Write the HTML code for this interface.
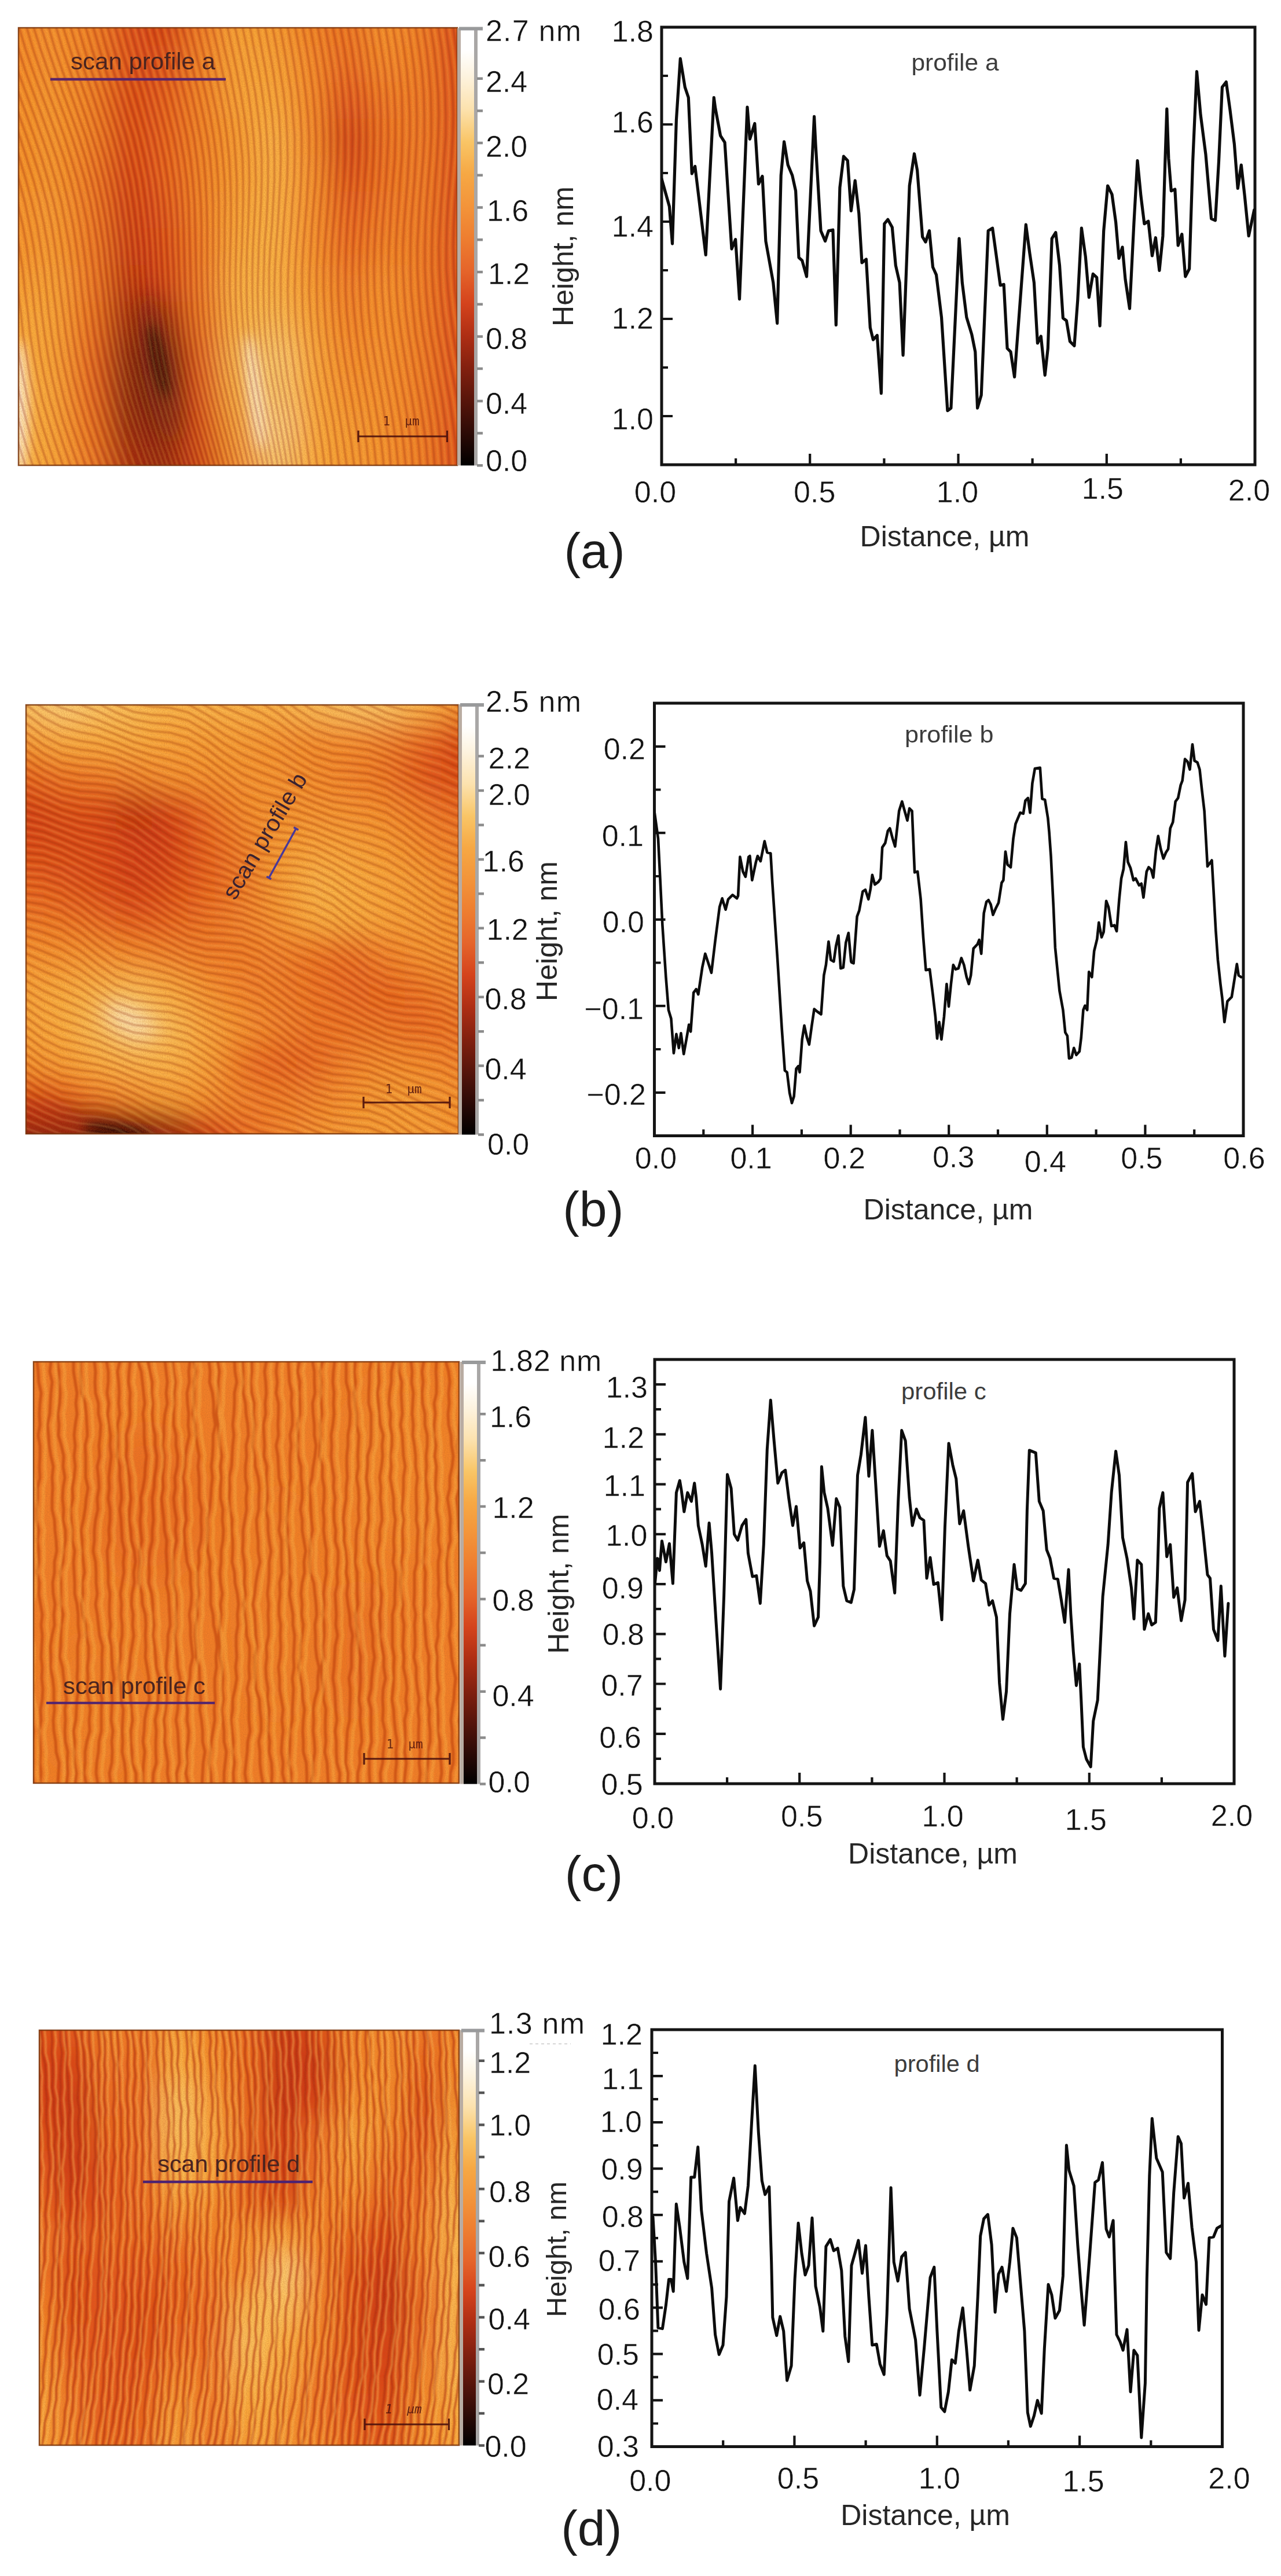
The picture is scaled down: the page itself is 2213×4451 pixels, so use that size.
<!DOCTYPE html>
<html lang="en"><head><meta charset="utf-8"><title>AFM scan profiles</title>
<style>html,body{margin:0;padding:0;background:#fff}svg{display:block}</style></head>
<body>
<svg width="2213" height="4451" viewBox="0 0 2213 4451" font-family='"Liberation Sans", sans-serif'>
<defs>
<filter id="bl30" x="-30%" y="-30%" width="160%" height="160%"><feGaussianBlur stdDeviation="30"/></filter>
<filter id="bl18" x="-30%" y="-30%" width="160%" height="160%"><feGaussianBlur stdDeviation="18"/></filter>
<filter id="bl10" x="-30%" y="-30%" width="160%" height="160%"><feGaussianBlur stdDeviation="10"/></filter>
<filter id="bl1"><feGaussianBlur stdDeviation="1.2"/></filter>
<filter id="grain" x="0" y="0" width="100%" height="100%"><feTurbulence type="fractalNoise" baseFrequency="0.55" numOctaves="2" seed="7"/><feColorMatrix type="matrix" values="0 0 0 0 0.45  0 0 0 0 0.12  0 0 0 0 0.02  0.9 0.9 0 0 -0.72"/></filter>
</defs>
<rect width="2213" height="4451" fill="#fff"/>
<clipPath id="clipa"><rect x="31" y="47" width="760" height="758"/></clipPath>
<g clip-path="url(#clipa)">
<rect x="31" y="47" width="760" height="758" fill="#f28028"/>
<filter id="tga" x="-5%" y="-5%" width="110%" height="110%"><feGaussianBlur stdDeviation="26.5"/></filter>
<g filter="url(#tga)">
<rect x="-71" y="-55" width="134" height="134" fill="#f5892b"/>
<rect x="63" y="-55" width="64" height="134" fill="#f7922d"/>
<rect x="126" y="-55" width="64" height="134" fill="#f28028"/>
<rect x="189" y="-55" width="64" height="134" fill="#e0501a"/>
<rect x="253" y="-55" width="64" height="134" fill="#d63e16"/>
<rect x="316" y="-55" width="64" height="134" fill="#f07825"/>
<rect x="379" y="-55" width="64" height="134" fill="#f9a438"/>
<rect x="443" y="-55" width="64" height="134" fill="#f89b32"/>
<rect x="506" y="-55" width="64" height="134" fill="#f28028"/>
<rect x="569" y="-55" width="64" height="134" fill="#ed6f23"/>
<rect x="633" y="-55" width="64" height="134" fill="#f7922d"/>
<rect x="696" y="-55" width="64" height="134" fill="#f17c27"/>
<rect x="759" y="-55" width="134" height="134" fill="#e0501a"/>
<rect x="-71" y="79" width="134" height="64" fill="#f5892b"/>
<rect x="63" y="79" width="64" height="64" fill="#f7922d"/>
<rect x="126" y="79" width="64" height="64" fill="#f28028"/>
<rect x="189" y="79" width="64" height="64" fill="#e0501a"/>
<rect x="253" y="79" width="64" height="64" fill="#e0501a"/>
<rect x="316" y="79" width="64" height="64" fill="#f28028"/>
<rect x="379" y="79" width="64" height="64" fill="#f9a438"/>
<rect x="443" y="79" width="64" height="64" fill="#f9a438"/>
<rect x="506" y="79" width="64" height="64" fill="#f5892b"/>
<rect x="569" y="79" width="64" height="64" fill="#ea6620"/>
<rect x="633" y="79" width="64" height="64" fill="#f5892b"/>
<rect x="696" y="79" width="64" height="64" fill="#f17c27"/>
<rect x="759" y="79" width="134" height="64" fill="#e0501a"/>
<rect x="-71" y="142" width="134" height="64" fill="#f68e2c"/>
<rect x="63" y="142" width="64" height="64" fill="#f7962f"/>
<rect x="126" y="142" width="64" height="64" fill="#f28028"/>
<rect x="189" y="142" width="64" height="64" fill="#da4417"/>
<rect x="253" y="142" width="64" height="64" fill="#e65c1d"/>
<rect x="316" y="142" width="64" height="64" fill="#f28028"/>
<rect x="379" y="142" width="64" height="64" fill="#f9a438"/>
<rect x="443" y="142" width="64" height="64" fill="#fbac3d"/>
<rect x="506" y="142" width="64" height="64" fill="#f5892b"/>
<rect x="569" y="142" width="64" height="64" fill="#e0501a"/>
<rect x="633" y="142" width="64" height="64" fill="#f07825"/>
<rect x="696" y="142" width="64" height="64" fill="#f17c27"/>
<rect x="759" y="142" width="134" height="64" fill="#e0501a"/>
<rect x="-71" y="205" width="134" height="64" fill="#f68e2c"/>
<rect x="63" y="205" width="64" height="64" fill="#f7962f"/>
<rect x="126" y="205" width="64" height="64" fill="#f28028"/>
<rect x="189" y="205" width="64" height="64" fill="#da4417"/>
<rect x="253" y="205" width="64" height="64" fill="#e65c1d"/>
<rect x="316" y="205" width="64" height="64" fill="#f28028"/>
<rect x="379" y="205" width="64" height="64" fill="#f89b32"/>
<rect x="443" y="205" width="64" height="64" fill="#fcb64a"/>
<rect x="506" y="205" width="64" height="64" fill="#f5892b"/>
<rect x="569" y="205" width="64" height="64" fill="#d03b14"/>
<rect x="633" y="205" width="64" height="64" fill="#ed6f23"/>
<rect x="696" y="205" width="64" height="64" fill="#f17c27"/>
<rect x="759" y="205" width="134" height="64" fill="#e0501a"/>
<rect x="-71" y="268" width="134" height="64" fill="#f68e2c"/>
<rect x="63" y="268" width="64" height="64" fill="#f7962f"/>
<rect x="126" y="268" width="64" height="64" fill="#f07825"/>
<rect x="189" y="268" width="64" height="64" fill="#d63e16"/>
<rect x="253" y="268" width="64" height="64" fill="#e65c1d"/>
<rect x="316" y="268" width="64" height="64" fill="#f28028"/>
<rect x="379" y="268" width="64" height="64" fill="#f89b32"/>
<rect x="443" y="268" width="64" height="64" fill="#fcb64a"/>
<rect x="506" y="268" width="64" height="64" fill="#f7922d"/>
<rect x="569" y="268" width="64" height="64" fill="#da4417"/>
<rect x="633" y="268" width="64" height="64" fill="#ed6f23"/>
<rect x="696" y="268" width="64" height="64" fill="#f17c27"/>
<rect x="759" y="268" width="134" height="64" fill="#e0501a"/>
<rect x="-71" y="331" width="134" height="64" fill="#f7922d"/>
<rect x="63" y="331" width="64" height="64" fill="#f89b32"/>
<rect x="126" y="331" width="64" height="64" fill="#f07825"/>
<rect x="189" y="331" width="64" height="64" fill="#d03b14"/>
<rect x="253" y="331" width="64" height="64" fill="#e0501a"/>
<rect x="316" y="331" width="64" height="64" fill="#f28028"/>
<rect x="379" y="331" width="64" height="64" fill="#f9a438"/>
<rect x="443" y="331" width="64" height="64" fill="#fcb64a"/>
<rect x="506" y="331" width="64" height="64" fill="#f7922d"/>
<rect x="569" y="331" width="64" height="64" fill="#e65c1d"/>
<rect x="633" y="331" width="64" height="64" fill="#f07825"/>
<rect x="696" y="331" width="64" height="64" fill="#f17c27"/>
<rect x="759" y="331" width="134" height="64" fill="#e0501a"/>
<rect x="-71" y="394" width="134" height="64" fill="#f7922d"/>
<rect x="63" y="394" width="64" height="64" fill="#f89b32"/>
<rect x="126" y="394" width="64" height="64" fill="#f07825"/>
<rect x="189" y="394" width="64" height="64" fill="#ca3713"/>
<rect x="253" y="394" width="64" height="64" fill="#da4417"/>
<rect x="316" y="394" width="64" height="64" fill="#f07825"/>
<rect x="379" y="394" width="64" height="64" fill="#fbac3d"/>
<rect x="443" y="394" width="64" height="64" fill="#fcb64a"/>
<rect x="506" y="394" width="64" height="64" fill="#f7922d"/>
<rect x="569" y="394" width="64" height="64" fill="#ea6620"/>
<rect x="633" y="394" width="64" height="64" fill="#f28028"/>
<rect x="696" y="394" width="64" height="64" fill="#f17c27"/>
<rect x="759" y="394" width="134" height="64" fill="#e0501a"/>
<rect x="-71" y="458" width="134" height="64" fill="#f89b32"/>
<rect x="63" y="458" width="64" height="64" fill="#f9a438"/>
<rect x="126" y="458" width="64" height="64" fill="#f07825"/>
<rect x="189" y="458" width="64" height="64" fill="#b82b10"/>
<rect x="253" y="458" width="64" height="64" fill="#d03b14"/>
<rect x="316" y="458" width="64" height="64" fill="#f07825"/>
<rect x="379" y="458" width="64" height="64" fill="#fcb64a"/>
<rect x="443" y="458" width="64" height="64" fill="#fcb64a"/>
<rect x="506" y="458" width="64" height="64" fill="#f89b32"/>
<rect x="569" y="458" width="64" height="64" fill="#f07825"/>
<rect x="633" y="458" width="64" height="64" fill="#f7922d"/>
<rect x="696" y="458" width="64" height="64" fill="#f17c27"/>
<rect x="759" y="458" width="134" height="64" fill="#e0501a"/>
<rect x="-71" y="521" width="134" height="64" fill="#fbac3d"/>
<rect x="63" y="521" width="64" height="64" fill="#f9a438"/>
<rect x="126" y="521" width="64" height="64" fill="#ed6f23"/>
<rect x="189" y="521" width="64" height="64" fill="#99220d"/>
<rect x="253" y="521" width="64" height="64" fill="#99220d"/>
<rect x="316" y="521" width="64" height="64" fill="#ed6f23"/>
<rect x="379" y="521" width="64" height="64" fill="#fcb64a"/>
<rect x="443" y="521" width="64" height="64" fill="#fcbf58"/>
<rect x="506" y="521" width="64" height="64" fill="#f9a438"/>
<rect x="569" y="521" width="64" height="64" fill="#f28028"/>
<rect x="633" y="521" width="64" height="64" fill="#f7922d"/>
<rect x="696" y="521" width="64" height="64" fill="#f17c27"/>
<rect x="759" y="521" width="134" height="64" fill="#e0501a"/>
<rect x="-71" y="584" width="134" height="64" fill="#fbac3d"/>
<rect x="63" y="584" width="64" height="64" fill="#f9a438"/>
<rect x="126" y="584" width="64" height="64" fill="#ea6620"/>
<rect x="189" y="584" width="64" height="64" fill="#7c1a0b"/>
<rect x="253" y="584" width="64" height="64" fill="#541108"/>
<rect x="316" y="584" width="64" height="64" fill="#e65c1d"/>
<rect x="379" y="584" width="64" height="64" fill="#fcbf58"/>
<rect x="443" y="584" width="64" height="64" fill="#fdd37e"/>
<rect x="506" y="584" width="64" height="64" fill="#fbac3d"/>
<rect x="569" y="584" width="64" height="64" fill="#f5892b"/>
<rect x="633" y="584" width="64" height="64" fill="#f7922d"/>
<rect x="696" y="584" width="64" height="64" fill="#f17c27"/>
<rect x="759" y="584" width="134" height="64" fill="#e0501a"/>
<rect x="-71" y="647" width="134" height="64" fill="#fcb64a"/>
<rect x="63" y="647" width="64" height="64" fill="#f9a438"/>
<rect x="126" y="647" width="64" height="64" fill="#ea6620"/>
<rect x="189" y="647" width="64" height="64" fill="#7c1a0b"/>
<rect x="253" y="647" width="64" height="64" fill="#611409"/>
<rect x="316" y="647" width="64" height="64" fill="#e0501a"/>
<rect x="379" y="647" width="64" height="64" fill="#fcb64a"/>
<rect x="443" y="647" width="64" height="64" fill="#fdd37e"/>
<rect x="506" y="647" width="64" height="64" fill="#fbac3d"/>
<rect x="569" y="647" width="64" height="64" fill="#f7922d"/>
<rect x="633" y="647" width="64" height="64" fill="#f7922d"/>
<rect x="696" y="647" width="64" height="64" fill="#f17c27"/>
<rect x="759" y="647" width="134" height="64" fill="#e0501a"/>
<rect x="-71" y="710" width="134" height="64" fill="#fcb64a"/>
<rect x="63" y="710" width="64" height="64" fill="#f9a438"/>
<rect x="126" y="710" width="64" height="64" fill="#ed6f23"/>
<rect x="189" y="710" width="64" height="64" fill="#8a1e0c"/>
<rect x="253" y="710" width="64" height="64" fill="#7c1a0b"/>
<rect x="316" y="710" width="64" height="64" fill="#da4417"/>
<rect x="379" y="710" width="64" height="64" fill="#f9a438"/>
<rect x="443" y="710" width="64" height="64" fill="#fedd98"/>
<rect x="506" y="710" width="64" height="64" fill="#fbac3d"/>
<rect x="569" y="710" width="64" height="64" fill="#f89b32"/>
<rect x="633" y="710" width="64" height="64" fill="#f7922d"/>
<rect x="696" y="710" width="64" height="64" fill="#f17c27"/>
<rect x="759" y="710" width="134" height="64" fill="#e0501a"/>
<rect x="-71" y="773" width="134" height="134" fill="#fcb64a"/>
<rect x="63" y="773" width="64" height="134" fill="#f9a438"/>
<rect x="126" y="773" width="64" height="134" fill="#f07825"/>
<rect x="189" y="773" width="64" height="134" fill="#a9270f"/>
<rect x="253" y="773" width="64" height="134" fill="#8a1e0c"/>
<rect x="316" y="773" width="64" height="134" fill="#d03b14"/>
<rect x="379" y="773" width="64" height="134" fill="#f7922d"/>
<rect x="443" y="773" width="64" height="134" fill="#fdd37e"/>
<rect x="506" y="773" width="64" height="134" fill="#fbac3d"/>
<rect x="569" y="773" width="64" height="134" fill="#f89b32"/>
<rect x="633" y="773" width="64" height="134" fill="#f7922d"/>
<rect x="696" y="773" width="64" height="134" fill="#f17c27"/>
<rect x="759" y="773" width="134" height="134" fill="#e0501a"/>
</g>
<g filter="url(#bl18)">
<ellipse cx="275" cy="637" rx="30" ry="130" fill="#6e170a" opacity="0.7" transform="rotate(-10 275 637)"/>
</g>
<g filter="url(#bl10)">
<ellipse cx="441" cy="679" rx="13" ry="100" fill="#fef3d9" opacity="0.9" transform="rotate(-7 441 679)"/>
<ellipse cx="33" cy="707" rx="15" ry="120" fill="#fff6e3" opacity="0.95"/>
</g>
<g filter="url(#bl10)">
<ellipse cx="274" cy="624" rx="8" ry="66" fill="#0d0201" opacity="0.95" transform="rotate(-12 274 624)"/>
</g>
<path d="M-182,47 -173,85 -162,123 -150,161 -136,199 -122,236 -109,274 -96,312 -84,350 -74,388 -66,426 -59,464 -54,502 -50,540 -46,578 -41,616 -35,653 -27,691 -18,729 -7,767 5,805M-169,47 -160,85 -149,123 -137,161 -123,199 -109,236 -96,274 -83,312 -71,350 -62,388 -54,426 -47,464 -42,502 -38,540 -33,578 -28,616 -22,653 -15,691 -5,729 6,767 18,805M-157,47 -147,85 -136,123 -124,161 -110,199 -96,236 -83,274 -70,312 -59,350 -49,388 -41,426 -35,464 -30,502 -25,540 -21,578 -16,616 -10,653 -2,691 7,729 19,767 31,805M-144,47 -135,85 -123,123 -111,161 -97,199 -83,236 -70,274 -57,312 -46,350 -36,388 -29,426 -23,464 -18,502 -13,540 -9,578 -4,616 3,653 10,691 20,729 32,767 44,805M-132,47 -122,85 -111,123 -98,161 -84,199 -70,236 -57,274 -44,312 -33,350 -24,388 -16,426 -10,464 -5,502 -1,540 3,578 9,616 15,653 23,691 33,729 44,767 57,805M-119,47 -109,85 -98,123 -85,161 -71,199 -57,236 -44,274 -31,312 -21,350 -11,388 -4,426 2,464 7,502 11,540 16,578 21,616 27,653 36,691 46,729 57,767 70,805M-106,47 -96,85 -85,123 -72,161 -58,199 -44,236 -31,274 -19,312 -8,350 1,388 9,426 14,464 19,502 23,540 28,578 33,616 40,653 48,691 58,729 70,767 83,805M-94,47 -84,85 -72,123 -59,161 -45,199 -31,236 -18,274 -6,312 5,350 14,388 21,426 27,464 31,502 36,540 40,578 46,616 52,653 61,691 71,729 83,767 96,805M-81,47 -71,85 -59,123 -46,161 -32,199 -18,236 -5,274 7,312 17,350 26,388 33,426 39,464 43,502 48,540 52,578 58,616 65,653 73,691 84,729 96,767 109,805M-69,47 -58,85 -46,123 -33,161 -19,199 -5,236 8,274 20,312 30,350 39,388 46,426 51,464 56,502 60,540 65,578 70,616 77,653 86,691 97,729 109,767 122,805M-56,47 -45,85 -33,123 -20,161 -6,199 8,236 21,274 33,312 43,350 51,388 58,426 63,464 68,502 72,540 77,578 83,616 90,653 99,691 109,729 122,767 135,805M-43,47 -33,85 -20,123 -7,161 7,199 21,236 34,274 45,312 55,350 64,388 70,426 76,464 80,502 84,540 89,578 95,616 102,653 111,691 122,729 135,767 148,805M-31,47 -20,85 -7,123 6,161 20,199 34,236 46,274 58,312 68,350 76,388 83,426 88,464 92,502 97,540 101,578 107,616 115,653 124,691 135,729 148,767 161,805M-18,47 -7,85 5,123 19,161 33,199 46,236 59,274 71,312 81,350 89,388 95,426 100,464 104,502 109,540 114,578 120,616 127,653 137,691 148,729 161,767 174,805M-5,47 6,85 18,123 32,161 46,199 59,236 72,274 83,312 93,350 101,388 107,426 112,464 117,502 121,540 126,578 132,616 140,653 150,691 161,729 173,767 187,805M7,47 19,85 31,123 45,161 59,199 72,236 85,274 96,312 106,350 113,388 120,426 125,464 129,502 133,540 138,578 145,616 153,653 162,691 174,729 186,767 200,805M20,47 32,85 44,123 58,161 72,199 85,236 98,274 109,312 118,350 126,388 132,426 137,464 141,502 146,540 151,578 157,616 165,653 175,691 186,729 199,767 213,805M33,47 44,85 57,123 71,161 85,199 98,236 111,274 122,312 131,350 138,388 144,426 149,464 153,502 158,540 163,578 170,616 178,653 188,691 199,729 212,767 226,805M46,47 57,85 70,123 84,161 98,199 111,236 123,274 134,312 143,350 151,388 156,426 161,464 165,502 170,540 175,578 182,616 190,653 200,691 212,729 225,767 239,805M58,47 70,85 83,123 97,161 111,199 124,236 136,274 147,312 156,350 163,388 169,426 173,464 178,502 182,540 188,578 194,616 203,653 213,691 225,729 238,767 252,805M71,47 83,85 96,123 109,161 123,199 136,236 148,274 158,312 167,350 173,388 179,426 183,464 187,502 192,540 197,578 204,616 212,653 222,691 234,729 247,767 261,805M84,47 95,85 108,123 122,161 135,199 148,236 159,274 169,312 177,350 184,388 189,426 193,464 197,502 201,540 206,578 213,616 221,653 231,691 243,729 256,767 269,805M97,47 108,85 121,123 134,161 147,199 159,236 171,274 180,312 188,350 194,388 199,426 203,464 206,502 210,540 215,578 222,616 230,653 240,691 252,729 264,767 278,805M109,47 121,85 133,123 146,161 159,199 171,236 182,274 191,312 199,350 204,388 209,426 212,464 216,502 220,540 225,578 231,616 239,653 249,691 261,729 273,767 286,805M122,47 133,85 146,123 159,161 171,199 183,236 193,274 202,312 209,350 215,388 219,426 222,464 225,502 229,540 234,578 240,616 248,653 258,691 269,729 282,767 295,805M135,47 146,85 158,123 171,161 183,199 195,236 205,274 213,312 220,350 225,388 229,426 232,464 235,502 238,540 243,578 249,616 257,653 267,691 278,729 290,767 303,805M148,47 159,85 171,123 183,161 195,199 206,236 216,274 224,312 230,350 235,388 239,426 241,464 244,502 248,540 252,578 258,616 266,653 276,691 287,729 299,767 312,805M161,47 172,85 183,123 195,161 207,199 218,236 227,274 235,312 241,350 245,388 249,426 251,464 254,502 257,540 262,578 268,616 275,653 285,691 296,729 308,767 320,805M174,47 184,85 196,123 208,161 219,199 230,236 239,274 246,312 252,350 256,388 259,426 261,464 263,502 266,540 271,578 277,616 285,653 294,691 305,729 317,767 328,805M186,47 197,85 208,123 220,161 231,199 241,236 250,274 257,312 262,350 266,388 269,426 271,464 273,502 276,540 280,578 286,616 294,653 303,691 314,729 325,767 337,805M199,47 210,85 221,123 232,161 243,199 253,236 261,274 268,312 273,350 276,388 278,426 280,464 282,502 285,540 289,578 295,616 303,653 312,691 323,729 334,767 345,805M212,47 222,85 234,123 245,161 255,199 265,236 273,274 279,312 283,350 286,388 288,426 290,464 292,502 295,540 299,578 304,616 312,653 321,691 332,729 343,767 354,805M225,47 235,85 246,123 257,161 267,199 276,236 284,274 290,312 294,350 297,388 298,426 300,464 301,502 304,540 308,578 314,616 321,653 330,691 340,729 351,767 362,805M238,47 248,85 259,123 269,161 279,199 288,236 295,274 301,312 305,350 307,388 308,426 309,464 311,502 313,540 317,578 323,616 330,653 339,691 349,729 360,767 371,805M251,47 261,85 271,123 282,161 291,199 300,236 307,274 312,312 315,350 317,388 318,426 319,464 320,502 323,540 327,578 332,616 339,653 348,691 358,729 369,767 379,805M264,47 273,85 284,123 294,161 303,199 311,236 318,274 323,312 326,350 327,388 328,426 329,464 330,502 332,540 336,578 341,616 349,653 357,691 367,729 377,767 387,805M277,47 286,85 296,123 306,161 315,199 323,236 329,274 333,312 336,350 337,388 338,426 339,464 340,502 342,540 345,578 351,616 358,653 366,691 376,729 386,767 396,805M290,47 299,85 309,123 318,161 327,199 335,236 340,274 344,312 347,350 348,388 348,426 348,464 349,502 351,540 355,578 360,616 367,653 375,691 385,729 395,767 404,805M303,47 312,85 321,123 331,161 339,199 346,236 352,274 355,312 357,350 358,388 358,426 358,464 359,502 361,540 364,578 369,616 376,653 385,691 394,729 403,767 413,805M315,47 325,85 334,123 343,161 351,199 358,236 363,274 366,312 368,350 368,388 368,426 368,464 368,502 370,540 373,578 379,616 385,653 394,691 403,729 412,767 421,805M328,47 337,85 346,123 355,161 363,199 369,236 374,274 377,312 378,350 378,388 378,426 377,464 378,502 380,540 383,578 388,616 395,653 403,691 412,729 421,767 430,805M341,47 350,85 359,123 367,161 375,199 381,236 385,274 388,312 389,350 388,388 388,426 387,464 387,502 389,540 392,578 397,616 404,653 412,691 421,729 429,767 438,805M354,47 363,85 372,123 380,161 387,199 392,236 396,274 398,312 399,350 399,388 398,426 397,464 397,502 399,540 402,578 407,616 413,653 421,691 430,729 438,767 446,805M367,47 376,85 384,123 392,161 399,199 404,236 407,274 409,312 409,350 409,388 408,426 407,464 407,502 408,540 411,578 416,616 422,653 430,691 438,729 447,767 455,805M380,47 388,85 397,123 404,161 411,199 415,236 419,274 420,312 420,350 419,388 418,426 416,464 416,502 418,540 421,578 425,616 432,653 439,691 447,729 456,767 463,805M393,47 401,85 409,123 416,161 422,199 427,236 430,274 431,312 430,350 429,388 427,426 426,464 426,502 427,540 430,578 435,616 441,653 448,691 456,729 464,767 471,805M406,47 414,85 422,123 429,161 434,199 438,236 441,274 442,312 441,350 439,388 437,426 436,464 436,502 437,540 440,578 444,616 450,653 457,691 465,729 473,767 480,805M419,47 427,85 434,123 441,161 446,199 450,236 452,274 452,312 451,350 449,388 447,426 446,464 445,502 446,540 449,578 453,616 459,653 467,691 474,729 481,767 488,805M432,47 439,85 447,123 453,161 458,199 461,236 463,274 463,312 462,350 460,388 457,426 456,464 455,502 456,540 458,578 463,616 469,653 476,691 483,729 490,767 496,805M445,47 452,85 459,123 465,161 470,199 473,236 474,274 474,312 472,350 470,388 467,426 465,464 465,502 465,540 468,578 472,616 478,653 485,691 492,729 499,767 505,805M458,47 465,85 472,123 477,161 482,199 484,236 485,274 484,312 482,350 480,388 477,426 475,464 474,502 475,540 478,578 482,616 487,653 494,691 501,729 507,767 513,805M471,47 478,85 484,123 490,161 494,199 496,236 497,274 496,312 493,350 490,388 488,426 485,464 485,502 485,540 488,578 492,616 497,653 504,691 511,729 517,767 522,805M484,47 491,85 497,123 503,161 506,199 509,236 509,274 508,312 505,350 503,388 500,426 498,464 497,502 498,540 500,578 505,616 510,653 517,691 524,729 530,767 535,805M497,47 504,85 510,123 515,161 519,199 521,236 521,274 520,312 518,350 515,388 512,426 510,464 509,502 510,540 513,578 518,616 523,653 530,691 537,729 543,767 548,805M510,47 517,85 523,123 528,161 532,199 534,236 534,274 532,312 530,350 527,388 524,426 522,464 522,502 523,540 526,578 531,616 536,653 543,691 550,729 556,767 561,805M523,47 530,85 536,123 541,161 544,199 546,236 546,274 545,312 542,350 539,388 537,426 535,464 534,502 536,540 539,578 543,616 549,653 556,691 563,729 569,767 573,805M536,47 543,85 549,123 554,161 557,199 559,236 559,274 557,312 554,350 551,388 549,426 547,464 547,502 548,540 551,578 556,616 562,653 569,691 576,729 581,767 586,805M549,47 556,85 562,123 567,161 570,199 571,236 571,274 569,312 567,350 564,388 561,426 559,464 559,502 561,540 564,578 569,616 575,653 582,691 588,729 594,767 599,805M562,47 569,85 575,123 579,161 582,199 584,236 583,274 581,312 579,350 576,388 573,426 572,464 572,502 574,540 577,578 582,616 588,653 595,691 601,729 607,767 612,805M575,47 582,85 588,123 592,161 595,199 596,236 596,274 594,312 591,350 588,388 586,426 584,464 584,502 586,540 590,578 595,616 601,653 608,691 614,729 620,767 624,805M588,47 595,85 600,123 605,161 608,199 609,236 608,274 606,312 603,350 600,388 598,426 597,464 597,502 599,540 603,578 608,616 614,653 621,691 627,729 633,767 637,805M601,47 608,85 613,123 618,161 620,199 621,236 620,274 618,312 615,350 612,388 610,426 609,464 609,502 612,540 616,578 621,616 627,653 634,691 640,729 646,767 650,805M614,47 621,85 626,123 630,161 633,199 633,236 633,274 630,312 628,350 625,388 622,426 621,464 622,502 624,540 628,578 634,616 640,653 647,691 653,729 659,767 663,805M627,47 634,85 639,123 643,161 645,199 646,236 645,274 643,312 640,350 637,388 635,426 634,464 635,502 637,540 641,578 647,616 653,653 660,691 666,729 672,767 675,805M640,47 646,85 652,123 656,161 658,199 658,236 657,274 655,312 652,350 649,388 647,426 646,464 647,502 650,540 654,578 660,616 666,653 673,691 679,729 684,767 688,805M653,47 659,85 665,123 668,161 670,199 671,236 669,274 667,312 664,350 661,388 659,426 659,464 660,502 663,540 667,578 673,616 679,653 686,691 692,729 697,767 701,805M666,47 672,85 677,123 681,161 683,199 683,236 682,274 679,312 676,350 674,388 672,426 671,464 672,502 675,540 680,578 686,616 692,653 699,691 705,729 710,767 713,805M679,47 685,85 690,123 694,161 695,199 695,236 694,274 691,312 689,350 686,388 684,426 684,464 685,502 688,540 693,578 699,616 705,653 712,691 718,729 723,767 726,805M692,47 698,85 703,123 706,161 708,199 708,236 706,274 704,312 701,350 698,388 696,426 696,464 698,502 701,540 706,578 712,616 718,653 725,691 731,729 736,767 739,805M705,47 711,85 716,123 719,161 720,199 720,236 718,274 716,312 713,350 710,388 709,426 709,464 710,502 714,540 718,578 725,616 731,653 738,691 744,729 748,767 751,805M718,47 724,85 729,123 732,161 733,199 733,236 731,274 728,312 725,350 723,388 721,426 721,464 723,502 726,540 731,578 738,616 744,653 751,691 757,729 761,767 764,805M731,47 737,85 741,123 744,161 745,199 745,236 743,274 740,312 737,350 735,388 734,426 734,464 736,502 739,540 744,578 751,616 757,653 764,691 769,729 774,767 776,805M744,47 750,85 754,123 757,161 758,199 757,236 755,274 752,312 750,350 747,388 746,426 746,464 748,502 752,540 757,578 764,616 770,653 777,691 782,729 787,767 789,805M757,47 763,85 767,123 769,161 770,199 770,236 767,274 765,312 762,350 760,388 758,426 759,464 761,502 765,540 770,578 776,616 783,653 790,691 795,729 799,767 802,805M770,47 775,85 780,123 782,161 783,199 782,236 780,274 777,312 774,350 772,388 771,426 771,464 774,502 778,540 783,578 789,616 796,653 803,691 808,729 812,767 814,805M783,47 788,85 792,123 795,161 795,199 794,236 792,274 789,312 786,350 784,388 783,426 784,464 786,502 791,540 796,578 802,616 809,653 815,691 821,729 825,767 827,805M796,47 801,85 805,123 807,161 808,199 806,236 804,274 801,312 798,350 796,388 796,426 796,464 799,502 803,540 809,578 815,616 822,653 828,691 834,729 837,767 839,805M809,47 814,85 818,123 820,161 820,199 819,236 816,274 813,312 811,350 809,388 808,426 809,464 812,502 816,540 822,578 828,616 835,653 841,691 846,729 850,767 852,805M822,47 827,85 830,123 832,161 832,199 831,236 829,274 826,312 823,350 821,388 821,426 822,464 825,502 829,540 835,578 841,616 848,653 854,691 859,729 863,767 864,805M835,47 840,85 843,123 845,161 845,199 843,236 841,274 838,312 835,350 833,388 833,426 834,464 837,502 842,540 848,578 854,616 861,653 867,691 872,729 875,767 877,805" fill="none" stroke="#902408" stroke-width="3.0" opacity="0.36" stroke-linejoin="round" filter="url(#bl1)"/>
<path d="M-175,47 -166,85 -155,123 -143,161 -130,199 -116,236 -102,274 -89,312 -78,350 -68,388 -60,426 -53,464 -48,502 -44,540 -39,578 -35,616 -29,653 -21,691 -12,729 -1,767 12,805M-163,47 -154,85 -143,123 -130,161 -117,199 -103,236 -89,274 -76,312 -65,350 -55,388 -47,426 -41,464 -36,502 -32,540 -27,578 -22,616 -16,653 -8,691 1,729 12,767 25,805M-150,47 -141,85 -130,123 -117,161 -104,199 -90,236 -76,274 -64,312 -52,350 -43,388 -35,426 -29,464 -24,502 -19,540 -15,578 -10,616 -4,653 4,691 14,729 25,767 38,805M-138,47 -128,85 -117,123 -104,161 -91,199 -77,236 -63,274 -51,312 -40,350 -30,388 -22,426 -16,464 -11,502 -7,540 -3,578 2,616 9,653 17,691 27,729 38,767 51,805M-125,47 -116,85 -104,123 -91,161 -78,199 -64,236 -50,274 -38,312 -27,350 -18,388 -10,426 -4,464 1,502 5,540 10,578 15,616 21,653 29,691 39,729 51,767 64,805M-113,47 -103,85 -91,123 -78,161 -65,199 -51,236 -37,274 -25,312 -14,350 -5,388 2,426 8,464 13,502 17,540 22,578 27,616 34,653 42,691 52,729 64,767 77,805M-100,47 -90,85 -78,123 -65,161 -52,199 -38,236 -24,274 -12,312 -1,350 7,388 15,426 20,464 25,502 29,540 34,578 39,616 46,653 55,691 65,729 77,767 90,805M-87,47 -77,85 -66,123 -53,161 -39,199 -25,236 -12,274 1,312 11,350 20,388 27,426 33,464 37,502 42,540 46,578 52,616 59,653 67,691 78,729 89,767 103,805M-75,47 -65,85 -53,123 -40,161 -26,199 -12,236 1,274 13,312 24,350 32,388 39,426 45,464 50,502 54,540 59,578 64,616 71,653 80,691 90,729 102,767 116,805M-62,47 -52,85 -40,123 -27,161 -13,199 1,236 14,274 26,312 36,350 45,388 52,426 57,464 62,502 66,540 71,578 76,616 84,653 92,691 103,729 115,767 129,805M-50,47 -39,85 -27,123 -14,161 0,199 14,236 27,274 39,312 49,350 57,388 64,426 69,464 74,502 78,540 83,578 89,616 96,653 105,691 116,729 128,767 142,805M-37,47 -26,85 -14,123 -1,161 13,199 27,236 40,274 52,312 62,350 70,388 76,426 82,464 86,502 91,540 95,578 101,616 109,653 118,691 129,729 141,767 155,805M-24,47 -13,85 -1,123 12,161 26,199 40,236 53,274 64,312 74,350 82,388 89,426 94,464 98,502 103,540 108,578 114,616 121,653 130,691 142,729 154,767 168,805M-12,47 -1,85 12,123 25,161 39,199 53,236 66,274 77,312 87,350 95,388 101,426 106,464 111,502 115,540 120,578 126,616 134,653 143,691 154,729 167,767 181,805M1,47 12,85 25,123 38,161 52,199 66,236 79,274 90,312 99,350 107,388 113,426 118,464 123,502 127,540 132,578 138,616 146,653 156,691 167,729 180,767 194,805M14,47 25,85 38,123 51,161 65,199 79,236 91,274 103,312 112,350 120,388 126,426 131,464 135,502 139,540 145,578 151,616 159,653 169,691 180,729 193,767 207,805M27,47 38,85 51,123 64,161 78,199 92,236 104,274 115,312 125,350 132,388 138,426 143,464 147,502 152,540 157,578 163,616 171,653 181,691 193,729 206,767 220,805M39,47 51,85 64,123 77,161 91,199 105,236 117,274 128,312 137,350 144,388 150,426 155,464 159,502 164,540 169,578 176,616 184,653 194,691 206,729 219,767 233,805M52,47 64,85 77,123 90,161 104,199 118,236 130,274 141,312 150,350 157,388 163,426 167,464 172,502 176,540 181,578 188,616 197,653 207,691 219,729 232,767 246,805M65,47 76,85 89,123 103,161 117,199 130,236 142,274 153,312 161,350 168,388 174,426 178,464 183,502 187,540 192,578 199,616 208,653 218,691 230,729 243,767 256,805M78,47 89,85 102,123 115,161 129,199 142,236 153,274 164,312 172,350 179,388 184,426 188,464 192,502 196,540 202,578 208,616 217,653 227,691 239,729 251,767 265,805M90,47 102,85 114,123 128,161 141,199 154,236 165,274 175,312 183,350 189,388 194,426 198,464 202,502 206,540 211,578 217,616 226,653 236,691 247,729 260,767 273,805M103,47 114,85 127,123 140,161 153,199 165,236 176,274 186,312 193,350 199,388 204,426 207,464 211,502 215,540 220,578 226,616 235,653 245,691 256,729 269,767 282,805M116,47 127,85 139,123 152,161 165,199 177,236 188,274 197,312 204,350 209,388 214,426 217,464 221,502 224,540 229,578 236,616 244,653 254,691 265,729 277,767 290,805M129,47 140,85 152,123 165,161 177,199 189,236 199,274 208,312 215,350 220,388 224,426 227,464 230,502 234,540 238,578 245,616 253,653 263,691 274,729 286,767 299,805M142,47 153,85 165,123 177,161 189,199 200,236 210,274 219,312 225,350 230,388 234,426 237,464 239,502 243,540 248,578 254,616 262,653 272,691 283,729 295,767 307,805M154,47 165,85 177,123 189,161 201,199 212,236 222,274 230,312 236,350 240,388 244,426 246,464 249,502 252,540 257,578 263,616 271,653 281,691 292,729 304,767 316,805M167,47 178,85 190,123 202,161 213,199 224,236 233,274 241,312 246,350 251,388 254,426 256,464 259,502 262,540 266,578 272,616 280,653 290,691 300,729 312,767 324,805M180,47 191,85 202,123 214,161 225,199 236,236 244,274 252,312 257,350 261,388 264,426 266,464 268,502 271,540 275,578 281,616 289,653 299,691 309,729 321,767 333,805M193,47 203,85 215,123 226,161 237,199 247,236 256,274 263,312 268,350 271,388 273,426 275,464 278,502 280,540 285,578 291,616 298,653 308,691 318,729 330,767 341,805M206,47 216,85 227,123 239,161 249,199 259,236 267,274 274,312 278,350 281,388 283,426 285,464 287,502 290,540 294,578 300,616 307,653 317,691 327,729 338,767 350,805M219,47 229,85 240,123 251,161 261,199 271,236 278,274 284,312 289,350 292,388 293,426 295,464 297,502 299,540 303,578 309,616 317,653 326,691 336,729 347,767 358,805M232,47 242,85 252,123 263,161 273,199 282,236 290,274 295,312 299,350 302,388 303,426 305,464 306,502 309,540 313,578 318,616 326,653 335,691 345,729 356,767 366,805M244,47 254,85 265,123 275,161 285,199 294,236 301,274 306,312 310,350 312,388 313,426 314,464 316,502 318,540 322,578 327,616 335,653 344,691 354,729 364,767 375,805M257,47 267,85 277,123 288,161 297,199 306,236 312,274 317,312 320,350 322,388 323,426 324,464 325,502 327,540 331,578 337,616 344,653 353,691 363,729 373,767 383,805M270,47 280,85 290,123 300,161 309,199 317,236 323,274 328,312 331,350 332,388 333,426 334,464 335,502 337,540 341,578 346,616 353,653 362,691 372,729 382,767 392,805M283,47 293,85 303,123 312,161 321,199 329,236 335,274 339,312 341,350 343,388 343,426 343,464 344,502 346,540 350,578 355,616 362,653 371,691 380,729 390,767 400,805M296,47 305,85 315,123 325,161 333,199 340,236 346,274 350,312 352,350 353,388 353,426 353,464 354,502 356,540 359,578 365,616 372,653 380,691 389,729 399,767 409,805M309,47 318,85 328,123 337,161 345,199 352,236 357,274 361,312 362,350 363,388 363,426 363,464 363,502 365,540 369,578 374,616 381,653 389,691 398,729 408,767 417,805M322,47 331,85 340,123 349,161 357,199 364,236 368,274 371,312 373,350 373,388 373,426 373,464 373,502 375,540 378,578 383,616 390,653 398,691 407,729 416,767 425,805M335,47 344,85 353,123 361,161 369,199 375,236 380,274 382,312 383,350 383,388 383,426 382,464 383,502 384,540 388,578 393,616 399,653 407,691 416,729 425,767 434,805M348,47 356,85 365,123 374,161 381,199 387,236 391,274 393,312 394,350 393,388 393,426 392,464 392,502 394,540 397,578 402,616 409,653 416,691 425,729 434,767 442,805M361,47 369,85 378,123 386,161 393,199 398,236 402,274 404,312 404,350 404,388 403,426 402,464 402,502 403,540 406,578 411,616 418,653 426,691 434,729 443,767 450,805M374,47 382,85 390,123 398,161 405,199 410,236 413,274 415,312 415,350 414,388 413,426 412,464 411,502 413,540 416,578 421,616 427,653 435,691 443,729 451,767 459,805M387,47 395,85 403,123 410,161 417,199 421,236 424,274 425,312 425,350 424,388 422,426 421,464 421,502 422,540 425,578 430,616 436,653 444,691 452,729 460,767 467,805M400,47 408,85 415,123 423,161 428,199 433,236 435,274 436,312 436,350 434,388 432,426 431,464 431,502 432,540 435,578 439,616 446,653 453,691 461,729 468,767 476,805M413,47 420,85 428,123 435,161 440,199 444,236 446,274 447,312 446,350 444,388 442,426 441,464 440,502 441,540 444,578 449,616 455,653 462,691 470,729 477,767 484,805M426,47 433,85 440,123 447,161 452,199 456,236 458,274 458,312 456,350 454,388 452,426 451,464 450,502 451,540 454,578 458,616 464,653 471,691 479,729 486,767 492,805M439,47 446,85 453,123 459,161 464,199 467,236 469,274 468,312 467,350 465,388 462,426 460,464 460,502 461,540 463,578 468,616 473,653 480,691 487,729 494,767 501,805M452,47 459,85 465,123 471,161 476,199 479,236 480,274 479,312 477,350 475,388 472,426 470,464 469,502 470,540 473,578 477,616 483,653 489,691 496,729 503,767 509,805M465,47 471,85 478,123 483,161 488,199 490,236 491,274 490,312 488,350 485,388 482,426 480,464 479,502 480,540 482,578 486,616 492,653 499,691 505,729 512,767 517,805M478,47 484,85 491,123 496,161 500,199 502,236 503,274 502,312 499,350 497,388 494,426 492,464 491,502 492,540 494,578 498,616 504,653 510,691 517,729 523,767 529,805M491,47 497,85 504,123 509,161 513,199 515,236 515,274 514,312 512,350 509,388 506,426 504,464 503,502 504,540 507,578 511,616 517,653 523,691 530,729 536,767 541,805M504,47 510,85 517,123 522,161 525,199 527,236 528,274 526,312 524,350 521,388 518,426 516,464 516,502 517,540 520,578 524,616 530,653 536,691 543,729 549,767 554,805M517,47 523,85 529,123 535,161 538,199 540,236 540,274 539,312 536,350 533,388 530,426 529,464 528,502 529,540 532,578 537,616 543,653 549,691 556,729 562,767 567,805M530,47 536,85 542,123 547,161 551,199 552,236 552,274 551,312 548,350 545,388 543,426 541,464 541,502 542,540 545,578 550,616 556,653 562,691 569,729 575,767 580,805M543,47 549,85 555,123 560,161 563,199 565,236 565,274 563,312 560,350 558,388 555,426 553,464 553,502 555,540 558,578 563,616 569,653 575,691 582,729 588,767 593,805M556,47 562,85 568,123 573,161 576,199 577,236 577,274 575,312 573,350 570,388 567,426 566,464 566,502 567,540 571,578 576,616 582,653 588,691 595,729 601,767 605,805M569,47 575,85 581,123 586,161 589,199 590,236 589,274 588,312 585,350 582,388 579,426 578,464 578,502 580,540 583,578 589,616 595,653 601,691 608,729 614,767 618,805M582,47 588,85 594,123 598,161 601,199 602,236 602,274 600,312 597,350 594,388 592,426 590,464 591,502 593,540 596,578 601,616 608,653 614,691 621,729 627,767 631,805M595,47 601,85 607,123 611,161 614,199 615,236 614,274 612,312 609,350 606,388 604,426 603,464 603,502 605,540 609,578 614,616 621,653 627,691 634,729 639,767 644,805M608,47 614,85 620,123 624,161 626,199 627,236 626,274 624,312 621,350 619,388 616,426 615,464 616,502 618,540 622,578 627,616 634,653 640,691 647,729 652,767 656,805M621,47 627,85 633,123 637,161 639,199 640,236 639,274 636,312 634,350 631,388 629,426 628,464 628,502 631,540 635,578 640,616 647,653 653,691 660,729 665,767 669,805M634,47 640,85 645,123 649,161 652,199 652,236 651,274 649,312 646,350 643,388 641,426 640,464 641,502 643,540 648,578 653,616 660,653 666,691 673,729 678,767 682,805M647,47 653,85 658,123 662,161 664,199 664,236 663,274 661,312 658,350 655,388 653,426 653,464 653,502 656,540 660,578 666,616 673,653 679,691 686,729 691,767 694,805M660,47 666,85 671,123 675,161 677,199 677,236 676,274 673,312 670,350 668,388 666,426 665,464 666,502 669,540 673,578 679,616 686,653 692,691 699,729 704,767 707,805M673,47 679,85 684,123 687,161 689,199 689,236 688,274 685,312 682,350 680,388 678,426 677,464 679,502 682,540 686,578 692,616 699,653 705,691 711,729 716,767 720,805M686,47 692,85 697,123 700,161 702,199 702,236 700,274 698,312 695,350 692,388 690,426 690,464 691,502 694,540 699,578 705,616 712,653 718,691 724,729 729,767 732,805M699,47 705,85 709,123 713,161 714,199 714,236 712,274 710,312 707,350 704,388 703,426 702,464 704,502 707,540 712,578 718,616 725,653 731,691 737,729 742,767 745,805M712,47 717,85 722,123 725,161 727,199 726,236 725,274 722,312 719,350 717,388 715,426 715,464 717,502 720,540 725,578 731,616 738,653 744,691 750,729 755,767 758,805M725,47 730,85 735,123 738,161 739,199 739,236 737,274 734,312 731,350 729,388 727,426 727,464 729,502 733,540 738,578 744,616 751,653 757,691 763,729 767,767 770,805M737,47 743,85 748,123 751,161 752,199 751,236 749,274 746,312 743,350 741,388 740,426 740,464 742,502 746,540 751,578 757,616 764,653 770,691 776,729 780,767 783,805M750,47 756,85 760,123 763,161 764,199 763,236 761,274 759,312 756,350 753,388 752,426 752,464 755,502 758,540 764,578 770,616 777,653 783,691 789,729 793,767 795,805M763,47 769,85 773,123 776,161 777,199 776,236 774,274 771,312 768,350 766,388 765,426 765,464 767,502 771,540 777,578 783,616 790,653 796,691 802,729 806,767 808,805M776,47 782,85 786,123 788,161 789,199 788,236 786,274 783,312 780,350 778,388 777,426 778,464 780,502 784,540 790,578 796,616 803,653 809,691 814,729 818,767 820,805M789,47 795,85 799,123 801,161 801,199 800,236 798,274 795,312 792,350 790,388 789,426 790,464 793,502 797,540 803,578 809,616 816,653 822,691 827,729 831,767 833,805M802,47 808,85 811,123 813,161 814,199 813,236 810,274 807,312 805,350 803,388 802,426 803,464 805,502 810,540 815,578 822,616 829,653 835,691 840,729 844,767 846,805M815,47 820,85 824,123 826,161 826,199 825,236 822,274 820,312 817,350 815,388 814,426 815,464 818,502 823,540 828,578 835,616 842,653 848,691 853,729 856,767 858,805M828,47 833,85 837,123 839,161 839,199 837,236 835,274 832,312 829,350 827,388 827,426 828,464 831,502 836,540 841,578 848,616 855,653 861,691 866,729 869,767 871,805M841,47 846,85 849,123 851,161 851,199 849,236 847,274 844,312 841,350 840,388 839,426 841,464 844,502 848,540 854,578 861,616 868,653 874,691 878,729 882,767 883,805" fill="none" stroke="#ffc848" stroke-width="3.4" opacity="0.22" stroke-linejoin="round" filter="url(#bl1)"/>
<rect x="31" y="47" width="760" height="758" filter="url(#grain)" opacity="0.5"/>
</g>
<rect x="32" y="48" width="758" height="756" fill="none" stroke="#7a3a14" stroke-width="2.5" opacity="0.85"/>
<text x="122" y="120" font-size="40" fill="#4a2420" textLength="250" lengthAdjust="spacingAndGlyphs">scan profile a</text>
<path d="M87,137H390" stroke="#5a2468" stroke-width="4.5"/>
<path d="M619,754H772.5M619,744v20M772.5,744v20" stroke="#4a0f0c" stroke-width="3.2" fill="none" opacity="0.9"/>
<text x="693" y="735" font-size="21" text-anchor="middle" fill="#4a0f0c" font-family='"DejaVu Sans Mono","Liberation Mono",monospace' opacity="0.85" xml:space="preserve">1  µm</text>
<linearGradient id="cb48" x1="0" y1="0" x2="0" y2="1"><stop offset="0.000" stop-color="#ffffff"/><stop offset="0.050" stop-color="#ffffff"/><stop offset="0.110" stop-color="#fdf3df"/><stop offset="0.185" stop-color="#fce2ae"/><stop offset="0.260" stop-color="#f9c566"/><stop offset="0.333" stop-color="#f6a844"/><stop offset="0.407" stop-color="#f3943a"/><stop offset="0.480" stop-color="#ee7e30"/><stop offset="0.556" stop-color="#e5642a"/><stop offset="0.630" stop-color="#d4431c"/><stop offset="0.704" stop-color="#ae2e14"/><stop offset="0.778" stop-color="#82200f"/><stop offset="0.852" stop-color="#57150b"/><stop offset="0.926" stop-color="#2c0a06"/><stop offset="1.000" stop-color="#000000"/></linearGradient>
<rect x="796" y="48.5" width="23" height="755.8" fill="url(#cb48)"/>
<rect x="790" y="48.5" width="6" height="755.8" fill="#b9aca2"/>
<rect x="819" y="48.5" width="6" height="755.8" fill="#a9a7a6"/>
<rect x="793" y="46.5" width="41" height="6" fill="#999a9b"/>
<path d="M824,804.3h10M824,748.6h10M824,692.9h10M824,637.1h10M824,581.4h10M824,525.7h10M824,470.0h10M824,414.3h10M824,358.5h10M824,302.8h10M824,247.1h10M824,191.4h10M824,135.7h10" stroke="#8c8c8c" stroke-width="4.5" fill="none"/>
<text x="839.0" y="813.9" font-size="52" text-anchor="start" fill="#141414"  stroke="#fff" stroke-width="0.45">0.0</text>
<text x="839.0" y="714.5" font-size="52" text-anchor="start" fill="#141414"  stroke="#fff" stroke-width="0.45">0.4</text>
<text x="839.0" y="603.0" font-size="52" text-anchor="start" fill="#141414"  stroke="#fff" stroke-width="0.45">0.8</text>
<text x="843.0" y="490.9" font-size="52" text-anchor="start" fill="#141414"  stroke="#fff" stroke-width="0.45">1.2</text>
<text x="841.0" y="382.1" font-size="52" text-anchor="start" fill="#141414"  stroke="#fff" stroke-width="0.45">1.6</text>
<text x="839.0" y="270.6" font-size="52" text-anchor="start" fill="#141414"  stroke="#fff" stroke-width="0.45">2.0</text>
<text x="839.0" y="159.1" font-size="52" text-anchor="start" fill="#141414"  stroke="#fff" stroke-width="0.45">2.4</text>
<text x="839.0" y="71.0" font-size="52" text-anchor="start" fill="#141414" textLength="165" lengthAdjust="spacing" stroke="#fff" stroke-width="0.45">2.7 nm</text>
<text transform="translate(971.6,443) rotate(-90)" font-size="50" text-anchor="middle" fill="#262626" y="18">Height, nm</text>
<rect x="1143" y="47" width="1025" height="756" fill="#fff" stroke="#141414" stroke-width="5"/>
<path d="M1399.2,803v-19M1655.5,803v-19M1911.8,803v-19M1271.1,803v-11M1527.4,803v-11M1783.6,803v-11M2039.9,803v-11M1143,719.0h19M1143,551.0h19M1143,383.0h19M1143,215.0h19M1143,635.0h11M1143,467.0h11M1143,299.0h11M1143,131.0h11" stroke="#141414" stroke-width="4.2" fill="none"/>
<text x="1132.0" y="868.0" font-size="52" text-anchor="middle" fill="#141414"  stroke="#fff" stroke-width="0.45">0.0</text>
<text x="1407.2" y="868.0" font-size="52" text-anchor="middle" fill="#141414"  stroke="#fff" stroke-width="0.45">0.5</text>
<text x="1654.0" y="868.0" font-size="52" text-anchor="middle" fill="#141414"  stroke="#fff" stroke-width="0.45">1.0</text>
<text x="1904.8" y="862.0" font-size="52" text-anchor="middle" fill="#141414"  stroke="#fff" stroke-width="0.45">1.5</text>
<text x="2158.0" y="865.0" font-size="52" text-anchor="middle" fill="#141414"  stroke="#fff" stroke-width="0.45">2.0</text>
<text x="1129.0" y="741.6" font-size="52" text-anchor="end" fill="#141414"  stroke="#fff" stroke-width="0.45">1.0</text>
<text x="1129.0" y="567.6" font-size="52" text-anchor="end" fill="#141414"  stroke="#fff" stroke-width="0.45">1.2</text>
<text x="1129.0" y="409.1" font-size="52" text-anchor="end" fill="#141414"  stroke="#fff" stroke-width="0.45">1.4</text>
<text x="1129.0" y="228.6" font-size="52" text-anchor="end" fill="#141414"  stroke="#fff" stroke-width="0.45">1.6</text>
<text x="1129.0" y="71.6" font-size="52" text-anchor="end" fill="#141414"  stroke="#fff" stroke-width="0.45">1.8</text>
<clipPath id="cp47"><rect x="1143" y="47" width="1025" height="756"/></clipPath>
<polyline clip-path="url(#cp47)" points="1143.0,309.0 1156.4,356.8 1161.5,421.1 1168.4,207.4 1175.3,101.3 1183.3,150.6 1189.3,168.5 1195.3,300.1 1200.7,287.5 1219.2,440.5 1233.3,168.5 1235.7,186.5 1244.6,234.3 1252.1,246.2 1264.0,430.1 1270.6,413.6 1277.5,516.8 1291.0,185.0 1295.4,240.3 1303.8,213.4 1310.4,318.0 1317.0,304.5 1322.9,416.6 1335.8,488.4 1342.7,558.6 1349.2,303.0 1354.6,244.8 1361.2,285.1 1368.7,303.0 1374.6,329.9 1380.0,445.0 1385.7,450.1 1393.5,477.9 1400.1,338.9 1406.6,201.4 1409.0,249.2 1418.0,398.7 1425.5,416.6 1431.4,398.7 1438.9,397.2 1444.3,561.6 1450.9,324.0 1457.4,270.2 1464.3,277.6 1470.3,364.3 1477.2,312.0 1483.8,368.8 1489.0,454.0 1496.4,448.0 1503.3,566.1 1508.4,587.0 1515.3,579.5 1522.4,679.7 1527.8,386.7 1533.8,379.3 1541.3,392.7 1547.3,458.5 1554.1,488.4 1560.1,613.9 1571.2,321.0 1579.5,265.7 1584.6,294.1 1593.6,409.2 1599.0,418.1 1605.5,398.7 1611.5,461.5 1617.5,474.9 1626.5,548.2 1636.9,709.6 1642.9,705.1 1657.0,412.1 1662.3,488.4 1669.8,548.2 1678.8,578.0 1684.8,607.9 1688.6,705.1 1695.2,682.7 1707.2,398.7 1714.6,394.2 1720.6,437.6 1728.1,492.9 1734.1,491.4 1740.1,602.0 1746.0,607.9 1752.6,651.3 1772.3,388.2 1778.9,437.6 1786.4,488.4 1792.4,593.0 1798.3,581.0 1805.2,648.3 1810.3,602.0 1817.2,412.1 1823.8,401.7 1830.5,458.5 1836.4,549.6 1842.4,554.1 1848.4,590.0 1855.9,597.5 1861.8,518.3 1868.4,394.2 1875.3,443.5 1881.3,513.8 1888.2,473.4 1894.7,479.4 1900.1,563.1 1906.7,398.7 1913.6,321.0 1921.0,335.9 1927.6,383.8 1933.0,446.5 1939.0,427.1 1944.0,482.4 1951.5,533.2 1959.0,383.8 1965.0,277.6 1971.0,338.9 1976.9,386.7 1983.8,382.3 1990.4,442.0 1996.4,410.7 2002.9,467.4 2008.9,407.7 2012.8,279.1 2015.8,188.0 2018.8,273.2 2023.3,329.9 2029.8,327.0 2035.2,424.1 2041.8,404.7 2047.8,477.9 2054.6,464.5 2060.6,279.1 2067.5,123.7 2074.1,198.4 2083.0,267.2 2092.6,377.8 2099.5,380.8 2105.5,279.1 2111.4,150.6 2118.3,141.6 2124.9,189.5 2132.4,249.2 2138.3,325.5 2144.3,285.1 2150.3,338.9 2157.2,407.7 2166.7,362.8" fill="none" stroke="#0c0c0c" stroke-width="5.2" stroke-linejoin="round" stroke-linecap="round"/>
<text x="1574.5" y="121.5" font-size="40" text-anchor="start" fill="#3c3c3c" textLength="151" lengthAdjust="spacingAndGlyphs">profile a</text>
<text x="1632.0" y="944.0" font-size="50" text-anchor="middle" fill="#262626" >Distance, µm</text>
<text x="1027.0" y="981.0" font-size="86" text-anchor="middle" fill="#1c1c1c" >(a)</text>
<clipPath id="clipb"><rect x="44" y="1217" width="749" height="743"/></clipPath>
<g clip-path="url(#clipb)">
<rect x="44" y="1217" width="749" height="743" fill="#f4872a"/>
<filter id="tgb" x="-5%" y="-5%" width="110%" height="110%"><feGaussianBlur stdDeviation="26.0"/></filter>
<g filter="url(#tgb)">
<rect x="-57" y="1116" width="133" height="133" fill="#fdc865"/>
<rect x="75" y="1116" width="63" height="133" fill="#fdd27b"/>
<rect x="138" y="1116" width="63" height="133" fill="#fdc865"/>
<rect x="200" y="1116" width="63" height="133" fill="#fcbf57"/>
<rect x="262" y="1116" width="63" height="133" fill="#fcb64a"/>
<rect x="325" y="1116" width="63" height="133" fill="#fcb64a"/>
<rect x="387" y="1116" width="63" height="133" fill="#fcb64a"/>
<rect x="450" y="1116" width="63" height="133" fill="#fcb64a"/>
<rect x="512" y="1116" width="63" height="133" fill="#fcbf57"/>
<rect x="575" y="1116" width="63" height="133" fill="#fdc865"/>
<rect x="637" y="1116" width="63" height="133" fill="#fdc865"/>
<rect x="699" y="1116" width="63" height="133" fill="#fcb64a"/>
<rect x="762" y="1116" width="133" height="133" fill="#f7932e"/>
<rect x="-57" y="1248" width="133" height="63" fill="#f89c33"/>
<rect x="75" y="1248" width="63" height="63" fill="#fbad3d"/>
<rect x="138" y="1248" width="63" height="63" fill="#fbad3d"/>
<rect x="200" y="1248" width="63" height="63" fill="#fbad3d"/>
<rect x="262" y="1248" width="63" height="63" fill="#faa438"/>
<rect x="325" y="1248" width="63" height="63" fill="#f89c33"/>
<rect x="387" y="1248" width="63" height="63" fill="#f89c33"/>
<rect x="450" y="1248" width="63" height="63" fill="#f7932e"/>
<rect x="512" y="1248" width="63" height="63" fill="#f58b2b"/>
<rect x="575" y="1248" width="63" height="63" fill="#f58b2b"/>
<rect x="637" y="1248" width="63" height="63" fill="#f38229"/>
<rect x="699" y="1248" width="63" height="63" fill="#eb6921"/>
<rect x="762" y="1248" width="133" height="63" fill="#dd4918"/>
<rect x="-57" y="1310" width="133" height="63" fill="#e8611e"/>
<rect x="75" y="1310" width="63" height="63" fill="#ee7223"/>
<rect x="138" y="1310" width="63" height="63" fill="#f17a26"/>
<rect x="200" y="1310" width="63" height="63" fill="#f38229"/>
<rect x="262" y="1310" width="63" height="63" fill="#f7932e"/>
<rect x="325" y="1310" width="63" height="63" fill="#f7932e"/>
<rect x="387" y="1310" width="63" height="63" fill="#f7932e"/>
<rect x="450" y="1310" width="63" height="63" fill="#f7932e"/>
<rect x="512" y="1310" width="63" height="63" fill="#f58b2b"/>
<rect x="575" y="1310" width="63" height="63" fill="#f38229"/>
<rect x="637" y="1310" width="63" height="63" fill="#ee7223"/>
<rect x="699" y="1310" width="63" height="63" fill="#e3551b"/>
<rect x="762" y="1310" width="133" height="63" fill="#dd4918"/>
<rect x="-57" y="1372" width="133" height="63" fill="#d53e15"/>
<rect x="75" y="1372" width="63" height="63" fill="#dd4918"/>
<rect x="138" y="1372" width="63" height="63" fill="#dd4918"/>
<rect x="200" y="1372" width="63" height="63" fill="#bf2f11"/>
<rect x="262" y="1372" width="63" height="63" fill="#d53e15"/>
<rect x="325" y="1372" width="63" height="63" fill="#eb6921"/>
<rect x="387" y="1372" width="63" height="63" fill="#f58b2b"/>
<rect x="450" y="1372" width="63" height="63" fill="#f7932e"/>
<rect x="512" y="1372" width="63" height="63" fill="#f7932e"/>
<rect x="575" y="1372" width="63" height="63" fill="#f7932e"/>
<rect x="637" y="1372" width="63" height="63" fill="#f58b2b"/>
<rect x="699" y="1372" width="63" height="63" fill="#f17a26"/>
<rect x="762" y="1372" width="133" height="63" fill="#eb6921"/>
<rect x="-57" y="1434" width="133" height="63" fill="#dd4918"/>
<rect x="75" y="1434" width="63" height="63" fill="#dd4918"/>
<rect x="138" y="1434" width="63" height="63" fill="#dd4918"/>
<rect x="200" y="1434" width="63" height="63" fill="#d53e15"/>
<rect x="262" y="1434" width="63" height="63" fill="#d53e15"/>
<rect x="325" y="1434" width="63" height="63" fill="#e8611e"/>
<rect x="387" y="1434" width="63" height="63" fill="#f17a26"/>
<rect x="450" y="1434" width="63" height="63" fill="#f89c33"/>
<rect x="512" y="1434" width="63" height="63" fill="#faa438"/>
<rect x="575" y="1434" width="63" height="63" fill="#faa438"/>
<rect x="637" y="1434" width="63" height="63" fill="#f89c33"/>
<rect x="699" y="1434" width="63" height="63" fill="#f58b2b"/>
<rect x="762" y="1434" width="133" height="63" fill="#f38229"/>
<rect x="-57" y="1496" width="133" height="63" fill="#e8611e"/>
<rect x="75" y="1496" width="63" height="63" fill="#e3551b"/>
<rect x="138" y="1496" width="63" height="63" fill="#dd4918"/>
<rect x="200" y="1496" width="63" height="63" fill="#d53e15"/>
<rect x="262" y="1496" width="63" height="63" fill="#dd4918"/>
<rect x="325" y="1496" width="63" height="63" fill="#e8611e"/>
<rect x="387" y="1496" width="63" height="63" fill="#f17a26"/>
<rect x="450" y="1496" width="63" height="63" fill="#f89c33"/>
<rect x="512" y="1496" width="63" height="63" fill="#fcb64a"/>
<rect x="575" y="1496" width="63" height="63" fill="#fbad3d"/>
<rect x="637" y="1496" width="63" height="63" fill="#faa438"/>
<rect x="699" y="1496" width="63" height="63" fill="#f89c33"/>
<rect x="762" y="1496" width="133" height="63" fill="#f58b2b"/>
<rect x="-57" y="1558" width="133" height="63" fill="#f17a26"/>
<rect x="75" y="1558" width="63" height="63" fill="#ee7223"/>
<rect x="138" y="1558" width="63" height="63" fill="#eb6921"/>
<rect x="200" y="1558" width="63" height="63" fill="#e3551b"/>
<rect x="262" y="1558" width="63" height="63" fill="#e8611e"/>
<rect x="325" y="1558" width="63" height="63" fill="#ee7223"/>
<rect x="387" y="1558" width="63" height="63" fill="#f38229"/>
<rect x="450" y="1558" width="63" height="63" fill="#f7932e"/>
<rect x="512" y="1558" width="63" height="63" fill="#fbad3d"/>
<rect x="575" y="1558" width="63" height="63" fill="#fbad3d"/>
<rect x="637" y="1558" width="63" height="63" fill="#faa438"/>
<rect x="699" y="1558" width="63" height="63" fill="#f89c33"/>
<rect x="762" y="1558" width="133" height="63" fill="#f7932e"/>
<rect x="-57" y="1619" width="133" height="63" fill="#f7932e"/>
<rect x="75" y="1619" width="63" height="63" fill="#f7932e"/>
<rect x="138" y="1619" width="63" height="63" fill="#f7932e"/>
<rect x="200" y="1619" width="63" height="63" fill="#f58b2b"/>
<rect x="262" y="1619" width="63" height="63" fill="#f38229"/>
<rect x="325" y="1619" width="63" height="63" fill="#f17a26"/>
<rect x="387" y="1619" width="63" height="63" fill="#f17a26"/>
<rect x="450" y="1619" width="63" height="63" fill="#f38229"/>
<rect x="512" y="1619" width="63" height="63" fill="#ee7223"/>
<rect x="575" y="1619" width="63" height="63" fill="#eb6921"/>
<rect x="637" y="1619" width="63" height="63" fill="#f38229"/>
<rect x="699" y="1619" width="63" height="63" fill="#f7932e"/>
<rect x="762" y="1619" width="133" height="63" fill="#f7932e"/>
<rect x="-57" y="1681" width="133" height="63" fill="#faa438"/>
<rect x="75" y="1681" width="63" height="63" fill="#fbad3d"/>
<rect x="138" y="1681" width="63" height="63" fill="#fcb64a"/>
<rect x="200" y="1681" width="63" height="63" fill="#fcbf57"/>
<rect x="262" y="1681" width="63" height="63" fill="#fbad3d"/>
<rect x="325" y="1681" width="63" height="63" fill="#f7932e"/>
<rect x="387" y="1681" width="63" height="63" fill="#f38229"/>
<rect x="450" y="1681" width="63" height="63" fill="#f17a26"/>
<rect x="512" y="1681" width="63" height="63" fill="#ee7223"/>
<rect x="575" y="1681" width="63" height="63" fill="#eb6921"/>
<rect x="637" y="1681" width="63" height="63" fill="#e8611e"/>
<rect x="699" y="1681" width="63" height="63" fill="#ee7223"/>
<rect x="762" y="1681" width="133" height="63" fill="#f38229"/>
<rect x="-57" y="1743" width="133" height="63" fill="#faa438"/>
<rect x="75" y="1743" width="63" height="63" fill="#fbad3d"/>
<rect x="138" y="1743" width="63" height="63" fill="#fcbf57"/>
<rect x="200" y="1743" width="63" height="63" fill="#fdd27b"/>
<rect x="262" y="1743" width="63" height="63" fill="#fcbf57"/>
<rect x="325" y="1743" width="63" height="63" fill="#faa438"/>
<rect x="387" y="1743" width="63" height="63" fill="#f7932e"/>
<rect x="450" y="1743" width="63" height="63" fill="#f38229"/>
<rect x="512" y="1743" width="63" height="63" fill="#ee7223"/>
<rect x="575" y="1743" width="63" height="63" fill="#ee7223"/>
<rect x="637" y="1743" width="63" height="63" fill="#ee7223"/>
<rect x="699" y="1743" width="63" height="63" fill="#eb6921"/>
<rect x="762" y="1743" width="133" height="63" fill="#ee7223"/>
<rect x="-57" y="1805" width="133" height="63" fill="#f7932e"/>
<rect x="75" y="1805" width="63" height="63" fill="#f89c33"/>
<rect x="138" y="1805" width="63" height="63" fill="#fbad3d"/>
<rect x="200" y="1805" width="63" height="63" fill="#fcb64a"/>
<rect x="262" y="1805" width="63" height="63" fill="#fcb64a"/>
<rect x="325" y="1805" width="63" height="63" fill="#faa438"/>
<rect x="387" y="1805" width="63" height="63" fill="#ee7223"/>
<rect x="450" y="1805" width="63" height="63" fill="#e8611e"/>
<rect x="512" y="1805" width="63" height="63" fill="#eb6921"/>
<rect x="575" y="1805" width="63" height="63" fill="#f38229"/>
<rect x="637" y="1805" width="63" height="63" fill="#f58b2b"/>
<rect x="699" y="1805" width="63" height="63" fill="#f58b2b"/>
<rect x="762" y="1805" width="133" height="63" fill="#f38229"/>
<rect x="-57" y="1867" width="133" height="63" fill="#dd4918"/>
<rect x="75" y="1867" width="63" height="63" fill="#e8611e"/>
<rect x="138" y="1867" width="63" height="63" fill="#f17a26"/>
<rect x="200" y="1867" width="63" height="63" fill="#f58b2b"/>
<rect x="262" y="1867" width="63" height="63" fill="#f89c33"/>
<rect x="325" y="1867" width="63" height="63" fill="#f7932e"/>
<rect x="387" y="1867" width="63" height="63" fill="#f38229"/>
<rect x="450" y="1867" width="63" height="63" fill="#f17a26"/>
<rect x="512" y="1867" width="63" height="63" fill="#f38229"/>
<rect x="575" y="1867" width="63" height="63" fill="#f7932e"/>
<rect x="637" y="1867" width="63" height="63" fill="#f89c33"/>
<rect x="699" y="1867" width="63" height="63" fill="#f89c33"/>
<rect x="762" y="1867" width="133" height="63" fill="#f7932e"/>
<rect x="-57" y="1929" width="133" height="133" fill="#79190a"/>
<rect x="75" y="1929" width="63" height="133" fill="#5f1308"/>
<rect x="138" y="1929" width="63" height="133" fill="#230603"/>
<rect x="200" y="1929" width="63" height="133" fill="#470e06"/>
<rect x="262" y="1929" width="63" height="133" fill="#861d0c"/>
<rect x="325" y="1929" width="63" height="133" fill="#d53e15"/>
<rect x="387" y="1929" width="63" height="133" fill="#eb6921"/>
<rect x="450" y="1929" width="63" height="133" fill="#f38229"/>
<rect x="512" y="1929" width="63" height="133" fill="#f7932e"/>
<rect x="575" y="1929" width="63" height="133" fill="#f89c33"/>
<rect x="637" y="1929" width="63" height="133" fill="#f89c33"/>
<rect x="699" y="1929" width="63" height="133" fill="#f89c33"/>
<rect x="762" y="1929" width="133" height="133" fill="#f7932e"/>
</g>
<g filter="url(#bl18)">
<ellipse cx="222" cy="1762" rx="48" ry="18" fill="#fef3d9" opacity="0.85" transform="rotate(30 222 1762)"/>
<ellipse cx="174" cy="1955" rx="210" ry="26" fill="#a3250e" opacity="0.9" transform="rotate(9 174 1955)"/>
<ellipse cx="64" cy="1917" rx="60" ry="20" fill="#cb3713" opacity="0.6"/>
</g>
<g filter="url(#bl10)">
<ellipse cx="204" cy="1958" rx="60" ry="12" fill="#0d0201" opacity="0.95" transform="rotate(8 204 1958)"/>
</g>
<path d="M44,802 75,817 106,831 138,840 169,844 200,849 231,862 262,884 294,906 325,923 356,935 387,946 418,960 450,973 481,981 512,986 543,992 575,1008 606,1031 637,1053 668,1069 699,1079 731,1090 762,1103 793,1115M44,817 75,830 106,844 138,853 169,858 200,864 231,877 262,899 294,923 325,940 356,951 387,961 418,973 450,986 481,995 512,1000 543,1008 575,1023 606,1046 637,1070 668,1086 699,1095 731,1104 762,1115 793,1128M44,832 75,843 106,856 138,867 169,873 200,879 231,893 262,915 294,939 325,957 356,967 387,975 418,986 450,998 481,1009 512,1016 543,1024 575,1039 606,1062 637,1086 668,1102 699,1111 731,1118 762,1128 793,1141M44,847 75,856 106,869 138,880 169,888 200,895 231,909 262,931 294,955 325,973 356,983 387,989 418,998 450,1011 481,1023 512,1031 543,1040 575,1055 606,1078 637,1102 668,1118 699,1126 731,1132 762,1141 793,1153M44,861 75,869 106,881 138,894 169,903 200,912 231,925 262,947 294,971 325,989 356,999 387,1004 418,1011 450,1024 481,1037 512,1047 543,1057 575,1072 606,1094 637,1117 668,1134 699,1141 731,1145 762,1153 793,1166M44,876 75,882 106,894 138,907 169,919 200,928 231,942 262,963 294,986 325,1005 356,1014 387,1018 418,1024 450,1036 481,1051 512,1063 543,1074 575,1089 606,1110 637,1133 668,1149 699,1156 731,1159 762,1166 793,1179M44,890 75,895 106,906 138,921 169,934 200,945 231,959 262,979 294,1002 325,1020 356,1029 387,1032 418,1037 450,1049 481,1065 512,1079 543,1091 575,1106 606,1126 637,1148 668,1164 699,1171 731,1173 762,1179 793,1192M44,905 75,909 106,919 138,935 169,950 200,962 231,976 262,995 294,1017 325,1035 356,1043 387,1046 418,1050 450,1062 481,1079 512,1095 543,1108 575,1123 606,1141 637,1162 668,1178 699,1185 731,1187 762,1193 793,1206M44,919 75,922 106,932 138,949 169,966 200,980 231,993 262,1011 294,1032 325,1049 356,1058 387,1060 418,1064 450,1076 481,1094 512,1111 543,1126 575,1140 606,1157 637,1177 668,1192 699,1199 731,1201 762,1206 793,1220M44,933 75,936 106,946 138,963 169,982 200,997 231,1011 262,1027 294,1046 325,1063 356,1072 387,1074 418,1078 450,1089 481,1108 512,1128 543,1143 575,1157 606,1172 637,1191 668,1206 699,1213 731,1215 762,1220 793,1234M44,947 75,950 106,960 138,978 169,998 200,1014 231,1028 262,1043 294,1060 325,1076 356,1085 387,1088 418,1092 450,1104 481,1123 512,1144 543,1161 575,1174 606,1188 637,1204 668,1219 699,1227 731,1230 762,1235 793,1248M44,961 75,964 106,974 138,992 169,1014 200,1032 231,1045 262,1058 294,1074 325,1089 356,1099 387,1103 418,1106 450,1118 481,1138 512,1161 543,1178 575,1191 606,1203 637,1218 668,1232 699,1241 731,1244 762,1249 793,1263M44,975 75,979 106,988 138,1007 169,1030 200,1049 231,1062 262,1074 294,1088 325,1102 356,1112 387,1117 418,1121 450,1133 481,1154 512,1177 543,1195 575,1207 606,1218 637,1231 668,1245 699,1254 731,1259 762,1265 793,1279M44,990 75,993 106,1003 138,1023 169,1046 200,1066 231,1079 262,1089 294,1101 325,1115 356,1126 387,1131 418,1136 450,1148 481,1169 512,1193 543,1212 575,1224 606,1233 637,1244 668,1257 699,1268 731,1274 762,1280 793,1294M44,1004 75,1009 106,1019 138,1038 169,1062 200,1083 231,1096 262,1104 294,1115 325,1128 356,1139 387,1146 418,1152 450,1164 481,1185 512,1209 543,1229 575,1240 606,1248 637,1257 668,1270 699,1281 731,1289 762,1296 793,1310M44,1018 75,1024 106,1035 138,1054 169,1078 200,1099 231,1112 262,1119 294,1128 325,1140 356,1152 387,1161 418,1168 450,1180 481,1201 512,1225 543,1245 575,1256 606,1262 637,1270 668,1282 699,1295 731,1304 762,1312 793,1326M44,1033 75,1040 106,1051 138,1070 169,1094 200,1115 231,1128 262,1134 294,1141 325,1153 356,1165 387,1176 418,1184 450,1197 481,1217 512,1241 543,1261 575,1272 606,1277 637,1283 668,1295 699,1308 731,1319 762,1329 793,1343M44,1047 75,1056 106,1068 138,1086 169,1110 200,1131 231,1144 262,1149 294,1155 325,1165 356,1179 387,1191 418,1201 450,1214 481,1233 512,1257 543,1276 575,1287 606,1291 637,1296 668,1308 699,1322 731,1335 762,1346 793,1360M44,1062 75,1073 106,1085 138,1102 169,1126 200,1147 231,1159 262,1164 294,1168 325,1178 356,1192 387,1206 418,1218 450,1231 481,1249 512,1272 543,1291 575,1302 606,1305 637,1310 668,1320 699,1336 731,1351 762,1363 793,1377M44,1077 75,1089 106,1102 138,1119 169,1141 200,1162 231,1174 262,1178 294,1181 325,1191 356,1206 387,1222 418,1235 450,1248 481,1266 512,1287 543,1306 575,1316 606,1319 637,1323 668,1334 699,1350 731,1367 762,1380 793,1394M44,1092 75,1106 106,1119 138,1135 169,1156 200,1176 231,1188 262,1192 294,1195 325,1204 356,1220 387,1237 418,1252 450,1265 481,1282 512,1302 543,1320 575,1331 606,1333 637,1337 668,1347 699,1364 731,1383 762,1398 793,1411M44,1107 75,1123 106,1136 138,1152 169,1171 200,1190 231,1203 262,1206 294,1209 325,1217 356,1234 387,1253 418,1269 450,1283 481,1298 512,1317 543,1334 575,1345 606,1348 637,1350 668,1361 699,1379 731,1399 762,1415 793,1429M44,1123 75,1140 106,1154 138,1168 169,1186 200,1204 231,1216 262,1221 294,1223 325,1231 356,1248 387,1269 418,1286 450,1300 481,1314 512,1331 543,1348 575,1358 606,1362 637,1365 668,1375 699,1394 731,1415 762,1433 793,1446M44,1138 75,1157 106,1171 138,1185 169,1201 200,1218 231,1230 262,1235 294,1237 325,1245 356,1263 387,1285 418,1303 450,1317 481,1330 512,1345 543,1361 575,1372 606,1376 637,1379 668,1389 699,1409 731,1431 762,1450 793,1463M44,1154 75,1174 106,1189 138,1201 169,1215 200,1231 231,1243 262,1249 294,1252 325,1260 356,1278 387,1301 418,1321 450,1334 481,1346 512,1359 543,1374 575,1385 606,1390 637,1394 668,1404 699,1424 731,1448 762,1467 793,1480M44,1169 75,1191 106,1206 138,1217 169,1229 200,1244 231,1256 262,1263 294,1266 325,1275 356,1293 387,1317 418,1337 450,1351 481,1361 512,1373 543,1386 575,1398 606,1404 637,1409 668,1420 699,1440 731,1464 762,1484 793,1496M44,1185 75,1208 106,1223 138,1233 169,1244 200,1257 231,1269 262,1277 294,1282 325,1291 356,1309 387,1332 418,1354 450,1368 481,1377 512,1386 543,1399 575,1411 606,1419 637,1425 668,1436 699,1455 731,1480 762,1500 793,1513M44,1201 75,1224 106,1240 138,1249 169,1257 200,1269 231,1282 262,1291 294,1297 325,1307 356,1324 387,1348 418,1371 450,1385 481,1392 512,1400 543,1411 575,1424 606,1433 637,1441 668,1452 699,1471 731,1496 762,1516 793,1529M44,1217 75,1240 106,1256 138,1265 169,1271 200,1282 231,1295 262,1305 294,1313 325,1323 356,1340 387,1364 418,1387 450,1401 481,1407 512,1414 543,1424 575,1437 606,1448 637,1457 668,1468 699,1487 731,1511 762,1532 793,1544M44,1233 75,1256 106,1272 138,1280 169,1285 200,1294 231,1307 262,1319 294,1329 325,1339 356,1357 387,1380 418,1402 450,1416 481,1422 512,1427 543,1437 575,1450 606,1463 637,1473 668,1485 699,1504 731,1527 762,1548 793,1560M44,1249 75,1272 106,1288 138,1295 169,1299 200,1307 231,1320 262,1334 294,1345 325,1356 356,1373 387,1396 418,1418 450,1431 481,1437 512,1441 543,1449 575,1463 606,1478 637,1490 668,1502 699,1520 731,1542 762,1563 793,1575M44,1265 75,1287 106,1303 138,1310 169,1313 200,1320 231,1333 262,1349 294,1362 325,1374 356,1390 387,1411 418,1433 450,1446 481,1451 512,1454 543,1462 575,1477 606,1493 637,1507 668,1520 699,1536 731,1558 762,1577 793,1589M44,1280 75,1302 106,1318 138,1324 169,1327 200,1333 231,1347 262,1363 294,1378 325,1391 356,1406 387,1427 418,1447 450,1461 481,1466 512,1468 543,1475 575,1491 606,1508 637,1524 668,1537 699,1553 731,1573 762,1592 793,1603M44,1296 75,1317 106,1332 138,1339 169,1341 200,1346 231,1360 262,1378 294,1395 325,1409 356,1423 387,1442 418,1461 450,1475 481,1480 512,1482 543,1489 575,1504 606,1524 637,1541 668,1555 699,1569 731,1587 762,1605 793,1617M44,1311 75,1331 106,1346 138,1353 169,1355 200,1360 231,1374 262,1393 294,1412 325,1426 356,1440 387,1457 418,1475 450,1489 481,1494 512,1496 543,1503 575,1519 606,1539 637,1558 668,1572 699,1586 731,1602 762,1619 793,1631M44,1327 75,1345 106,1360 138,1367 169,1369 200,1374 231,1388 262,1409 294,1429 325,1444 356,1457 387,1472 418,1489 450,1502 481,1508 512,1510 543,1517 575,1533 606,1555 637,1575 668,1590 699,1602 731,1616 762,1632 793,1644M44,1342 75,1358 106,1373 138,1380 169,1383 200,1388 231,1403 262,1424 294,1445 325,1461 356,1473 387,1486 418,1502 450,1515 481,1522 512,1525 543,1532 575,1548 606,1571 637,1592 668,1607 699,1618 731,1630 762,1645 793,1657M44,1357 75,1372 106,1386 138,1394 169,1398 200,1403 231,1418 262,1440 294,1462 325,1478 356,1490 387,1501 418,1515 450,1528 481,1536 512,1540 543,1547 575,1563 606,1587 637,1609 668,1624 699,1634 731,1644 762,1658 793,1670M44,1372 75,1385 106,1399 138,1408 169,1412 200,1418 231,1433 262,1455 294,1478 325,1495 356,1506 387,1515 418,1528 450,1541 481,1549 512,1555 543,1563 575,1579 606,1603 637,1625 668,1640 699,1650 731,1658 762,1670 793,1683M44,1387 75,1398 106,1411 138,1421 169,1427 200,1434 231,1449 262,1471 294,1495 325,1512 356,1522 387,1530 418,1541 450,1553 481,1563 512,1570 543,1579 575,1595 606,1618 637,1641 668,1657 699,1665 731,1672 762,1683 793,1696M44,1401 75,1411 106,1424 138,1435 169,1442 200,1450 231,1465 262,1487 294,1511 325,1528 356,1537 387,1544 418,1553 450,1566 481,1577 512,1586 543,1595 575,1611 606,1634 637,1657 668,1673 699,1680 731,1686 762,1696 793,1708M44,1416 75,1424 106,1436 138,1449 169,1458 200,1466 231,1481 262,1503 294,1527 325,1544 356,1553 387,1558 418,1566 450,1579 481,1591 512,1601 543,1612 575,1628 606,1650 637,1673 668,1689 699,1695 731,1700 762,1708 793,1721M44,1430 75,1437 106,1449 138,1462 169,1473 200,1483 231,1498 262,1519 294,1542 325,1560 356,1568 387,1572 418,1579 450,1591 481,1606 512,1617 543,1629 575,1644 606,1666 637,1688 668,1704 699,1710 731,1713 762,1721 793,1735M44,1444 75,1450 106,1461 138,1476 169,1489 200,1500 231,1514 262,1535 294,1558 325,1575 356,1583 387,1586 418,1592 450,1604 481,1620 512,1634 543,1646 575,1661 606,1682 637,1703 668,1719 699,1725 731,1727 762,1734 793,1748M44,1459 75,1463 106,1474 138,1490 169,1505 200,1517 231,1531 262,1551 294,1573 325,1590 356,1597 387,1600 418,1605 450,1618 481,1635 512,1650 543,1663 575,1678 606,1697 637,1718 668,1733 699,1739 731,1741 762,1747 793,1761M44,1473 75,1477 106,1488 138,1504 169,1521 200,1535 231,1549 262,1567 294,1587 325,1604 356,1612 387,1614 418,1618 450,1631 481,1649 512,1667 543,1681 575,1695 606,1713 637,1732 668,1747 699,1753 731,1755 762,1761 793,1775M44,1487 75,1490 106,1501 138,1519 169,1537 200,1552 231,1566 262,1582 294,1602 325,1618 356,1626 387,1628 418,1632 450,1645 481,1664 512,1683 543,1698 575,1712 606,1728 637,1746 668,1761 699,1767 731,1769 762,1775 793,1789M44,1501 75,1504 106,1515 138,1533 169,1553 200,1570 231,1583 262,1598 294,1616 325,1631 356,1640 387,1642 418,1646 450,1659 481,1679 512,1700 543,1716 575,1729 606,1743 637,1760 668,1774 699,1781 731,1783 762,1789 793,1804M44,1515 75,1518 106,1529 138,1548 169,1570 200,1587 231,1600 262,1613 294,1629 325,1645 356,1653 387,1656 418,1661 450,1674 481,1694 512,1716 543,1733 575,1745 606,1758 637,1773 668,1787 699,1795 731,1798 762,1804 793,1819M44,1529 75,1533 106,1544 138,1563 169,1586 200,1604 231,1617 262,1629 294,1643 325,1657 356,1667 387,1671 418,1676 450,1689 481,1710 512,1733 543,1750 575,1762 606,1773 637,1786 668,1800 699,1808 731,1813 762,1819 793,1834M44,1544 75,1548 106,1559 138,1579 169,1602 200,1621 231,1634 262,1644 294,1656 325,1670 356,1680 387,1685 418,1691 450,1704 481,1726 512,1749 543,1767 575,1778 606,1787 637,1799 668,1812 699,1822 731,1828 762,1835 793,1850M44,1558 75,1563 106,1574 138,1594 169,1618 200,1638 231,1650 262,1659 294,1670 325,1683 356,1694 387,1700 418,1707 450,1720 481,1741 512,1765 543,1784 575,1794 606,1802 637,1812 668,1825 699,1836 731,1843 762,1851 793,1866M44,1573 75,1579 106,1590 138,1610 169,1634 200,1655 231,1667 262,1674 294,1683 325,1695 356,1707 387,1715 418,1723 450,1736 481,1757 512,1781 543,1800 575,1810 606,1816 637,1825 668,1837 699,1849 731,1858 762,1867 793,1882M44,1587 75,1595 106,1606 138,1626 169,1650 200,1671 231,1682 262,1689 294,1696 325,1708 356,1720 387,1730 418,1739 450,1752 481,1773 512,1797 543,1816 575,1826 606,1831 637,1838 668,1850 699,1863 731,1874 762,1884 793,1899M44,1602 75,1611 106,1623 138,1642 169,1666 200,1687 231,1698 262,1703 294,1709 325,1720 356,1734 387,1746 418,1756 450,1769 481,1789 512,1813 543,1832 575,1841 606,1845 637,1851 668,1863 699,1877 731,1890 762,1901 793,1915M44,1617 75,1627 106,1640 138,1658 169,1682 200,1702 231,1713 262,1718 294,1722 325,1733 356,1747 387,1761 418,1772 450,1786 481,1805 512,1828 543,1847 575,1856 606,1859 637,1864 668,1876 699,1891 731,1906 762,1918 793,1932M44,1632 75,1644 106,1657 138,1675 169,1697 200,1717 231,1728 262,1732 294,1736 325,1746 356,1761 387,1777 418,1790 450,1803 481,1821 512,1843 543,1861 575,1870 606,1873 637,1877 668,1889 699,1906 731,1922 762,1935 793,1949M44,1647 75,1661 106,1674 138,1691 169,1712 200,1732 231,1743 262,1746 294,1749 325,1759 356,1775 387,1792 418,1807 450,1820 481,1837 512,1858 543,1876 575,1885 606,1887 637,1891 668,1902 699,1920 731,1938 762,1953 793,1966M44,1663 75,1678 106,1691 138,1707 169,1727 200,1746 231,1757 262,1760 294,1763 325,1772 356,1789 387,1808 418,1824 450,1838 481,1853 512,1872 543,1889 575,1899 606,1901 637,1905 668,1916 699,1935 731,1954 762,1970 793,1984M44,1678 75,1695 106,1709 138,1724 169,1742 200,1760 231,1771 262,1774 294,1777 325,1786 356,1804 387,1824 418,1841 450,1855 481,1869 512,1887 543,1903 575,1912 606,1915 637,1919 668,1930 699,1950 731,1971 762,1988 793,2001M44,1694 75,1712 106,1726 138,1740 169,1756 200,1773 231,1784 262,1788 294,1791 325,1800 356,1819 387,1840 418,1859 450,1872 481,1885 512,1901 543,1916 575,1926 606,1930 637,1933 668,1945 699,1965 731,1987 762,2005 793,2018M44,1710 75,1729 106,1744 138,1756 169,1770 200,1786 231,1798 262,1803 294,1806 325,1815 356,1834 387,1856 418,1876 450,1889 481,1901 512,1914 543,1929 575,1939 606,1944 637,1948 668,1960 699,1980 731,2003 762,2022 793,2034M44,1726 75,1746 106,1761 138,1772 169,1785 200,1799 231,1811 262,1817 294,1821 325,1830 356,1849 387,1873 418,1893 450,1906 481,1916 512,1928 543,1942 575,1953 606,1958 637,1964 668,1975 699,1996 731,2020 762,2039 793,2051M44,1741 75,1763 106,1778 138,1788 169,1798 200,1812 231,1824 262,1831 294,1836 325,1846 356,1865 387,1889 418,1910 450,1923 481,1931 512,1941 543,1954 575,1966 606,1973 637,1979 668,1991 699,2011 731,2036 762,2056 793,2067M44,1757 75,1780 106,1795 138,1803 169,1812 200,1824 231,1837 262,1845 294,1851 325,1862 356,1880 387,1905 418,1926 450,1939 481,1947 512,1955 543,1967 575,1979 606,1988 637,1995 668,2007 699,2027 731,2052 762,2072 793,2083M44,1773 75,1796 106,1811 138,1819 169,1826 200,1837 231,1849 262,1860 294,1867 325,1878 356,1896 387,1920 418,1942 450,1955 481,1961 512,1968 543,1979 575,1992 606,2003 637,2011 668,2024 699,2043 731,2068 762,2088 793,2099M44,1789 75,1812 106,1827 138,1834 169,1840 200,1849 231,1862 262,1874 294,1883 325,1894 356,1913 387,1936 418,1958 450,1971 481,1976 512,1981 543,1992 575,2005 606,2018 637,2028 668,2040 699,2060 731,2083 762,2103 793,2114M44,1805 75,1828 106,1843 138,1849 169,1853 200,1862 231,1875 262,1889 294,1900 325,1911 356,1929 387,1952 418,1973 450,1986 481,1991 512,1995 543,2004 575,2019 606,2033 637,2045 668,2058 699,2076 731,2098 762,2118 793,2129M44,1821 75,1843 106,1858 138,1864 169,1867 200,1875 231,1889 262,1904 294,1916 325,1929 356,1945 387,1967 418,1988 450,2001 481,2005 512,2008 543,2017 575,2032 606,2048 637,2062 668,2075 699,2092 731,2114 762,2133 793,2143M44,1836 75,1858 106,1872 138,1878 169,1881 200,1888 231,1902 262,1919 294,1933 325,1946 356,1962 387,1983 418,2003 450,2015 481,2020 512,2022 543,2030 575,2046 606,2064 637,2079 668,2092 699,2108 731,2128 762,2147 793,2158M44,1852 75,1872 106,1887 138,1892 169,1894 200,1901 231,1916 262,1934 294,1950 325,1963 356,1979 387,1998 418,2017 450,2029 481,2034 512,2036 543,2044 575,2060 606,2079 637,2096 668,2110 699,2125 731,2143 762,2161 793,2171M44,1867 75,1886 106,1901 138,1907 169,1908 200,1915 231,1930 262,1949 294,1967 325,1981 356,1995 387,2013 418,2031 450,2043 481,2048 512,2050 543,2058 575,2074 606,2095 637,2113 668,2127 699,2141 731,2157 762,2174 793,2185M44,1882 75,1900 106,1914 138,1921 169,1923 200,1929 231,1944 262,1965 294,1984 325,1999 356,2012 387,2027 418,2044 450,2057 481,2062 512,2064 543,2072 575,2089 606,2111 637,2130 668,2144 699,2157 731,2172 762,2187 793,2198M44,1897 75,1914 106,1928 138,1934 169,1937 200,1943 231,1958 262,1980 294,2001 325,2016 356,2028 387,2042 418,2057 450,2070 481,2076 512,2079 543,2087 575,2104 606,2127 637,2147 668,2162 699,2173 731,2186 762,2200 793,2212M44,1912 75,1927 106,1941 138,1948 169,1951 200,1958 231,1973 262,1996 294,2018 325,2033 356,2044 387,2056 418,2070 450,2083 481,2090 512,2094 543,2102 575,2119 606,2143 637,2164 668,2179 699,2188 731,2199 762,2213 793,2225M44,1927 75,1940 106,1954 138,1962 169,1966 200,1973 231,1989 262,2012 294,2034 325,2050 356,2060 387,2070 418,2083 450,2096 481,2104 512,2109 543,2117 575,2135 606,2159 637,2181 668,2195 699,2204 731,2213 762,2225 793,2238M44,1941 75,1953 106,1966 138,1976 169,1981 200,1989 231,2004 262,2027 294,2051 325,2067 356,2076 387,2084 418,2096 450,2108 481,2118 512,2124 543,2133 575,2151 606,2175 637,2197 668,2212 699,2219 731,2227 762,2238 793,2251M44,1956 75,1966 106,1979 138,1989 169,1997 200,2005 231,2020 262,2043 294,2067 325,2083 356,2092 387,2098 418,2108 450,2121 481,2132 512,2140 543,2150 575,2167 606,2191 637,2213 668,2228 699,2234 731,2240 762,2250 793,2264M44,1970 75,1979 106,1991 138,2003 169,2012 200,2021 231,2037 262,2059 294,2083 325,2099 356,2107 387,2112 418,2121 450,2134 481,2146 512,2156 543,2166 575,2183 606,2206 637,2229 668,2243 699,2249 731,2254 762,2263 793,2277M44,1984 75,1992 106,2004 138,2017 169,2028 200,2038 231,2053 262,2075 294,2098 325,2115 356,2122 387,2126 418,2134 450,2147 481,2161 512,2172 543,2183 575,2200 606,2222 637,2244 668,2258 699,2264 731,2268 762,2276 793,2290M44,1998 75,2005 106,2017 138,2031 169,2044 200,2055 231,2070 262,2091 294,2113 325,2130 356,2137 387,2140 418,2147 450,2160 481,2175 512,2189 543,2201 575,2216 606,2238 637,2259 668,2273 699,2279 731,2281 762,2289 793,2303M44,2012 75,2018 106,2030 138,2045 169,2060 200,2072 231,2087 262,2107 294,2128 325,2145 356,2151 387,2154 418,2160 450,2173 481,2190 512,2205 543,2218 575,2233 606,2253 637,2274 668,2288 699,2293 731,2295 762,2302 793,2317M44,2027 75,2031 106,2043 138,2060 169,2076 200,2090 231,2104 262,2122 294,2143 325,2159 356,2166 387,2168 418,2173 450,2187 481,2205 512,2222 543,2236 575,2250 606,2268 637,2288 668,2302 699,2307 731,2309 762,2316 793,2331M44,2041 75,2045 106,2056 138,2074 169,2092 200,2107 231,2121 262,2138 294,2157 325,2173 356,2180 387,2182 418,2187 450,2200 481,2220 512,2238 543,2253 575,2267 606,2283 637,2302 668,2315 699,2321 731,2323 762,2330 793,2345M44,2055 75,2058 106,2070 138,2089 169,2109 200,2125 231,2138 262,2153 294,2171 325,2186 356,2194 387,2196 418,2201 450,2215 481,2235 512,2255 543,2271 575,2284 606,2298 637,2315 668,2329 699,2335 731,2337 762,2344 793,2360M44,2069 75,2073 106,2084 138,2104 169,2125 200,2142 231,2155 262,2169 294,2185 325,2199 356,2207 387,2210 418,2215 450,2229 481,2250 512,2272 543,2288 575,2300 606,2313 637,2328 668,2342 699,2349 731,2352 762,2359 793,2375M44,2083 75,2087 106,2099 138,2119 169,2142 200,2159 231,2172 262,2184 294,2198 325,2212 356,2221 387,2225 418,2230 450,2244 481,2266 512,2289 543,2305 575,2317 606,2328 637,2341 668,2355 699,2363 731,2367 762,2374 793,2390M44,2098 75,2102 106,2114 138,2135 169,2158 200,2176 231,2188 262,2199 294,2212 325,2225 356,2235 387,2239 418,2245 450,2259 481,2282 512,2305 543,2322 575,2333 606,2342 637,2354 668,2367 699,2376 731,2382 762,2389 793,2406M44,2112 75,2117 106,2129 138,2150 169,2174 200,2193 231,2205 262,2214 294,2225 325,2238 356,2248 387,2254 418,2261 450,2275 481,2297 512,2321 543,2339 575,2349 606,2357 637,2367 668,2380 699,2390 731,2397 762,2405 793,2421M44,2127 75,2133 106,2145 138,2166 169,2190 200,2210 231,2221 262,2228 294,2238 325,2250 356,2262 387,2269 418,2277 450,2291 481,2313 512,2337 543,2355 575,2365 606,2371 637,2380 668,2393 699,2404 731,2413 762,2422 793,2438M44,2142 75,2149 106,2161 138,2182 169,2206 200,2226 231,2237 262,2243 294,2251 325,2263 356,2275 387,2285 418,2294 450,2308 481,2329 512,2353 543,2371 575,2380 606,2385 637,2393 668,2405 699,2418 731,2428 762,2439 793,2454M44,2157 75,2165 106,2178 138,2198 169,2222 200,2242 231,2252 262,2257 294,2264 325,2275 356,2289 387,2300 418,2310 450,2324 481,2345 512,2369 543,2387 575,2395 606,2399 637,2406 668,2418 699,2432 731,2444 762,2456 793,2471M44,2172 75,2182 106,2195 138,2214 169,2238 200,2257 231,2268 262,2272 294,2277 325,2288 356,2303 387,2316 418,2327 450,2341 481,2361 512,2384 543,2402 575,2410 606,2413 637,2419 668,2431 699,2447 731,2461 762,2473 793,2488M44,2187 75,2199 106,2212 138,2230 169,2253 200,2272 231,2282 262,2286 294,2290 325,2301 356,2317 387,2332 418,2344 450,2358 481,2377 512,2399 543,2416 575,2425 606,2427 637,2432 668,2444 699,2461 731,2477 762,2490 793,2505M44,2202 75,2216 106,2229 138,2247 169,2268 200,2287 231,2297 262,2300 294,2303 325,2314 356,2331 387,2348 418,2362 450,2375 481,2393 512,2414 543,2431 575,2439 606,2441 637,2445 668,2458 699,2476 731,2493 762,2508 793,2522M44,2218 75,2233 106,2246 138,2263 169,2283 200,2301 231,2311 262,2314 294,2317 325,2328 356,2345 387,2364 418,2379 450,2393 481,2409 512,2428 543,2444 575,2453 606,2455 637,2459 668,2471 699,2490 731,2510 762,2525 793,2539" fill="none" stroke="#8a2006" stroke-width="3.6" opacity="0.3" stroke-linejoin="round" filter="url(#bl1)"/>
<path d="M44,810 75,823 106,837 138,847 169,851 200,856 231,870 262,891 294,914 325,932 356,943 387,953 418,966 450,979 481,988 512,993 543,1000 575,1015 606,1038 637,1061 668,1077 699,1087 731,1097 762,1109 793,1122M44,825 75,837 106,850 138,860 169,866 200,872 231,885 262,907 294,931 325,949 356,959 387,968 418,979 450,992 481,1002 512,1008 543,1016 575,1031 606,1054 637,1078 668,1094 699,1103 731,1111 762,1122 793,1134M44,839 75,850 106,862 138,873 169,881 200,887 231,901 262,923 294,947 325,965 356,975 387,982 418,992 450,1005 481,1016 512,1023 543,1032 575,1047 606,1070 637,1094 668,1110 699,1118 731,1125 762,1134 793,1147M44,854 75,863 106,875 138,887 169,896 200,904 231,917 262,939 294,963 325,981 356,991 387,997 418,1005 450,1017 481,1030 512,1039 543,1048 575,1064 606,1086 637,1110 668,1126 699,1134 731,1138 762,1147 793,1160M44,869 75,876 106,887 138,900 169,911 200,920 231,934 262,955 294,979 325,997 356,1006 387,1011 418,1018 450,1030 481,1044 512,1055 543,1065 575,1080 606,1102 637,1125 668,1141 699,1149 731,1152 762,1160 793,1173M44,883 75,889 106,900 138,914 169,926 200,937 231,951 262,971 294,994 325,1012 356,1021 387,1025 418,1031 450,1043 481,1058 512,1071 543,1082 575,1097 606,1118 637,1140 668,1156 699,1163 731,1166 762,1173 793,1186M44,898 75,902 106,913 138,928 169,942 200,954 231,968 262,987 294,1009 325,1027 356,1036 387,1039 418,1044 450,1056 481,1072 512,1087 543,1100 575,1114 606,1134 637,1155 668,1171 699,1178 731,1180 762,1186 793,1199M44,912 75,915 106,926 138,942 169,958 200,971 231,985 262,1003 294,1024 325,1042 356,1051 387,1053 418,1057 450,1069 481,1086 512,1103 543,1117 575,1131 606,1149 637,1169 668,1185 699,1192 731,1194 762,1199 793,1213M44,926 75,929 106,939 138,956 169,974 200,988 231,1002 262,1019 294,1039 325,1056 356,1065 387,1067 418,1071 450,1083 481,1101 512,1120 543,1134 575,1148 606,1165 637,1184 668,1199 699,1206 731,1208 762,1213 793,1227M44,940 75,943 106,953 138,970 169,990 200,1006 231,1019 262,1035 294,1053 325,1070 356,1079 387,1081 418,1085 450,1097 481,1116 512,1136 543,1152 575,1165 606,1180 637,1197 668,1212 699,1220 731,1222 762,1227 793,1241M44,954 75,957 106,967 138,985 169,1006 200,1023 231,1037 262,1050 294,1067 325,1083 356,1092 387,1095 418,1099 450,1111 481,1131 512,1152 543,1169 575,1182 606,1195 637,1211 668,1226 699,1234 731,1237 762,1242 793,1256M44,968 75,971 106,981 138,1000 169,1022 200,1040 231,1054 262,1066 294,1081 325,1096 356,1106 387,1110 418,1114 450,1126 481,1146 512,1169 543,1187 575,1199 606,1210 637,1224 668,1238 699,1247 731,1251 762,1257 793,1271M44,983 75,986 106,996 138,1015 169,1038 200,1058 231,1071 262,1082 294,1095 325,1109 356,1119 387,1124 418,1129 450,1141 481,1162 512,1185 543,1204 575,1216 606,1225 637,1238 668,1251 699,1261 731,1266 762,1272 793,1286M44,997 75,1001 106,1011 138,1030 169,1054 200,1074 231,1087 262,1097 294,1108 325,1121 356,1132 387,1139 418,1144 450,1156 481,1177 512,1201 543,1220 575,1232 606,1240 637,1251 668,1264 699,1274 731,1281 762,1288 793,1302M44,1011 75,1016 106,1027 138,1046 169,1070 200,1091 231,1104 262,1112 294,1121 325,1134 356,1146 387,1153 418,1160 450,1172 481,1193 512,1217 543,1237 575,1248 606,1255 637,1264 668,1276 699,1288 731,1296 762,1304 793,1318M44,1025 75,1032 106,1043 138,1062 169,1086 200,1107 231,1120 262,1127 294,1135 325,1146 356,1159 387,1168 418,1176 450,1189 481,1209 512,1233 543,1253 575,1264 606,1269 637,1277 668,1289 699,1301 731,1312 762,1321 793,1335M44,1040 75,1048 106,1059 138,1078 169,1102 200,1123 231,1136 262,1142 294,1148 325,1159 356,1172 387,1183 418,1193 450,1205 481,1225 512,1249 543,1269 575,1279 606,1284 637,1290 668,1301 699,1315 731,1327 762,1337 793,1352M44,1055 75,1064 106,1076 138,1094 169,1118 200,1139 231,1151 262,1156 294,1161 325,1171 356,1185 387,1198 418,1209 450,1222 481,1241 512,1264 543,1284 575,1294 606,1298 637,1303 668,1314 699,1329 731,1343 762,1355 793,1368M44,1070 75,1081 106,1093 138,1111 169,1133 200,1154 231,1166 262,1171 294,1175 325,1184 356,1199 387,1214 418,1226 450,1239 481,1257 512,1280 543,1299 575,1309 606,1312 637,1316 668,1327 699,1343 731,1359 762,1372 793,1386M44,1085 75,1098 106,1110 138,1127 169,1149 200,1169 231,1181 262,1185 294,1188 325,1197 356,1213 387,1229 418,1243 450,1257 481,1274 512,1295 543,1313 575,1323 606,1326 637,1330 668,1340 699,1357 731,1375 762,1389 793,1403M44,1100 75,1115 106,1128 138,1144 169,1164 200,1183 231,1195 262,1199 294,1202 325,1210 356,1227 387,1245 418,1260 450,1274 481,1290 512,1309 543,1327 575,1338 606,1340 637,1343 668,1354 699,1372 731,1391 762,1407 793,1420M44,1115 75,1132 106,1145 138,1160 169,1179 200,1197 231,1209 262,1214 294,1216 325,1224 356,1241 387,1261 418,1278 450,1291 481,1306 512,1324 543,1341 575,1351 606,1355 637,1357 668,1368 699,1386 731,1407 762,1424 793,1437M44,1130 75,1149 106,1163 138,1177 169,1193 200,1211 231,1223 262,1228 294,1230 325,1238 356,1255 387,1277 418,1295 450,1309 481,1322 512,1338 543,1354 575,1365 606,1369 637,1372 668,1382 699,1401 731,1423 762,1441 793,1454M44,1146 75,1166 106,1180 138,1193 169,1208 200,1224 231,1236 262,1242 294,1244 325,1253 356,1270 387,1293 418,1312 450,1326 481,1338 512,1352 543,1367 575,1378 606,1383 637,1387 668,1397 699,1416 731,1439 762,1458 793,1471M44,1162 75,1182 106,1198 138,1209 169,1222 200,1237 231,1250 262,1256 294,1259 325,1267 356,1285 387,1309 418,1329 450,1343 481,1354 512,1366 543,1380 575,1391 606,1397 637,1402 668,1412 699,1432 731,1456 762,1475 793,1488M44,1177 75,1199 106,1215 138,1225 169,1236 200,1250 231,1263 262,1270 294,1274 325,1283 356,1301 387,1324 418,1346 450,1360 481,1369 512,1380 543,1393 575,1404 606,1412 637,1417 668,1428 699,1447 731,1472 762,1492 793,1504M44,1193 75,1216 106,1232 138,1241 169,1251 200,1263 231,1275 262,1284 294,1289 325,1299 356,1316 387,1340 418,1362 450,1376 481,1385 512,1393 543,1405 575,1417 606,1426 637,1433 668,1444 699,1463 731,1488 762,1508 793,1521M44,1209 75,1232 106,1248 138,1257 169,1264 200,1275 231,1288 262,1298 294,1305 325,1315 356,1332 387,1356 418,1379 450,1393 481,1400 512,1407 543,1418 575,1430 606,1441 637,1449 668,1460 699,1479 731,1504 762,1524 793,1537M44,1225 75,1248 106,1264 138,1272 169,1278 200,1288 231,1301 262,1312 294,1321 325,1331 356,1349 387,1372 418,1394 450,1408 481,1415 512,1420 543,1430 575,1444 606,1455 637,1465 668,1477 699,1496 731,1519 762,1540 793,1552M44,1241 75,1264 106,1280 138,1287 169,1292 200,1301 231,1314 262,1327 294,1337 325,1348 356,1365 387,1388 418,1410 450,1424 481,1430 512,1434 543,1443 575,1457 606,1470 637,1482 668,1494 699,1512 731,1535 762,1555 793,1567M44,1257 75,1280 106,1295 138,1302 169,1306 200,1313 231,1327 262,1341 294,1353 325,1365 356,1381 387,1404 418,1425 450,1439 481,1444 512,1447 543,1456 575,1470 606,1486 637,1498 668,1511 699,1528 731,1550 762,1570 793,1582M44,1272 75,1295 106,1310 138,1317 169,1320 200,1326 231,1340 262,1356 294,1370 325,1382 356,1398 387,1419 418,1440 450,1454 481,1459 512,1461 543,1469 575,1484 606,1501 637,1515 668,1528 699,1545 731,1565 762,1585 793,1596M44,1288 75,1309 106,1325 138,1331 169,1334 200,1340 231,1353 262,1371 294,1387 325,1400 356,1415 387,1434 418,1454 450,1468 481,1473 512,1475 543,1482 575,1497 606,1516 637,1532 668,1546 699,1561 731,1580 762,1599 793,1610M44,1304 75,1324 106,1339 138,1346 169,1348 200,1353 231,1367 262,1386 294,1403 325,1417 356,1432 387,1449 418,1468 450,1482 481,1487 512,1489 543,1496 575,1512 606,1532 637,1549 668,1563 699,1577 731,1595 762,1612 793,1624M44,1319 75,1338 106,1353 138,1360 169,1362 200,1367 231,1381 262,1401 294,1420 325,1435 356,1448 387,1464 418,1482 450,1495 481,1501 512,1503 543,1510 575,1526 606,1547 637,1567 668,1581 699,1594 731,1609 762,1626 793,1637M44,1334 75,1352 106,1366 138,1374 169,1376 200,1381 231,1395 262,1416 294,1437 325,1452 356,1465 387,1479 418,1495 450,1509 481,1515 512,1517 543,1524 575,1541 606,1563 637,1583 668,1598 699,1610 731,1623 762,1639 793,1651M44,1349 75,1365 106,1379 138,1387 169,1390 200,1396 231,1410 262,1432 294,1454 325,1470 356,1481 387,1494 418,1509 450,1522 481,1529 512,1532 543,1539 575,1556 606,1579 637,1600 668,1615 699,1626 731,1638 762,1651 793,1664M44,1364 75,1378 106,1392 138,1401 169,1405 200,1411 231,1425 262,1448 294,1470 325,1487 356,1498 387,1508 418,1521 450,1534 481,1543 512,1547 543,1555 575,1571 606,1595 637,1617 668,1632 699,1642 731,1651 762,1664 793,1676M44,1379 75,1392 106,1405 138,1415 169,1420 200,1426 231,1441 262,1463 294,1487 325,1504 356,1514 387,1523 418,1534 450,1547 481,1556 512,1562 543,1570 575,1587 606,1611 637,1633 668,1649 699,1657 731,1665 762,1677 793,1689M44,1394 75,1405 106,1417 138,1428 169,1435 200,1442 231,1457 262,1479 294,1503 325,1520 356,1530 387,1537 418,1547 450,1560 481,1570 512,1578 543,1587 575,1603 606,1626 637,1650 668,1665 699,1673 731,1679 762,1689 793,1702M44,1409 75,1418 106,1430 138,1442 169,1450 200,1458 231,1473 262,1495 294,1519 325,1536 356,1545 387,1551 418,1560 450,1572 481,1584 512,1593 543,1603 575,1619 606,1642 637,1665 668,1681 699,1688 731,1693 762,1702 793,1715M44,1423 75,1430 106,1442 138,1455 169,1465 200,1475 231,1489 262,1511 294,1535 325,1552 356,1560 387,1565 418,1572 450,1585 481,1599 512,1609 543,1620 575,1636 606,1658 637,1681 668,1696 699,1703 731,1706 762,1715 793,1728M44,1437 75,1443 106,1455 138,1469 169,1481 200,1492 231,1506 262,1527 294,1550 325,1567 356,1575 387,1579 418,1585 450,1598 481,1613 512,1626 543,1637 575,1653 606,1674 637,1696 668,1711 699,1717 731,1720 762,1727 793,1741M44,1451 75,1457 106,1468 138,1483 169,1497 200,1509 231,1523 262,1543 294,1565 325,1582 356,1590 387,1593 418,1598 450,1611 481,1627 512,1642 543,1654 575,1669 606,1689 637,1711 668,1726 699,1732 731,1734 762,1741 793,1755M44,1466 75,1470 106,1481 138,1497 169,1513 200,1526 231,1540 262,1559 294,1580 325,1597 356,1605 387,1607 418,1612 450,1624 481,1642 512,1658 543,1672 575,1686 606,1705 637,1725 668,1740 699,1746 731,1748 762,1754 793,1768M44,1480 75,1483 106,1494 138,1511 169,1529 200,1543 231,1557 262,1574 294,1594 325,1611 356,1619 387,1621 418,1625 450,1638 481,1657 512,1675 543,1689 575,1703 606,1720 637,1739 668,1754 699,1760 731,1762 762,1768 793,1782M44,1494 75,1497 106,1508 138,1526 169,1545 200,1561 231,1574 262,1590 294,1609 325,1625 356,1633 387,1635 418,1639 450,1652 481,1672 512,1691 543,1707 575,1720 606,1735 637,1753 668,1767 699,1774 731,1776 762,1782 793,1797M44,1508 75,1511 106,1522 138,1541 169,1561 200,1578 231,1591 262,1606 294,1623 325,1638 356,1647 387,1649 418,1654 450,1666 481,1687 512,1708 543,1724 575,1737 606,1751 637,1766 668,1780 699,1788 731,1791 762,1797 793,1811M44,1522 75,1526 106,1536 138,1556 169,1578 200,1596 231,1608 262,1621 294,1636 325,1651 356,1660 387,1664 418,1668 450,1681 481,1702 512,1725 543,1742 575,1754 606,1765 637,1780 668,1793 699,1802 731,1805 762,1812 793,1826M44,1536 75,1540 106,1551 138,1571 169,1594 200,1613 231,1625 262,1636 294,1650 325,1664 356,1674 387,1678 418,1683 450,1696 481,1718 512,1741 543,1759 575,1770 606,1780 637,1793 668,1806 699,1815 731,1820 762,1827 793,1842M44,1551 75,1555 106,1566 138,1586 169,1610 200,1630 231,1642 262,1651 294,1663 325,1676 356,1687 387,1693 418,1699 450,1712 481,1733 512,1757 543,1776 575,1786 606,1795 637,1806 668,1819 699,1829 731,1835 762,1843 793,1858M44,1565 75,1571 106,1582 138,1602 169,1626 200,1646 231,1658 262,1666 294,1676 325,1689 356,1700 387,1708 418,1714 450,1728 481,1749 512,1773 543,1792 575,1802 606,1809 637,1819 668,1831 699,1843 731,1851 762,1859 793,1874M44,1580 75,1587 106,1598 138,1618 169,1642 200,1663 231,1675 262,1681 294,1689 325,1701 356,1714 387,1723 418,1731 450,1744 481,1765 512,1789 543,1808 575,1818 606,1824 637,1831 668,1844 699,1856 731,1866 762,1875 793,1890M44,1595 75,1603 106,1614 138,1634 169,1658 200,1679 231,1690 262,1696 294,1703 325,1714 356,1727 387,1738 418,1747 450,1760 481,1781 512,1805 543,1824 575,1833 606,1838 637,1844 668,1856 699,1870 731,1882 762,1892 793,1907M44,1609 75,1619 106,1631 138,1650 169,1674 200,1694 231,1706 262,1710 294,1716 325,1726 356,1741 387,1753 418,1764 450,1777 481,1797 512,1820 543,1839 575,1849 606,1852 637,1857 668,1869 699,1884 731,1898 762,1909 793,1924M44,1624 75,1636 106,1648 138,1666 169,1689 200,1710 231,1721 262,1725 294,1729 325,1739 356,1754 387,1769 418,1781 450,1794 481,1813 512,1836 543,1854 575,1863 606,1866 637,1871 668,1882 699,1898 731,1914 762,1927 793,1941M44,1640 75,1653 106,1665 138,1683 169,1705 200,1724 231,1736 262,1739 294,1742 325,1752 356,1768 387,1785 418,1798 450,1812 481,1829 512,1851 543,1868 575,1878 606,1880 637,1884 668,1895 699,1913 731,1930 762,1944 793,1958M44,1655 75,1670 106,1683 138,1699 169,1720 200,1739 231,1750 262,1753 294,1756 325,1766 356,1782 387,1800 418,1815 450,1829 481,1845 512,1865 543,1882 575,1892 606,1894 637,1898 668,1909 699,1927 731,1946 762,1961 793,1975M44,1670 75,1687 106,1700 138,1715 169,1734 200,1753 231,1764 262,1767 294,1770 325,1779 356,1797 387,1816 418,1833 450,1846 481,1861 512,1879 543,1896 575,1906 606,1908 637,1912 668,1923 699,1942 731,1963 762,1979 793,1992M44,1686 75,1704 106,1718 138,1732 169,1749 200,1766 231,1778 262,1781 294,1784 325,1793 356,1811 387,1832 418,1850 450,1864 481,1877 512,1894 543,1909 575,1919 606,1923 637,1926 668,1937 699,1957 731,1979 762,1996 793,2009M44,1702 75,1721 106,1735 138,1748 169,1763 200,1780 231,1791 262,1796 294,1798 325,1808 356,1826 387,1848 418,1867 450,1881 481,1893 512,1907 543,1922 575,1933 606,1937 637,1941 668,1952 699,1972 731,1995 762,2014 793,2026M44,1718 75,1738 106,1752 138,1764 169,1777 200,1793 231,1804 262,1810 294,1813 325,1823 356,1841 387,1865 418,1884 450,1898 481,1908 512,1921 543,1935 575,1946 606,1951 637,1956 668,1967 699,1988 731,2012 762,2031 793,2043M44,1733 75,1755 106,1769 138,1780 169,1791 200,1805 231,1817 262,1824 294,1828 325,1838 356,1857 387,1881 418,1901 450,1915 481,1924 512,1935 543,1948 575,1959 606,1966 637,1971 668,1983 699,2004 731,2028 762,2047 793,2059M44,1749 75,1771 106,1786 138,1796 169,1805 200,1818 231,1830 262,1838 294,1844 325,1854 356,1872 387,1897 418,1918 450,1931 481,1939 512,1948 543,1960 575,1972 606,1980 637,1987 668,1999 699,2019 731,2044 762,2064 793,2075M44,1765 75,1788 106,1803 138,1811 169,1819 200,1831 231,1843 262,1852 294,1859 325,1870 356,1888 387,1913 418,1934 450,1947 481,1954 512,1961 543,1973 575,1985 606,1995 637,2003 668,2015 699,2035 731,2060 762,2080 793,2091M44,1781 75,1804 106,1819 138,1826 169,1833 200,1843 231,1856 262,1867 294,1875 325,1886 356,1904 387,1928 418,1950 450,1963 481,1969 512,1975 543,1985 575,1999 606,2010 637,2020 668,2032 699,2052 731,2075 762,2095 793,2106M44,1797 75,1820 106,1835 138,1841 169,1846 200,1856 231,1869 262,1882 294,1892 325,1903 356,1921 387,1944 418,1966 450,1978 481,1984 512,1988 543,1998 575,2012 606,2025 637,2036 668,2049 699,2068 731,2091 762,2111 793,2121M44,1813 75,1835 106,1850 138,1856 169,1860 200,1868 231,1882 262,1896 294,1908 325,1920 356,1937 387,1960 418,1981 450,1993 481,1998 512,2002 543,2011 575,2025 606,2041 637,2053 668,2066 699,2084 731,2106 762,2125 793,2136M44,1828 75,1850 106,1865 138,1871 169,1874 200,1881 231,1895 262,1911 294,1925 325,1937 356,1954 387,1975 418,1995 450,2008 481,2012 512,2015 543,2024 575,2039 606,2056 637,2070 668,2083 699,2100 731,2121 762,2140 793,2151M44,1844 75,1865 106,1880 138,1885 169,1888 200,1894 231,1909 262,1926 294,1942 325,1955 356,1970 387,1990 418,2010 450,2022 481,2027 512,2029 543,2037 575,2053 606,2072 637,2087 668,2101 699,2117 731,2136 762,2154 793,2165M44,1859 75,1879 106,1894 138,1900 169,1901 200,1908 231,1923 262,1941 294,1958 325,1972 356,1987 387,2005 418,2024 450,2036 481,2041 512,2043 543,2051 575,2067 606,2087 637,2105 668,2118 699,2133 731,2150 762,2167 793,2178M44,1875 75,1893 106,1908 138,1914 169,1915 200,1922 231,1937 262,1957 294,1975 325,1990 356,2003 387,2020 418,2037 450,2050 481,2055 512,2057 543,2065 575,2082 606,2103 637,2122 668,2136 699,2149 731,2165 762,2181 793,2192M44,1890 75,1907 106,1921 138,1928 169,1930 200,1936 231,1951 262,1972 294,1992 325,2007 356,2020 387,2034 418,2051 450,2063 481,2069 512,2071 543,2079 575,2097 606,2119 637,2139 668,2153 699,2165 731,2179 762,2194 793,2205M44,1905 75,1921 106,1934 138,1941 169,1944 200,1950 231,1966 262,1988 294,2009 325,2025 356,2036 387,2049 418,2064 450,2076 481,2083 512,2086 543,2094 575,2112 606,2135 637,2156 668,2170 699,2181 731,2193 762,2207 793,2218M44,1919 75,1934 106,1947 138,1955 169,1959 200,1965 231,1981 262,2004 294,2026 325,2042 356,2052 387,2063 418,2077 450,2089 481,2097 512,2101 543,2110 575,2127 606,2151 637,2173 668,2187 699,2196 731,2206 762,2219 793,2231M44,1934 75,1947 106,1960 138,1969 169,1974 200,1981 231,1996 262,2019 294,2042 325,2058 356,2068 387,2077 418,2089 450,2102 481,2111 512,2116 543,2125 575,2143 606,2167 637,2189 668,2203 699,2212 731,2220 762,2232 793,2244M44,1949 75,1960 106,1972 138,1983 169,1989 200,1997 231,2012 262,2035 294,2059 325,2075 356,2084 387,2091 418,2102 450,2115 481,2125 512,2132 543,2142 575,2159 606,2183 637,2205 668,2220 699,2227 731,2234 762,2244 793,2257M44,1963 75,1972 106,1985 138,1996 169,2004 200,2013 231,2028 262,2051 294,2075 325,2091 356,2099 387,2105 418,2115 450,2127 481,2139 512,2148 543,2158 575,2175 606,2198 637,2221 668,2235 699,2242 731,2247 762,2257 793,2270M44,1977 75,1985 106,1998 138,2010 169,2020 200,2030 231,2045 262,2067 294,2090 325,2107 356,2115 387,2119 418,2127 450,2140 481,2153 512,2164 543,2175 575,2191 606,2214 637,2236 668,2251 699,2257 731,2261 762,2269 793,2283M44,1991 75,1998 106,2010 138,2024 169,2036 200,2046 231,2061 262,2083 294,2106 325,2122 356,2130 387,2133 418,2140 450,2153 481,2168 512,2180 543,2192 575,2208 606,2230 637,2252 668,2266 699,2271 731,2274 762,2282 793,2297M44,2005 75,2011 106,2023 138,2038 169,2052 200,2064 231,2078 262,2099 294,2121 325,2137 356,2144 387,2147 418,2153 450,2166 481,2183 512,2197 543,2209 575,2225 606,2245 637,2266 668,2281 699,2286 731,2288 762,2295 793,2310M44,2020 75,2024 106,2036 138,2053 169,2068 200,2081 231,2095 262,2114 294,2136 325,2152 356,2159 387,2161 418,2166 450,2180 481,2197 512,2213 543,2227 575,2242 606,2261 637,2281 668,2295 699,2300 731,2302 762,2309 793,2324M44,2034 75,2038 106,2050 138,2067 169,2084 200,2098 231,2112 262,2130 294,2150 325,2166 356,2173 387,2175 418,2180 450,2193 481,2212 512,2230 543,2244 575,2258 606,2276 637,2295 668,2309 699,2314 731,2316 762,2323 793,2338M44,2048 75,2051 106,2063 138,2082 169,2101 200,2116 231,2129 262,2146 294,2164 325,2180 356,2187 387,2189 418,2194 450,2207 481,2227 512,2247 543,2262 575,2275 606,2291 637,2308 668,2322 699,2328 731,2330 762,2337 793,2352M44,2062 75,2065 106,2077 138,2097 169,2117 200,2133 231,2146 262,2161 294,2178 325,2193 356,2201 387,2203 418,2208 450,2222 481,2243 512,2264 543,2279 575,2292 606,2306 637,2322 668,2335 699,2342 731,2345 762,2351 793,2367M44,2076 75,2080 106,2092 138,2112 169,2133 200,2151 231,2163 262,2176 294,2192 325,2206 356,2214 387,2217 418,2223 450,2237 481,2258 512,2280 543,2297 575,2308 606,2320 637,2335 668,2348 699,2356 731,2359 762,2366 793,2382M44,2090 75,2095 106,2106 138,2127 169,2150 200,2168 231,2180 262,2191 294,2205 325,2219 356,2228 387,2232 418,2238 450,2252 481,2274 512,2297 543,2314 575,2325 606,2335 637,2348 668,2361 699,2370 731,2374 762,2382 793,2398M44,2105 75,2110 106,2122 138,2143 169,2166 200,2185 231,2197 262,2206 294,2218 325,2231 356,2241 387,2247 418,2253 450,2267 481,2290 512,2313 543,2331 575,2341 606,2349 637,2361 668,2374 699,2383 731,2389 762,2397 793,2413M44,2119 75,2125 106,2137 138,2158 169,2182 200,2202 231,2213 262,2221 294,2231 325,2244 356,2255 387,2262 418,2269 450,2283 481,2305 512,2329 543,2347 575,2357 606,2364 637,2374 668,2386 699,2397 731,2405 762,2414 793,2430M44,2134 75,2141 106,2153 138,2174 169,2198 200,2218 231,2229 262,2236 294,2244 325,2256 356,2268 387,2277 418,2285 450,2299 481,2321 512,2345 543,2363 575,2372 606,2378 637,2386 668,2399 699,2411 731,2421 762,2430 793,2446M44,2149 75,2157 106,2170 138,2190 169,2214 200,2234 231,2245 262,2250 294,2257 325,2269 356,2282 387,2292 418,2302 450,2316 481,2337 512,2361 543,2379 575,2388 606,2392 637,2399 668,2412 699,2425 731,2436 762,2447 793,2462M44,2164 75,2174 106,2186 138,2206 169,2230 200,2250 231,2260 262,2264 294,2270 325,2282 356,2296 387,2308 418,2319 450,2333 481,2353 512,2376 543,2394 575,2403 606,2406 637,2412 668,2424 699,2439 731,2453 762,2464 793,2479M44,2179 75,2190 106,2203 138,2222 169,2245 200,2265 231,2275 262,2279 294,2283 325,2294 356,2310 387,2324 418,2336 450,2350 481,2369 512,2392 543,2409 575,2417 606,2420 637,2425 668,2437 699,2454 731,2469 762,2481 793,2496M44,2195 75,2207 106,2220 138,2239 169,2261 200,2280 231,2290 262,2293 294,2297 325,2307 356,2324 387,2340 418,2353 450,2367 481,2385 512,2406 543,2424 575,2432 606,2434 637,2439 668,2451 699,2468 731,2485 762,2499 793,2513M44,2210 75,2224 106,2238 138,2255 169,2275 200,2294 231,2304 262,2307 294,2310 325,2321 356,2338 387,2356 418,2370 450,2384 481,2401 512,2421 543,2438 575,2446 606,2448 637,2452 668,2464 699,2483 731,2502 762,2516 793,2530M44,2226 75,2242 106,2255 138,2271 169,2290 200,2308 231,2318 262,2321 294,2324 325,2334 356,2352 387,2372 418,2388 450,2401 481,2417 512,2435 543,2451 575,2460 606,2462 637,2466 668,2478 699,2498 731,2518 762,2534 793,2547" fill="none" stroke="#ffd878" stroke-width="3.2" opacity="0.2" stroke-linejoin="round" filter="url(#bl1)"/>
<rect x="44" y="1217" width="749" height="743" filter="url(#grain)" opacity="0.5"/>
</g>
<rect x="45" y="1218" width="747" height="741" fill="none" stroke="#7a3a14" stroke-width="2.5" opacity="0.85"/>
<text transform="translate(406,1557) rotate(-59.2)" font-size="40" fill="#3a2230" textLength="246" lengthAdjust="spacingAndGlyphs">scan profile b</text>
<path d="M464.5,1517L511.5,1431.5M460.5,1514.5l8,4.5M507.5,1429.5l8,4.5" stroke="#48389a" stroke-width="3.4" fill="none"/>
<path d="M628,1905H777M628,1895v20M777,1895v20" stroke="#4a0f0c" stroke-width="3.2" fill="none" opacity="0.9"/>
<text x="697" y="1889" font-size="21" text-anchor="middle" fill="#4a0f0c" font-family='"DejaVu Sans Mono","Liberation Mono",monospace' opacity="0.85" xml:space="preserve">1  µm</text>
<linearGradient id="cb1217" x1="0" y1="0" x2="0" y2="1"><stop offset="0.000" stop-color="#ffffff"/><stop offset="0.050" stop-color="#ffffff"/><stop offset="0.110" stop-color="#fdf3df"/><stop offset="0.185" stop-color="#fce2ae"/><stop offset="0.260" stop-color="#f9c566"/><stop offset="0.333" stop-color="#f6a844"/><stop offset="0.407" stop-color="#f3943a"/><stop offset="0.480" stop-color="#ee7e30"/><stop offset="0.556" stop-color="#e5642a"/><stop offset="0.630" stop-color="#d4431c"/><stop offset="0.704" stop-color="#ae2e14"/><stop offset="0.778" stop-color="#82200f"/><stop offset="0.852" stop-color="#57150b"/><stop offset="0.926" stop-color="#2c0a06"/><stop offset="1.000" stop-color="#000000"/></linearGradient>
<rect x="798" y="1217" width="23" height="743.5" fill="url(#cb1217)"/>
<rect x="792" y="1217" width="6" height="743.5" fill="#b9aca2"/>
<rect x="821" y="1217" width="6" height="743.5" fill="#a9a7a6"/>
<rect x="795" y="1215" width="41" height="6" fill="#999a9b"/>
<path d="M826,1960.5h10M826,1901.0h10M826,1841.6h10M826,1782.2h10M826,1722.7h10M826,1663.2h10M826,1603.8h10M826,1544.3h10M826,1484.9h10M826,1425.5h10M826,1366.0h10M826,1306.6h10" stroke="#8c8c8c" stroke-width="4.5" fill="none"/>
<text x="842.0" y="1994.8" font-size="52" text-anchor="start" fill="#141414"  stroke="#fff" stroke-width="0.45">0.0</text>
<text x="837.4" y="1865.0" font-size="52" text-anchor="start" fill="#141414"  stroke="#fff" stroke-width="0.45">0.4</text>
<text x="837.4" y="1743.5" font-size="52" text-anchor="start" fill="#141414"  stroke="#fff" stroke-width="0.45">0.8</text>
<text x="840.5" y="1624.4" font-size="52" text-anchor="start" fill="#141414"  stroke="#fff" stroke-width="0.45">1.2</text>
<text x="833.6" y="1506.3" font-size="52" text-anchor="start" fill="#141414"  stroke="#fff" stroke-width="0.45">1.6</text>
<text x="843.6" y="1390.6" font-size="52" text-anchor="start" fill="#141414"  stroke="#fff" stroke-width="0.45">2.0</text>
<text x="843.6" y="1327.6" font-size="52" text-anchor="start" fill="#141414"  stroke="#fff" stroke-width="0.45">2.2</text>
<text x="839.0" y="1230.4" font-size="52" text-anchor="start" fill="#141414" textLength="165" lengthAdjust="spacing" stroke="#fff" stroke-width="0.45">2.5 nm</text>
<text transform="translate(943.6,1609) rotate(-90)" font-size="50" text-anchor="middle" fill="#262626" y="18">Height, nm</text>
<rect x="1130.5" y="1215" width="1017.5" height="747.5" fill="#fff" stroke="#141414" stroke-width="5"/>
<path d="M1300.1,1962.5v-19M1469.7,1962.5v-19M1639.2,1962.5v-19M1808.8,1962.5v-19M1978.4,1962.5v-19M1215.3,1962.5v-11M1384.9,1962.5v-11M1554.5,1962.5v-11M1724.0,1962.5v-11M1893.6,1962.5v-11M2063.2,1962.5v-11M1130.5,1887.8h19M1130.5,1738.2h19M1130.5,1588.8h19M1130.5,1439.2h19M1130.5,1289.8h19M1130.5,1813.0h11M1130.5,1663.5h11M1130.5,1514.0h11M1130.5,1364.5h11" stroke="#141414" stroke-width="4.2" fill="none"/>
<text x="1133.0" y="2019.0" font-size="52" text-anchor="middle" fill="#141414"  stroke="#fff" stroke-width="0.45">0.0</text>
<text x="1297.6" y="2019.0" font-size="52" text-anchor="middle" fill="#141414"  stroke="#fff" stroke-width="0.45">0.1</text>
<text x="1458.7" y="2019.0" font-size="52" text-anchor="middle" fill="#141414"  stroke="#fff" stroke-width="0.45">0.2</text>
<text x="1647.2" y="2017.0" font-size="52" text-anchor="middle" fill="#141414"  stroke="#fff" stroke-width="0.45">0.3</text>
<text x="1805.8" y="2025.0" font-size="52" text-anchor="middle" fill="#141414"  stroke="#fff" stroke-width="0.45">0.4</text>
<text x="1972.4" y="2019.0" font-size="52" text-anchor="middle" fill="#141414"  stroke="#fff" stroke-width="0.45">0.5</text>
<text x="2149.5" y="2019.0" font-size="52" text-anchor="middle" fill="#141414"  stroke="#fff" stroke-width="0.45">0.6</text>
<text x="1116.0" y="1909.3" font-size="52" text-anchor="end" fill="#141414"  stroke="#fff" stroke-width="0.45">−0.2</text>
<text x="1112.0" y="1760.8" font-size="52" text-anchor="end" fill="#141414"  stroke="#fff" stroke-width="0.45">−0.1</text>
<text x="1113.0" y="1610.8" font-size="52" text-anchor="end" fill="#141414"  stroke="#fff" stroke-width="0.45">0.0</text>
<text x="1112.0" y="1461.5" font-size="52" text-anchor="end" fill="#141414"  stroke="#fff" stroke-width="0.45">0.1</text>
<text x="1115.0" y="1312.3" font-size="52" text-anchor="end" fill="#141414"  stroke="#fff" stroke-width="0.45">0.2</text>
<clipPath id="cp1215"><rect x="1130.5" y="1215" width="1017.5" height="747.5"/></clipPath>
<polyline clip-path="url(#cp1215)" points="1130.4,1401.3 1137.0,1449.1 1140.0,1508.9 1144.4,1598.6 1150.4,1688.3 1154.9,1745.1 1159.4,1760.0 1163.9,1819.8 1168.4,1786.9 1172.8,1810.8 1176.4,1785.4 1181.2,1821.3 1186.3,1792.9 1190.2,1770.5 1193.2,1782.4 1198.2,1715.2 1202.7,1709.2 1206.3,1718.2 1213.2,1671.8 1218.3,1647.9 1223.7,1664.3 1229.0,1680.8 1235.6,1625.5 1243.1,1567.2 1247.6,1552.3 1253.5,1571.7 1258.0,1553.8 1265.5,1546.3 1273.0,1552.3 1275.1,1547.8 1278.4,1480.5 1283.4,1505.9 1287.9,1514.9 1293.3,1480.5 1295.4,1479.0 1299.3,1520.9 1305.9,1489.5 1308.8,1479.0 1313.9,1488.0 1320.8,1453.6 1325.3,1473.0 1331.3,1474.5 1334.2,1523.9 1343.2,1658.4 1350.7,1777.9 1355.8,1849.7 1359.7,1852.7 1364.1,1888.5 1368.0,1905.9 1371.6,1894.5 1375.5,1846.7 1379.1,1842.2 1381.5,1852.7 1385.7,1795.9 1389.5,1772.0 1394.0,1792.9 1397.9,1804.8 1402.4,1772.0 1406.6,1743.6 1412.0,1748.0 1418.5,1752.5 1423.3,1685.3 1426.9,1667.3 1431.4,1627.0 1435.3,1658.4 1440.4,1661.4 1444.2,1634.5 1448.4,1616.5 1452.3,1673.3 1456.8,1671.8 1461.3,1628.5 1465.8,1612.0 1470.3,1661.4 1471.0,1662.9 1474.6,1664.3 1480.6,1583.6 1484.4,1573.2 1490.4,1540.3 1494.9,1537.3 1500.3,1553.8 1503.9,1535.8 1506.9,1511.9 1511.3,1528.3 1517.3,1523.9 1521.2,1517.9 1524.2,1464.1 1529.3,1456.6 1533.8,1435.7 1537.3,1431.2 1542.1,1449.1 1546.3,1462.6 1553.2,1401.3 1558.3,1384.9 1563.7,1404.3 1567.5,1417.7 1571.1,1396.8 1575.6,1401.3 1580.1,1507.4 1585.2,1505.9 1590.6,1553.8 1595.0,1619.5 1599.5,1676.3 1606.1,1674.8 1611.5,1718.2 1616.0,1757.0 1619.0,1794.4 1622.5,1766.0 1626.4,1795.9 1630.9,1757.0 1635.4,1700.2 1639.0,1739.1 1642.9,1700.2 1646.8,1667.3 1650.9,1674.8 1655.7,1673.3 1660.8,1655.4 1665.3,1667.3 1669.8,1688.3 1673.7,1700.2 1677.2,1685.3 1681.7,1638.9 1688.6,1631.5 1691.6,1624.0 1695.2,1647.9 1699.7,1577.7 1704.1,1558.2 1707.7,1555.2 1711.6,1562.7 1715.5,1580.7 1720.6,1568.7 1725.1,1559.7 1730.4,1525.4 1733.4,1520.9 1737.0,1471.5 1740.6,1494.0 1746.0,1498.5 1750.5,1449.1 1754.4,1423.7 1762.4,1404.3 1767.8,1405.8 1771.4,1383.4 1775.9,1378.9 1779.5,1404.3 1783.4,1353.5 1787.8,1328.1 1796.8,1326.6 1800.4,1380.4 1805.2,1381.9 1810.3,1413.3 1812.5,1437.2 1815.5,1479.0 1820.0,1568.7 1822.9,1637.4 1830.4,1712.2 1836.4,1745.1 1840.3,1783.9 1843.9,1789.9 1846.9,1828.8 1851.3,1827.3 1855.2,1810.8 1859.4,1822.8 1864.8,1816.8 1867.8,1792.9 1871.4,1745.1 1874.4,1737.6 1878.2,1745.1 1881.2,1679.3 1886.3,1688.3 1890.2,1643.4 1895.3,1622.5 1898.3,1594.1 1903.1,1619.5 1906.6,1610.5 1911.1,1556.7 1915.0,1567.2 1920.1,1600.1 1925.2,1598.6 1929.1,1609.0 1933.5,1553.8 1937.1,1517.9 1941.0,1501.4 1944.9,1455.1 1948.5,1489.5 1953.0,1499.9 1958.1,1520.9 1961.9,1517.9 1967.9,1529.8 1971.8,1526.8 1975.4,1550.8 1980.8,1505.9 1984.4,1498.5 1988.8,1502.9 1992.4,1516.4 1996.9,1470.1 2000.8,1444.6 2005.3,1467.1 2009.8,1483.5 2014.2,1473.0 2018.1,1467.1 2021.7,1431.2 2026.2,1420.7 2030.7,1384.9 2035.2,1378.9 2039.7,1356.5 2042.6,1349.0 2047.1,1311.6 2051.6,1316.1 2055.5,1329.6 2060.0,1286.2 2063.6,1314.6 2068.7,1317.6 2072.5,1329.6 2076.4,1365.4 2080.6,1401.3 2083.0,1443.2 2086.0,1497.0 2093.5,1486.5 2096.5,1538.8 2100.3,1607.6 2103.9,1658.4 2108.4,1700.2 2111.4,1724.1 2115.3,1766.0 2120.4,1730.1 2127.8,1722.6 2132.3,1694.2 2136.8,1665.8 2139.8,1685.3 2144.3,1688.3" fill="none" stroke="#0c0c0c" stroke-width="4.6" stroke-linejoin="round" stroke-linecap="round"/>
<text x="1563.0" y="1282.6" font-size="40" text-anchor="start" fill="#3c3c3c" textLength="153.5" lengthAdjust="spacingAndGlyphs">profile b</text>
<text x="1638.0" y="2107.0" font-size="50" text-anchor="middle" fill="#262626" >Distance, µm</text>
<text x="1024.8" y="2118.7" font-size="86" text-anchor="middle" fill="#1c1c1c" >(b)</text>
<clipPath id="clipc"><rect x="57" y="2352" width="737" height="730"/></clipPath>
<g clip-path="url(#clipc)">
<rect x="57" y="2352" width="737" height="730" fill="#f27f28"/>
<g filter="url(#bl30)">
<ellipse cx="257" cy="2602" rx="90" ry="130" fill="#ea6720" opacity="0.6"/>
<ellipse cx="697" cy="2532" rx="100" ry="160" fill="#f68e2c" opacity="0.5"/>
<ellipse cx="477" cy="2772" rx="60" ry="200" fill="#f38429" opacity="0.4"/>
<ellipse cx="617" cy="2852" rx="40" ry="120" fill="#ea6720" opacity="0.5"/>
<ellipse cx="157" cy="2952" rx="80" ry="120" fill="#f38429" opacity="0.4"/>
</g>
<path d="M45,2352 44,2370 42,2388 39,2407 43,2425 43,2443 45,2462 47,2480 44,2498 45,2516 45,2534 47,2553 52,2571 52,2589 55,2608 54,2626 51,2644 52,2662 51,2680 53,2699 54,2717 51,2735 51,2754 47,2772 45,2790 46,2808 45,2826 49,2845 49,2863 47,2881 49,2900 46,2918 50,2936 53,2954 54,2972 58,2991 56,3009 56,3027 56,3046 54,3064 58,3082M64,2352 66,2370 67,2388 71,2407 69,2425 68,2443 69,2462 66,2480 69,2498 69,2516 68,2534 69,2553 65,2571 65,2589 64,2608 63,2626 67,2644 65,2662 67,2680 67,2699 64,2717 68,2735 67,2754 70,2772 73,2790 71,2808 73,2826 72,2845 71,2863 73,2881 72,2900 74,2918 73,2936 70,2954 71,2972 68,2991 69,3009 70,3027 69,3046 71,3064 69,3082M88,2352 86,2370 90,2388 88,2407 87,2425 86,2443 82,2462 84,2480 85,2498 88,2516 92,2534 90,2553 91,2571 90,2589 90,2608 94,2626 95,2644 97,2662 98,2680 94,2699 94,2717 91,2735 92,2754 95,2772 93,2790 94,2808 90,2826 87,2845 88,2863 87,2881 91,2900 93,2918 93,2936 94,2954 92,2972 93,2991 96,3009 97,3027 102,3046 101,3064 100,3082M99,2352 102,2370 102,2388 104,2407 103,2425 100,2443 102,2462 101,2480 106,2498 110,2516 109,2534 112,2553 109,2571 108,2589 110,2608 109,2626 113,2644 113,2662 110,2680 109,2699 104,2717 105,2735 105,2754 105,2772 109,2790 106,2808 105,2826 105,2845 103,2863 108,2881 110,2900 112,2918 115,2936 112,2954 113,2972 112,2991 113,3009 117,3027 116,3046 117,3064 115,3082M127,2352 127,2370 130,2388 133,2407 131,2425 133,2443 130,2462 128,2480 130,2498 128,2516 130,2534 128,2553 125,2571 126,2589 122,2608 123,2626 125,2644 125,2662 129,2680 127,2699 128,2717 129,2735 129,2754 133,2772 135,2790 135,2808 137,2826 134,2845 134,2863 134,2881 133,2900 136,2918 133,2936 132,2954 131,2972 127,2991 129,3009 128,3027 129,3046 132,3064 130,3082M139,2352 139,2370 140,2388 141,2407 147,2425 149,2443 150,2462 151,2480 147,2498 148,2516 148,2534 148,2553 152,2571 149,2589 147,2608 144,2626 140,2644 142,2662 142,2680 144,2699 146,2717 142,2735 143,2754 141,2772 143,2790 148,2808 149,2826 153,2845 153,2863 151,2881 152,2900 150,2918 153,2936 156,2954 154,2972 155,2991 150,3009 147,3027 147,3046 145,3064 149,3082M163,2352 165,2370 164,2388 165,2407 170,2425 170,2443 174,2462 173,2480 171,2498 172,2516 168,2534 170,2553 171,2571 168,2589 169,2608 165,2626 163,2644 163,2662 161,2680 165,2699 166,2717 166,2735 168,2754 165,2772 168,2790 170,2808 172,2826 177,2845 176,2863 176,2881 176,2900 173,2918 176,2936 175,2954 175,2972 175,2991 171,3009 170,3027 167,3046 166,3064 169,3082M184,2352 187,2370 187,2388 185,2407 188,2425 186,2443 188,2462 191,2480 190,2498 192,2516 190,2534 188,2553 189,2571 187,2589 190,2608 190,2626 188,2644 189,2662 185,2680 186,2699 187,2717 187,2735 190,2754 189,2772 189,2790 191,2808 189,2826 192,2845 193,2863 194,2881 197,2900 193,2918 194,2936 193,2954 192,2972 195,2991 193,3009 194,3027 193,3046 189,3064 191,3082M207,2352 203,2370 205,2388 206,2407 205,2425 207,2443 203,2462 203,2480 203,2498 202,2516 207,2534 207,2553 209,2571 210,2589 207,2608 209,2626 210,2644 211,2662 215,2680 213,2699 214,2717 211,2735 208,2754 210,2772 209,2790 211,2808 211,2826 208,2845 208,2863 205,2881 206,2900 209,2918 209,2936 213,2954 212,2972 211,2991 212,3009 211,3027 215,3046 217,3064 217,3082M225,2352 223,2370 222,2388 225,2407 224,2425 225,2443 223,2462 218,2480 219,2498 218,2516 220,2534 224,2553 224,2571 226,2589 224,2608 223,2626 226,2644 227,2662 232,2680 234,2699 231,2717 232,2735 228,2754 227,2772 230,2790 229,2808 231,2826 228,2845 225,2863 224,2881 220,2900 224,2918 226,2936 227,2954 229,2972 226,2991 226,3009 228,3027 228,3046 235,3064 235,3082M238,2352 244,2370 246,2388 248,2407 250,2425 247,2443 249,2462 249,2480 250,2498 253,2516 251,2534 250,2553 247,2571 243,2589 244,2608 242,2626 243,2644 245,2662 241,2680 242,2699 240,2717 240,2735 245,2754 246,2772 251,2790 252,2808 251,2826 252,2845 251,2863 254,2881 257,2900 256,2918 258,2936 253,2954 250,2972 249,2991 247,3009 250,3027 248,3046 247,3064 247,3082M256,2352 259,2370 263,2388 262,2407 264,2425 263,2443 264,2462 268,2480 268,2498 271,2516 270,2534 267,2553 266,2571 263,2589 264,2608 265,2626 263,2644 263,2662 259,2680 257,2699 258,2717 257,2735 262,2754 264,2772 264,2790 266,2808 264,2826 267,2845 269,2863 270,2881 275,2900 274,2918 273,2936 272,2954 268,2972 270,2991 269,3009 269,3027 270,3046 265,3064 264,3082M285,2352 287,2370 289,2388 287,2407 289,2425 285,2443 283,2462 283,2480 281,2498 284,2516 283,2534 281,2553 282,2571 279,2589 281,2608 283,2626 284,2644 288,2662 287,2680 288,2699 289,2717 287,2735 291,2754 292,2772 293,2790 294,2808 290,2826 290,2845 288,2863 287,2881 289,2900 287,2918 288,2936 286,2954 283,2972 285,2991 284,3009 287,3027 290,3046 289,3064 292,3082M298,2352 300,2370 303,2388 301,2407 301,2425 300,2443 300,2462 304,2480 304,2498 307,2516 306,2534 302,2553 303,2571 300,2589 302,2608 305,2626 303,2644 305,2662 301,2680 299,2699 300,2717 299,2735 304,2754 305,2772 304,2790 305,2808 302,2826 304,2845 306,2863 307,2881 311,2900 309,2918 308,2936 307,2954 304,2972 307,2991 308,3009 309,3027 310,3046 305,3064 305,3082M328,2352 326,2370 327,2388 323,2407 324,2425 326,2443 325,2462 327,2480 323,2498 320,2516 319,2534 316,2553 319,2571 320,2589 320,2608 322,2626 318,2644 319,2662 321,2680 323,2699 329,2717 329,2735 331,2754 330,2772 327,2790 329,2808 329,2826 331,2845 333,2863 329,2881 328,2900 324,2918 321,2936 324,2954 323,2972 326,2991 325,3009 322,3027 323,3046 321,3064 325,3082M335,2352 338,2370 335,2388 335,2407 335,2425 333,2443 337,2462 338,2480 341,2498 344,2516 342,2534 344,2553 344,2571 344,2589 348,2608 347,2626 348,2644 347,2662 343,2680 344,2699 341,2717 341,2735 343,2754 340,2772 341,2790 338,2808 337,2826 339,2845 339,2863 344,2881 345,2900 345,2918 347,2936 345,2954 348,2972 350,2991 350,3009 354,3027 351,3046 350,3064 349,3082M361,2352 363,2370 362,2388 367,2407 369,2425 369,2443 372,2462 368,2480 368,2498 367,2516 365,2534 367,2553 365,2571 364,2589 362,2608 358,2626 359,2644 358,2662 359,2680 363,2699 362,2717 364,2735 364,2754 364,2772 368,2790 369,2808 373,2826 375,2845 373,2863 374,2881 371,2900 371,2918 372,2936 370,2954 371,2972 368,2991 365,3009 364,3027 361,3046 364,3064 365,3082M376,2352 379,2370 377,2388 377,2407 377,2425 374,2443 377,2462 378,2480 380,2498 383,2516 381,2534 382,2553 381,2571 381,2589 385,2608 384,2626 386,2644 385,2662 382,2680 382,2699 380,2717 381,2735 384,2754 381,2772 382,2790 380,2808 378,2826 380,2845 380,2863 384,2881 385,2900 384,2918 386,2936 383,2954 385,2972 387,2991 387,3009 391,3027 389,3046 387,3064 387,3082M405,2352 406,2370 409,2388 405,2407 405,2425 404,2443 402,2462 404,2480 402,2498 401,2516 400,2534 396,2553 397,2571 396,2589 397,2608 401,2626 400,2644 402,2662 402,2680 401,2699 405,2717 406,2735 410,2754 412,2772 410,2790 411,2808 408,2826 408,2845 409,2863 407,2881 409,2900 406,2918 402,2936 402,2954 399,2972 401,2991 403,3009 402,3027 405,3046 403,3064 404,3082M419,2352 420,2370 420,2388 420,2407 424,2425 425,2443 428,2462 429,2480 425,2498 426,2516 424,2534 424,2553 427,2571 425,2589 426,2608 423,2626 420,2644 420,2662 419,2680 422,2699 423,2717 422,2735 424,2754 421,2772 423,2790 425,2808 426,2826 431,2845 431,2863 430,2881 431,2900 427,2918 430,2936 430,2954 430,2972 432,2991 428,3009 427,3027 425,3046 423,3064 426,3082M435,2352 435,2370 433,2388 435,2407 439,2425 438,2443 440,2462 438,2480 436,2498 440,2516 441,2534 446,2553 448,2571 447,2589 447,2608 443,2626 444,2644 446,2662 446,2680 449,2699 445,2717 442,2735 440,2754 437,2772 440,2790 441,2808 442,2826 444,2845 440,2863 440,2881 441,2900 442,2918 448,2936 449,2954 451,2972 451,2991 447,3009 449,3027 449,3046 451,3064 454,3082M460,2352 457,2370 459,2388 460,2407 458,2425 459,2443 455,2462 456,2480 457,2498 456,2516 461,2534 460,2553 461,2571 462,2589 459,2608 463,2626 463,2644 465,2662 468,2680 465,2699 465,2717 464,2735 462,2754 464,2772 463,2790 464,2808 464,2826 460,2845 461,2863 459,2881 460,2900 463,2918 462,2936 465,2954 464,2972 463,2991 466,3009 465,3027 469,3046 470,3064 469,3082M479,2352 477,2370 479,2388 477,2407 481,2425 481,2443 480,2462 481,2480 477,2498 480,2516 481,2534 482,2553 486,2571 484,2589 484,2608 484,2626 482,2644 486,2662 486,2680 486,2699 487,2717 483,2735 484,2754 482,2772 482,2790 485,2808 484,2826 485,2845 484,2863 481,2881 483,2900 483,2918 486,2936 489,2954 487,2972 489,2991 487,3009 486,3027 489,3046 488,3064 492,3082M498,2352 499,2370 500,2388 504,2407 503,2425 505,2443 505,2462 501,2480 503,2498 501,2516 501,2534 502,2553 499,2571 499,2589 497,2608 495,2626 497,2644 496,2662 499,2680 500,2699 499,2717 502,2735 500,2754 503,2772 506,2790 506,2808 509,2826 508,2845 507,2863 508,2881 505,2900 507,2918 506,2936 505,2954 505,2972 501,2991 501,3009 500,3027 499,3046 503,3064 502,3082M517,2352 514,2370 518,2388 517,2407 518,2425 518,2443 514,2462 515,2480 514,2498 515,2516 520,2534 520,2553 522,2571 522,2589 519,2608 522,2626 522,2644 525,2662 528,2680 525,2699 526,2717 522,2735 520,2754 522,2772 521,2790 524,2808 522,2826 519,2845 519,2863 516,2881 519,2900 522,2918 523,2936 526,2954 524,2972 523,2991 524,3009 524,3027 529,3046 530,3064 530,3082M540,2352 543,2370 543,2388 544,2407 540,2425 541,2443 543,2462 543,2480 546,2498 544,2516 541,2534 539,2553 534,2571 536,2589 537,2608 538,2626 540,2644 536,2662 536,2680 535,2699 536,2717 542,2735 544,2754 546,2772 547,2790 544,2808 545,2826 545,2845 547,2863 551,2881 549,2900 549,2918 544,2936 541,2954 542,2972 541,2991 543,3009 544,3027 541,3046 541,3064 537,3082M557,2352 553,2370 555,2388 554,2407 555,2425 556,2443 553,2462 554,2480 553,2498 552,2516 557,2534 557,2553 560,2571 560,2589 558,2608 560,2626 559,2644 561,2662 564,2680 563,2699 564,2717 561,2735 559,2754 560,2772 558,2790 560,2808 560,2826 558,2845 559,2863 555,2881 556,2900 559,2918 559,2936 563,2954 562,2972 562,2991 563,3009 561,3027 565,3046 566,3064 567,3082M578,2352 576,2370 575,2388 577,2407 576,2425 577,2443 575,2462 572,2480 573,2498 572,2516 574,2534 577,2553 576,2571 579,2589 577,2608 577,2626 580,2644 579,2662 584,2680 584,2699 582,2717 583,2735 579,2754 580,2772 581,2790 580,2808 583,2826 579,2845 578,2863 577,2881 575,2900 578,2918 579,2936 580,2954 582,2972 579,2991 581,3009 581,3027 582,3046 587,3064 586,3082M598,2352 598,2370 598,2388 603,2407 603,2425 605,2443 604,2462 601,2480 601,2498 599,2516 599,2534 600,2553 598,2571 598,2589 595,2608 593,2626 595,2644 594,2662 597,2680 599,2699 598,2717 601,2735 599,2754 601,2772 604,2790 605,2808 609,2826 607,2845 607,2863 607,2881 603,2900 605,2918 605,2936 604,2954 604,2972 600,2991 599,3009 598,3027 597,3046 601,3064 600,3082M614,2352 612,2370 614,2388 612,2407 613,2425 616,2443 616,2462 620,2480 619,2498 618,2516 619,2534 616,2553 619,2571 620,2589 619,2608 620,2626 616,2644 615,2662 615,2680 613,2699 617,2717 617,2735 617,2754 618,2772 614,2790 616,2808 617,2826 619,2845 623,2863 622,2881 623,2900 622,2918 620,2936 623,2954 622,2972 624,2991 625,3009 621,3027 622,3046 618,3064 618,3082M641,2352 638,2370 638,2388 637,2407 637,2425 641,2443 641,2462 641,2480 640,2498 635,2516 635,2534 633,2553 635,2571 638,2589 636,2608 637,2626 634,2644 633,2662 636,2680 637,2699 642,2717 643,2735 642,2754 643,2772 640,2790 641,2808 644,2826 644,2845 647,2863 644,2881 642,2900 641,2918 637,2936 641,2954 641,2972 641,2991 642,3009 638,3027 638,3046 638,3064 639,3082M653,2352 654,2370 655,2388 652,2407 654,2425 655,2443 657,2462 662,2480 660,2498 661,2516 659,2534 656,2553 658,2571 657,2589 659,2608 660,2626 656,2644 656,2662 652,2680 652,2699 655,2717 655,2735 659,2754 658,2772 656,2790 657,2808 656,2826 660,2845 663,2863 663,2881 666,2900 662,2918 661,2936 662,2954 661,2972 665,2991 664,3009 662,3027 661,3046 657,3064 658,3082M680,2352 676,2370 676,2388 673,2407 672,2425 675,2443 674,2462 677,2480 677,2498 674,2516 676,2534 674,2553 677,2571 680,2589 680,2608 683,2626 681,2644 680,2662 681,2680 679,2699 683,2717 683,2735 682,2754 682,2772 678,2790 678,2808 678,2826 678,2845 681,2863 680,2881 680,2900 679,2918 677,2936 680,2954 681,2972 683,2991 686,3009 684,3027 685,3046 683,3064 683,3082M689,2352 689,2370 694,2388 693,2407 694,2425 695,2443 692,2462 695,2480 696,2498 697,2516 700,2534 697,2553 697,2571 696,2589 694,2608 697,2626 695,2644 696,2662 696,2680 693,2699 694,2717 692,2735 693,2754 696,2772 695,2790 698,2808 697,2826 696,2845 698,2863 697,2881 701,2900 703,2918 701,2936 703,2954 699,2972 700,2991 700,3009 699,3027 702,3046 700,3064 698,3082M710,2352 712,2370 711,2388 714,2407 713,2425 712,2443 714,2462 713,2480 716,2498 718,2516 718,2534 721,2553 719,2571 719,2589 720,2608 719,2626 722,2644 721,2662 720,2680 720,2699 716,2717 716,2735 716,2754 715,2772 718,2790 716,2808 717,2826 717,2845 715,2863 719,2881 719,2900 721,2918 724,2936 722,2954 724,2972 723,2991 723,3009 726,3027 724,3046 726,3064 724,3082M732,2352 729,2370 731,2388 729,2407 730,2425 734,2443 734,2462 738,2480 738,2498 736,2516 737,2534 735,2553 737,2571 739,2589 737,2608 738,2626 734,2644 733,2662 733,2680 731,2699 735,2717 734,2735 734,2754 734,2772 731,2790 734,2808 735,2826 737,2845 741,2863 740,2881 741,2900 740,2918 738,2936 742,2954 741,2972 743,2991 743,3009 739,3027 739,3046 737,3064 736,3082M754,2352 753,2370 754,2388 754,2407 750,2425 752,2443 750,2462 750,2480 753,2498 751,2516 754,2534 753,2553 752,2571 755,2589 754,2608 757,2626 758,2644 757,2662 760,2680 757,2699 757,2717 758,2735 757,2754 759,2772 758,2790 756,2808 757,2826 753,2845 755,2863 755,2881 755,2900 758,2918 755,2936 756,2954 757,2972 756,2991 760,3009 760,3027 762,3046 763,3064 760,3082M770,2352 775,2370 777,2388 775,2407 776,2425 774,2443 775,2462 779,2480 780,2498 783,2516 781,2534 777,2553 777,2571 773,2589 776,2608 778,2626 777,2644 778,2662 773,2680 771,2699 772,2717 772,2735 778,2754 778,2772 779,2790 779,2808 776,2826 779,2845 780,2863 783,2881 787,2900 785,2918 784,2936 781,2954 779,2972 781,2991 781,3009 783,3027 783,3046 778,3064 778,3082M795,2352 798,2370 800,2388 799,2407 801,2425 796,2443 794,2462 792,2480 789,2498 793,2516 792,2534 792,2553 793,2571 789,2589 790,2608 791,2626 793,2644 799,2662 799,2680 801,2699 800,2717 798,2735 802,2754 802,2772 804,2790 806,2808 802,2826 801,2845 797,2863 796,2881 798,2900 796,2918 798,2936 796,2954 793,2972 794,2991 792,3009 796,3027 799,3046 800,3064 804,3082M814,2352 816,2370 812,2388 813,2407 813,2425 811,2443 814,2462 811,2480 811,2498 811,2516 808,2534 811,2553 811,2571 812,2589 815,2608 813,2626 814,2644 815,2662 814,2680 818,2699 818,2717 819,2735 820,2754 817,2772 818,2790 816,2808 817,2826 818,2845 816,2863 817,2881 814,2900 813,2918 815,2936 813,2954 816,2972 817,2991 816,3009 818,3027 816,3046 818,3064 820,3082" fill="none" stroke="#b02a06" stroke-width="5.0" opacity="0.48" stroke-linejoin="round" filter="url(#bl1)"/>
<path d="M55,2352 54,2370 52,2388 49,2407 52,2425 53,2443 55,2462 56,2480 53,2498 55,2516 55,2534 57,2553 62,2571 62,2589 65,2608 63,2626 61,2644 62,2662 60,2680 63,2699 64,2717 61,2735 61,2754 56,2772 55,2790 56,2808 55,2826 59,2845 59,2863 57,2881 58,2900 56,2918 59,2936 63,2954 64,2972 68,2991 66,3009 66,3027 66,3046 64,3064 68,3082M74,2352 76,2370 77,2388 80,2407 78,2425 78,2443 78,2462 76,2480 79,2498 78,2516 78,2534 79,2553 75,2571 75,2589 74,2608 73,2626 77,2644 75,2662 76,2680 76,2699 74,2717 77,2735 77,2754 80,2772 83,2790 81,2808 83,2826 81,2845 81,2863 83,2881 82,2900 84,2918 83,2936 80,2954 81,2972 77,2991 78,3009 80,3027 79,3046 81,3064 79,3082M97,2352 96,2370 100,2388 98,2407 97,2425 96,2443 92,2462 94,2480 95,2498 97,2516 101,2534 99,2553 101,2571 100,2589 99,2608 104,2626 105,2644 107,2662 108,2680 104,2699 104,2717 101,2735 102,2754 104,2772 102,2790 103,2808 100,2826 97,2845 98,2863 97,2881 101,2900 103,2918 102,2936 104,2954 101,2972 103,2991 106,3009 107,3027 111,3046 111,3064 109,3082M109,2352 112,2370 111,2388 114,2407 113,2425 110,2443 112,2462 111,2480 115,2498 119,2516 119,2534 122,2553 119,2571 118,2589 120,2608 119,2626 123,2644 122,2662 120,2680 119,2699 114,2717 114,2735 115,2754 115,2772 118,2790 116,2808 115,2826 114,2845 113,2863 118,2881 120,2900 122,2918 125,2936 121,2954 123,2972 122,2991 123,3009 127,3027 126,3046 127,3064 124,3082M137,2352 137,2370 140,2388 143,2407 141,2425 142,2443 140,2462 138,2480 140,2498 138,2516 139,2534 138,2553 135,2571 135,2589 132,2608 133,2626 135,2644 135,2662 139,2680 137,2699 137,2717 139,2735 138,2754 143,2772 145,2790 145,2808 147,2826 144,2845 144,2863 144,2881 143,2900 145,2918 143,2936 142,2954 141,2972 137,2991 138,3009 137,3027 139,3046 142,3064 139,3082M149,2352 149,2370 150,2388 150,2407 157,2425 159,2443 160,2462 161,2480 156,2498 157,2516 158,2534 158,2553 162,2571 159,2589 157,2608 154,2626 150,2644 152,2662 151,2680 154,2699 155,2717 152,2735 153,2754 151,2772 152,2790 158,2808 159,2826 163,2845 163,2863 160,2881 162,2900 160,2918 163,2936 166,2954 164,2972 165,2991 159,3009 157,3027 157,3046 155,3064 159,3082M173,2352 175,2370 174,2388 175,2407 180,2425 180,2443 184,2462 183,2480 181,2498 181,2516 178,2534 180,2553 180,2571 178,2589 179,2608 175,2626 173,2644 173,2662 171,2680 175,2699 176,2717 176,2735 178,2754 175,2772 178,2790 180,2808 182,2826 187,2845 186,2863 186,2881 185,2900 183,2918 185,2936 184,2954 185,2972 185,2991 180,3009 180,3027 177,3046 176,3064 179,3082M194,2352 196,2370 197,2388 195,2407 197,2425 196,2443 198,2462 201,2480 200,2498 202,2516 200,2534 198,2553 199,2571 197,2589 199,2608 199,2626 197,2644 198,2662 195,2680 195,2699 197,2717 196,2735 200,2754 199,2772 199,2790 200,2808 198,2826 202,2845 203,2863 204,2881 206,2900 203,2918 204,2936 203,2954 201,2972 205,2991 203,3009 203,3027 203,3046 199,3064 201,3082M216,2352 213,2370 215,2388 215,2407 215,2425 217,2443 213,2462 212,2480 212,2498 212,2516 217,2534 217,2553 219,2571 220,2589 217,2608 219,2626 219,2644 221,2662 225,2680 223,2699 223,2717 221,2735 218,2754 220,2772 219,2790 221,2808 221,2826 218,2845 218,2863 215,2881 216,2900 219,2918 219,2936 223,2954 222,2972 220,2991 222,3009 221,3027 225,3046 227,3064 227,3082M235,2352 233,2370 231,2388 235,2407 234,2425 234,2443 233,2462 228,2480 228,2498 227,2516 230,2534 234,2553 234,2571 236,2589 234,2608 232,2626 236,2644 237,2662 242,2680 244,2699 241,2717 241,2735 237,2754 237,2772 239,2790 239,2808 241,2826 238,2845 235,2863 234,2881 230,2900 234,2918 236,2936 237,2954 239,2972 236,2991 236,3009 237,3027 238,3046 244,3064 245,3082M248,2352 254,2370 256,2388 258,2407 260,2425 257,2443 259,2462 259,2480 260,2498 263,2516 261,2534 260,2553 257,2571 252,2589 253,2608 251,2626 253,2644 254,2662 251,2680 252,2699 249,2717 250,2735 255,2754 256,2772 261,2790 261,2808 260,2826 262,2845 261,2863 264,2881 266,2900 266,2918 267,2936 263,2954 260,2972 259,2991 256,3009 259,3027 258,3046 257,3064 257,3082M266,2352 269,2370 273,2388 271,2407 274,2425 273,2443 273,2462 278,2480 278,2498 281,2516 280,2534 276,2553 276,2571 273,2589 273,2608 274,2626 272,2644 273,2662 269,2680 267,2699 268,2717 267,2735 272,2754 273,2772 274,2790 276,2808 274,2826 276,2845 279,2863 280,2881 285,2900 283,2918 283,2936 282,2954 278,2972 280,2991 279,3009 279,3027 279,3046 274,3064 274,3082M295,2352 297,2370 299,2388 297,2407 299,2425 295,2443 293,2462 293,2480 291,2498 294,2516 293,2534 291,2553 292,2571 289,2589 291,2608 292,2626 293,2644 298,2662 297,2680 298,2699 299,2717 297,2735 301,2754 301,2772 303,2790 304,2808 300,2826 300,2845 297,2863 296,2881 299,2900 296,2918 297,2936 296,2954 293,2972 295,2991 294,3009 297,3027 300,3046 299,3064 302,3082M307,2352 310,2370 313,2388 310,2407 311,2425 309,2443 309,2462 314,2480 314,2498 317,2516 316,2534 312,2553 313,2571 310,2589 312,2608 315,2626 313,2644 314,2662 311,2680 308,2699 310,2717 309,2735 314,2754 315,2772 314,2790 315,2808 312,2826 313,2845 316,2863 317,2881 321,2900 319,2918 318,2936 317,2954 314,2972 317,2991 317,3009 318,3027 320,3046 315,3064 315,3082M338,2352 336,2370 336,2388 333,2407 334,2425 336,2443 335,2462 337,2480 333,2498 329,2516 328,2534 325,2553 329,2571 330,2589 330,2608 332,2626 328,2644 329,2662 331,2680 332,2699 339,2717 339,2735 340,2754 340,2772 337,2790 339,2808 339,2826 341,2845 343,2863 339,2881 337,2900 333,2918 331,2936 333,2954 333,2972 335,2991 335,3009 332,3027 333,3046 331,3064 334,3082M345,2352 348,2370 345,2388 345,2407 345,2425 343,2443 347,2462 348,2480 351,2498 354,2516 352,2534 354,2553 353,2571 354,2589 358,2608 357,2626 358,2644 357,2662 353,2680 353,2699 350,2717 351,2735 352,2754 350,2772 351,2790 348,2808 347,2826 349,2845 349,2863 353,2881 355,2900 355,2918 357,2936 355,2954 358,2972 360,2991 360,3009 364,3027 361,3046 360,3064 359,3082M371,2352 373,2370 372,2388 376,2407 378,2425 379,2443 382,2462 378,2480 378,2498 377,2516 374,2534 377,2553 374,2571 373,2589 372,2608 368,2626 369,2644 368,2662 369,2680 373,2699 371,2717 374,2735 374,2754 374,2772 378,2790 379,2808 383,2826 384,2845 382,2863 384,2881 381,2900 381,2918 382,2936 380,2954 381,2972 377,2991 374,3009 374,3027 371,3046 374,3064 375,3082M386,2352 389,2370 387,2388 386,2407 386,2425 384,2443 387,2462 388,2480 390,2498 393,2516 390,2534 392,2553 391,2571 391,2589 395,2608 394,2626 396,2644 395,2662 391,2680 392,2699 390,2717 391,2735 393,2754 391,2772 392,2790 390,2808 388,2826 390,2845 390,2863 393,2881 395,2900 394,2918 396,2936 393,2954 395,2972 397,2991 397,3009 401,3027 399,3046 397,3064 397,3082M415,2352 416,2370 419,2388 415,2407 415,2425 414,2443 411,2462 414,2480 412,2498 411,2516 410,2534 406,2553 406,2571 406,2589 407,2608 410,2626 409,2644 412,2662 412,2680 411,2699 415,2717 416,2735 419,2754 422,2772 419,2790 421,2808 418,2826 417,2845 419,2863 417,2881 418,2900 415,2918 412,2936 412,2954 409,2972 411,2991 412,3009 412,3027 415,3046 413,3064 414,3082M429,2352 430,2370 430,2388 429,2407 434,2425 435,2443 438,2462 438,2480 435,2498 436,2516 434,2534 434,2553 437,2571 435,2589 436,2608 432,2626 429,2644 430,2662 428,2680 432,2699 433,2717 432,2735 434,2754 431,2772 433,2790 435,2808 436,2826 441,2845 441,2863 440,2881 440,2900 437,2918 440,2936 440,2954 440,2972 442,2991 437,3009 436,3027 434,3046 433,3064 436,3082M445,2352 445,2370 443,2388 445,2407 449,2425 448,2443 450,2462 447,2480 446,2498 450,2516 451,2534 456,2553 458,2571 457,2589 457,2608 453,2626 454,2644 456,2662 456,2680 458,2699 455,2717 452,2735 450,2754 446,2772 449,2790 451,2808 452,2826 454,2845 450,2863 450,2881 451,2900 452,2918 458,2936 459,2954 461,2972 461,2991 457,3009 459,3027 459,3046 460,3064 464,3082M469,2352 467,2370 469,2388 469,2407 468,2425 469,2443 465,2462 465,2480 466,2498 466,2516 470,2534 470,2553 470,2571 472,2589 469,2608 472,2626 473,2644 474,2662 478,2680 475,2699 475,2717 473,2735 471,2754 474,2772 473,2790 474,2808 474,2826 470,2845 471,2863 469,2881 470,2900 473,2918 472,2936 475,2954 474,2972 473,2991 475,3009 475,3027 478,3046 480,3064 479,3082M489,2352 487,2370 488,2388 487,2407 491,2425 491,2443 489,2462 490,2480 487,2498 489,2516 491,2534 492,2553 496,2571 494,2589 494,2608 494,2626 492,2644 495,2662 495,2680 496,2699 497,2717 493,2735 493,2754 492,2772 491,2790 495,2808 493,2826 495,2845 494,2863 491,2881 493,2900 493,2918 495,2936 498,2954 497,2972 499,2991 496,3009 496,3027 499,3046 498,3064 501,3082M508,2352 509,2370 509,2388 514,2407 513,2425 514,2443 515,2462 511,2480 513,2498 511,2516 510,2534 512,2553 508,2571 509,2589 506,2608 505,2626 507,2644 505,2662 508,2680 510,2699 509,2717 511,2735 510,2754 512,2772 515,2790 515,2808 519,2826 518,2845 517,2863 518,2881 515,2900 517,2918 516,2936 514,2954 515,2972 511,2991 511,3009 510,3027 509,3046 512,3064 511,3082M527,2352 524,2370 527,2388 527,2407 528,2425 528,2443 524,2462 524,2480 524,2498 525,2516 530,2534 530,2553 532,2571 531,2589 529,2608 532,2626 532,2644 535,2662 538,2680 535,2699 535,2717 531,2735 530,2754 532,2772 531,2790 534,2808 532,2826 529,2845 529,2863 526,2881 529,2900 532,2918 532,2936 536,2954 533,2972 533,2991 534,3009 534,3027 539,3046 540,3064 540,3082M550,2352 553,2370 553,2388 554,2407 550,2425 551,2443 553,2462 553,2480 556,2498 554,2516 551,2534 549,2553 544,2571 546,2589 547,2608 548,2626 550,2644 546,2662 546,2680 545,2699 546,2717 552,2735 553,2754 556,2772 557,2790 553,2808 555,2826 555,2845 557,2863 561,2881 559,2900 558,2918 554,2936 550,2954 552,2972 550,2991 553,3009 554,3027 551,3046 551,3064 547,3082M566,2352 563,2370 565,2388 564,2407 564,2425 566,2443 563,2462 563,2480 562,2498 562,2516 567,2534 567,2553 569,2571 570,2589 568,2608 570,2626 569,2644 571,2662 574,2680 572,2699 574,2717 571,2735 568,2754 570,2772 568,2790 570,2808 570,2826 568,2845 568,2863 565,2881 566,2900 568,2918 569,2936 573,2954 572,2972 572,2991 573,3009 571,3027 575,3046 576,3064 577,3082M587,2352 585,2370 584,2388 587,2407 585,2425 586,2443 585,2462 582,2480 583,2498 582,2516 584,2534 587,2553 586,2571 589,2589 587,2608 587,2626 589,2644 589,2662 593,2680 594,2699 592,2717 593,2735 589,2754 590,2772 591,2790 590,2808 592,2826 589,2845 588,2863 587,2881 585,2900 588,2918 589,2936 590,2954 592,2972 589,2991 591,3009 591,3027 592,3046 596,3064 596,3082M607,2352 608,2370 608,2388 613,2407 612,2425 614,2443 614,2462 610,2480 611,2498 609,2516 609,2534 610,2553 607,2571 608,2589 605,2608 603,2626 604,2644 603,2662 607,2680 609,2699 608,2717 610,2735 609,2754 611,2772 614,2790 615,2808 619,2826 617,2845 616,2863 616,2881 613,2900 615,2918 615,2936 614,2954 614,2972 610,2991 609,3009 608,3027 607,3046 611,3064 610,3082M624,2352 622,2370 624,2388 621,2407 622,2425 626,2443 626,2462 630,2480 629,2498 628,2516 628,2534 626,2553 628,2571 629,2589 629,2608 630,2626 626,2644 625,2662 625,2680 623,2699 627,2717 626,2735 627,2754 627,2772 624,2790 626,2808 627,2826 629,2845 633,2863 632,2881 633,2900 632,2918 630,2936 633,2954 632,2972 634,2991 635,3009 631,3027 631,3046 628,3064 628,3082M651,2352 648,2370 648,2388 647,2407 647,2425 651,2443 650,2462 651,2480 650,2498 645,2516 645,2534 643,2553 645,2571 648,2589 646,2608 647,2626 644,2644 643,2662 646,2680 647,2699 652,2717 653,2735 652,2754 653,2772 649,2790 651,2808 654,2826 654,2845 657,2863 654,2881 651,2900 650,2918 647,2936 650,2954 651,2972 651,2991 652,3009 648,3027 648,3046 648,3064 649,3082M663,2352 664,2370 665,2388 662,2407 664,2425 665,2443 667,2462 671,2480 670,2498 671,2516 669,2534 666,2553 668,2571 667,2589 669,2608 670,2626 666,2644 665,2662 662,2680 662,2699 665,2717 665,2735 668,2754 667,2772 666,2790 667,2808 666,2826 670,2845 673,2863 673,2881 676,2900 672,2918 671,2936 672,2954 671,2972 675,2991 674,3009 672,3027 671,3046 666,3064 667,3082M689,2352 686,2370 686,2388 683,2407 682,2425 685,2443 684,2462 687,2480 687,2498 684,2516 686,2534 684,2553 686,2571 690,2589 690,2608 693,2626 690,2644 689,2662 690,2680 689,2699 693,2717 693,2735 692,2754 692,2772 687,2790 688,2808 688,2826 688,2845 691,2863 689,2881 689,2900 689,2918 686,2936 690,2954 691,2972 693,2991 696,3009 693,3027 694,3046 693,3064 693,3082M699,2352 699,2370 703,2388 703,2407 704,2425 704,2443 702,2462 705,2480 706,2498 707,2516 710,2534 707,2553 707,2571 705,2589 704,2608 706,2626 705,2644 706,2662 706,2680 702,2699 703,2717 701,2735 703,2754 706,2772 705,2790 708,2808 706,2826 706,2845 708,2863 707,2881 711,2900 712,2918 711,2936 713,2954 709,2972 709,2991 710,3009 709,3027 712,3046 710,3064 708,3082M720,2352 722,2370 721,2388 724,2407 723,2425 722,2443 724,2462 722,2480 726,2498 728,2516 728,2534 731,2553 729,2571 729,2589 730,2608 728,2626 731,2644 731,2662 729,2680 730,2699 725,2717 726,2735 726,2754 725,2772 728,2790 726,2808 726,2826 727,2845 725,2863 729,2881 729,2900 731,2918 734,2936 732,2954 734,2972 733,2991 733,3009 736,3027 734,3046 736,3064 734,3082M741,2352 739,2370 741,2388 739,2407 740,2425 744,2443 744,2462 748,2480 747,2498 745,2516 747,2534 745,2553 747,2571 748,2589 747,2608 748,2626 744,2644 742,2662 743,2680 741,2699 744,2717 744,2735 743,2754 744,2772 741,2790 744,2808 745,2826 747,2845 751,2863 749,2881 750,2900 750,2918 748,2936 752,2954 751,2972 753,2991 753,3009 749,3027 749,3046 746,3064 746,3082M764,2352 763,2370 763,2388 764,2407 760,2425 761,2443 759,2462 760,2480 762,2498 761,2516 764,2534 763,2553 762,2571 765,2589 763,2608 767,2626 768,2644 767,2662 770,2680 767,2699 767,2717 768,2735 767,2754 769,2772 767,2790 766,2808 766,2826 763,2845 765,2863 765,2881 765,2900 767,2918 765,2936 766,2954 767,2972 766,2991 770,3009 770,3027 771,3046 773,3064 770,3082M780,2352 785,2370 787,2388 785,2407 786,2425 784,2443 785,2462 789,2480 789,2498 793,2516 791,2534 787,2553 787,2571 783,2589 786,2608 787,2626 786,2644 787,2662 782,2680 781,2699 782,2717 782,2735 787,2754 788,2772 789,2790 789,2808 786,2826 789,2845 790,2863 793,2881 797,2900 794,2918 794,2936 791,2954 788,2972 791,2991 791,3009 793,3027 793,3046 788,3064 787,3082M805,2352 808,2370 809,2388 809,2407 811,2425 806,2443 804,2462 802,2480 799,2498 802,2516 802,2534 802,2553 802,2571 798,2589 800,2608 801,2626 803,2644 809,2662 809,2680 811,2699 810,2717 808,2735 812,2754 812,2772 814,2790 816,2808 812,2826 811,2845 807,2863 805,2881 807,2900 806,2918 808,2936 806,2954 803,2972 804,2991 802,3009 806,3027 809,3046 810,3064 814,3082M824,2352 825,2370 822,2388 822,2407 823,2425 821,2443 824,2462 821,2480 820,2498 821,2516 818,2534 821,2553 821,2571 822,2589 825,2608 822,2626 824,2644 824,2662 824,2680 828,2699 828,2717 829,2735 829,2754 826,2772 828,2790 826,2808 827,2826 828,2845 826,2863 827,2881 824,2900 823,2918 825,2936 823,2954 826,2972 827,2991 826,3009 828,3027 826,3046 828,3064 830,3082" fill="none" stroke="#ffc050" stroke-width="6.0" opacity="0.34" stroke-linejoin="round" filter="url(#bl1)"/>
<rect x="57" y="2352" width="737" height="730" filter="url(#grain)" opacity="0.5"/>
</g>
<rect x="58" y="2353" width="735" height="728" fill="none" stroke="#7a3a14" stroke-width="2.5" opacity="0.85"/>
<text x="109" y="2927" font-size="40" fill="#4a2420" textLength="246" lengthAdjust="spacingAndGlyphs">scan profile c</text>
<path d="M80,2942.5H371" stroke="#4c2272" stroke-width="4.2"/>
<path d="M629,3039H777M629,3029v20M777,3029v20" stroke="#4a0f0c" stroke-width="3.2" fill="none" opacity="0.9"/>
<text x="699" y="3021" font-size="21" text-anchor="middle" fill="#4a0f0c" font-family='"DejaVu Sans Mono","Liberation Mono",monospace' opacity="0.85" xml:space="preserve">1  µm</text>
<linearGradient id="cb2353" x1="0" y1="0" x2="0" y2="1"><stop offset="0.000" stop-color="#ffffff"/><stop offset="0.050" stop-color="#ffffff"/><stop offset="0.110" stop-color="#fdf3df"/><stop offset="0.185" stop-color="#fce2ae"/><stop offset="0.260" stop-color="#f9c566"/><stop offset="0.333" stop-color="#f6a844"/><stop offset="0.407" stop-color="#f3943a"/><stop offset="0.480" stop-color="#ee7e30"/><stop offset="0.556" stop-color="#e5642a"/><stop offset="0.630" stop-color="#d4431c"/><stop offset="0.704" stop-color="#ae2e14"/><stop offset="0.778" stop-color="#82200f"/><stop offset="0.852" stop-color="#57150b"/><stop offset="0.926" stop-color="#2c0a06"/><stop offset="1.000" stop-color="#000000"/></linearGradient>
<rect x="801" y="2353" width="23" height="729.5" fill="url(#cb2353)"/>
<rect x="795" y="2353" width="6" height="729.5" fill="#b9aca2"/>
<rect x="824" y="2353" width="6" height="729.5" fill="#a9a7a6"/>
<rect x="798" y="2351" width="41" height="6" fill="#999a9b"/>
<path d="M829,3082.5h10M829,3002.6h10M829,2922.7h10M829,2842.8h10M829,2762.9h10M829,2683.0h10M829,2603.1h10M829,2523.2h10M829,2443.3h10" stroke="#8c8c8c" stroke-width="4.5" fill="none"/>
<text x="843.6" y="3097.1" font-size="52" text-anchor="start" fill="#141414"  stroke="#fff" stroke-width="0.45">0.0</text>
<text x="850.4" y="2947.7" font-size="52" text-anchor="start" fill="#141414"  stroke="#fff" stroke-width="0.45">0.4</text>
<text x="850.4" y="2783.0" font-size="52" text-anchor="start" fill="#141414"  stroke="#fff" stroke-width="0.45">0.8</text>
<text x="850.4" y="2622.5" font-size="52" text-anchor="start" fill="#141414"  stroke="#fff" stroke-width="0.45">1.2</text>
<text x="846.0" y="2465.7" font-size="52" text-anchor="start" fill="#141414"  stroke="#fff" stroke-width="0.45">1.6</text>
<text x="847.3" y="2369.0" font-size="52" text-anchor="start" fill="#141414" textLength="192" lengthAdjust="spacing" stroke="#fff" stroke-width="0.45">1.82 nm</text>
<text transform="translate(963.8,2736.5) rotate(-90)" font-size="50" text-anchor="middle" fill="#262626" y="18">Height, nm</text>
<rect x="1131" y="2349" width="1001" height="733" fill="#fff" stroke="#141414" stroke-width="5"/>
<path d="M1381.2,3082v-19M1631.5,3082v-19M1881.8,3082v-19M1256.1,3082v-11M1506.4,3082v-11M1756.6,3082v-11M2006.9,3082v-11M1131,2995.8h19M1131,2909.5h19M1131,2823.3h19M1131,2737.1h19M1131,2650.8h19M1131,2564.6h19M1131,2478.4h19M1131,2392.1h19M1131,3038.9h11M1131,2952.6h11M1131,2866.4h11M1131,2780.2h11M1131,2693.9h11M1131,2607.7h11M1131,2521.5h11M1131,2435.2h11" stroke="#141414" stroke-width="4.2" fill="none"/>
<text x="1128.0" y="3159.0" font-size="52" text-anchor="middle" fill="#141414"  stroke="#fff" stroke-width="0.45">0.0</text>
<text x="1385.2" y="3156.0" font-size="52" text-anchor="middle" fill="#141414"  stroke="#fff" stroke-width="0.45">0.5</text>
<text x="1628.5" y="3156.0" font-size="52" text-anchor="middle" fill="#141414"  stroke="#fff" stroke-width="0.45">1.0</text>
<text x="1875.8" y="3162.0" font-size="52" text-anchor="middle" fill="#141414"  stroke="#fff" stroke-width="0.45">1.5</text>
<text x="2128.0" y="3155.0" font-size="52" text-anchor="middle" fill="#141414"  stroke="#fff" stroke-width="0.45">2.0</text>
<text x="1110.7" y="3100.6" font-size="52" text-anchor="end" fill="#141414"  stroke="#fff" stroke-width="0.45">0.5</text>
<text x="1107.6" y="3020.4" font-size="52" text-anchor="end" fill="#141414"  stroke="#fff" stroke-width="0.45">0.6</text>
<text x="1110.7" y="2930.1" font-size="52" text-anchor="end" fill="#141414"  stroke="#fff" stroke-width="0.45">0.7</text>
<text x="1113.0" y="2841.9" font-size="52" text-anchor="end" fill="#141414"  stroke="#fff" stroke-width="0.45">0.8</text>
<text x="1112.0" y="2761.7" font-size="52" text-anchor="end" fill="#141414"  stroke="#fff" stroke-width="0.45">0.9</text>
<text x="1118.5" y="2670.7" font-size="52" text-anchor="end" fill="#141414"  stroke="#fff" stroke-width="0.45">1.0</text>
<text x="1115.0" y="2584.7" font-size="52" text-anchor="end" fill="#141414"  stroke="#fff" stroke-width="0.45">1.1</text>
<text x="1113.0" y="2502.0" font-size="52" text-anchor="end" fill="#141414"  stroke="#fff" stroke-width="0.45">1.2</text>
<text x="1119.0" y="2414.7" font-size="52" text-anchor="end" fill="#141414"  stroke="#fff" stroke-width="0.45">1.3</text>
<clipPath id="cp2349"><rect x="1131" y="2349" width="1001" height="733"/></clipPath>
<polyline clip-path="url(#cp2349)" points="1131.6,2734.6 1135.5,2692.7 1139.4,2713.6 1143.5,2662.8 1150.4,2698.7 1156.4,2667.3 1162.4,2736.1 1168.4,2579.1 1174.3,2558.2 1177.3,2576.1 1181.8,2612.0 1187.8,2579.1 1194.4,2594.1 1199.7,2562.7 1202.7,2588.1 1206.3,2635.9 1213.2,2668.8 1219.2,2706.2 1225.1,2631.4 1229.6,2683.8 1237.1,2803.3 1244.6,2918.4 1250.6,2758.5 1256.5,2547.7 1263.1,2571.7 1268.5,2650.9 1274.5,2661.3 1281.9,2635.9 1288.8,2625.5 1292.4,2683.8 1299.9,2724.1 1306.8,2722.6 1313.3,2770.4 1319.3,2668.8 1325.3,2504.4 1331.3,2419.2 1337.2,2489.5 1343.8,2562.7 1350.7,2544.8 1356.7,2540.3 1362.6,2588.1 1369.5,2635.9 1375.5,2603.0 1382.1,2674.8 1388.7,2665.8 1394.6,2731.6 1400.0,2749.5 1406.6,2809.3 1413.5,2794.3 1416.5,2698.7 1419.4,2534.3 1423.9,2579.1 1429.9,2606.0 1438.3,2670.3 1444.8,2589.6 1450.8,2604.5 1456.8,2740.5 1462.8,2766.0 1470.3,2768.9 1475.5,2746.5 1481.5,2549.2 1487.4,2513.4 1494.9,2449.1 1500.9,2550.7 1506.9,2471.5 1512.8,2564.2 1519.4,2671.8 1526.3,2644.9 1532.3,2688.2 1538.2,2697.2 1545.7,2752.5 1551.7,2594.1 1557.7,2471.5 1564.2,2489.5 1571.1,2588.1 1576.2,2635.9 1583.1,2607.5 1589.1,2622.5 1595.9,2627.0 1601.0,2727.1 1607.0,2691.2 1613.0,2737.6 1620.4,2734.6 1627.0,2798.8 1632.4,2638.9 1639.0,2493.9 1645.9,2531.3 1651.8,2555.2 1657.8,2632.9 1664.7,2610.5 1672.8,2671.8 1681.7,2731.6 1689.2,2695.7 1695.2,2730.1 1702.6,2736.1 1708.6,2773.4 1714.6,2766.0 1721.5,2794.3 1726.6,2907.9 1732.5,2970.7 1738.5,2922.9 1744.5,2788.4 1752.0,2703.2 1757.3,2745.0 1763.9,2748.0 1771.4,2736.1 1774.4,2609.0 1778.3,2505.9 1789.3,2510.4 1795.3,2594.1 1802.2,2610.5 1808.2,2677.8 1814.0,2692.7 1820.6,2727.1 1827.4,2728.6 1833.4,2764.5 1839.4,2803.3 1846.0,2712.1 1849.8,2788.4 1854.3,2854.1 1859.4,2912.4 1864.8,2875.1 1867.8,2937.8 1871.4,3018.5 1876.8,3039.5 1884.2,3052.9 1888.7,2973.7 1896.2,2937.8 1900.7,2848.2 1905.1,2758.5 1914.1,2668.8 1920.1,2579.1 1927.6,2507.4 1933.5,2549.2 1939.5,2656.8 1947.0,2692.7 1954.5,2743.5 1959.0,2797.3 1964.9,2695.7 1971.8,2703.2 1976.9,2815.3 1983.8,2788.4 1989.7,2807.8 1996.3,2803.3 1999.3,2728.6 2002.9,2606.0 2008.9,2579.1 2015.7,2689.7 2021.7,2668.8 2027.7,2760.0 2033.7,2743.5 2040.6,2800.3 2047.1,2764.5 2051.6,2561.2 2059.7,2546.2 2065.1,2612.0 2072.5,2594.1 2078.5,2647.9 2086.0,2721.1 2090.5,2727.1 2096.5,2815.3 2103.9,2834.7 2109.3,2740.5 2115.9,2861.6 2121.9,2770.4" fill="none" stroke="#0c0c0c" stroke-width="5" stroke-linejoin="round" stroke-linecap="round"/>
<text x="1557.0" y="2418.3" font-size="40" text-anchor="start" fill="#3c3c3c" textLength="146.6" lengthAdjust="spacingAndGlyphs">profile c</text>
<text x="1611.5" y="3220.0" font-size="50" text-anchor="middle" fill="#262626" >Distance, µm</text>
<text x="1026.0" y="3267.0" font-size="86" text-anchor="middle" fill="#1c1c1c" >(c)</text>
<clipPath id="clipd"><rect x="67" y="3507" width="727" height="719"/></clipPath>
<g clip-path="url(#clipd)">
<rect x="67" y="3507" width="727" height="719" fill="#ef7424"/>
<filter id="tgd" x="-5%" y="-5%" width="110%" height="110%"><feGaussianBlur stdDeviation="22.0"/></filter>
<g filter="url(#tgd)">
<rect x="-33" y="3407" width="132" height="131" fill="#df4d19"/>
<rect x="97" y="3407" width="62" height="131" fill="#e5591c"/>
<rect x="158" y="3407" width="62" height="131" fill="#f38128"/>
<rect x="218" y="3407" width="62" height="131" fill="#f07625"/>
<rect x="279" y="3407" width="62" height="131" fill="#f9a237"/>
<rect x="340" y="3407" width="62" height="131" fill="#f38128"/>
<rect x="400" y="3407" width="62" height="131" fill="#ec6c22"/>
<rect x="461" y="3407" width="62" height="131" fill="#ce3914"/>
<rect x="521" y="3407" width="62" height="131" fill="#df4d19"/>
<rect x="582" y="3407" width="62" height="131" fill="#f38128"/>
<rect x="643" y="3407" width="62" height="131" fill="#f58c2c"/>
<rect x="703" y="3407" width="62" height="131" fill="#f07625"/>
<rect x="764" y="3407" width="132" height="131" fill="#f38128"/>
<rect x="-33" y="3537" width="132" height="61" fill="#d94116"/>
<rect x="97" y="3537" width="62" height="61" fill="#d94116"/>
<rect x="158" y="3537" width="62" height="61" fill="#f07625"/>
<rect x="218" y="3537" width="62" height="61" fill="#ec6c22"/>
<rect x="279" y="3537" width="62" height="61" fill="#fbad3d"/>
<rect x="340" y="3537" width="62" height="61" fill="#f58c2c"/>
<rect x="400" y="3537" width="62" height="61" fill="#e9641f"/>
<rect x="461" y="3537" width="62" height="61" fill="#ce3914"/>
<rect x="521" y="3537" width="62" height="61" fill="#ce3914"/>
<rect x="582" y="3537" width="62" height="61" fill="#f38128"/>
<rect x="643" y="3537" width="62" height="61" fill="#f58c2c"/>
<rect x="703" y="3537" width="62" height="61" fill="#e9641f"/>
<rect x="764" y="3537" width="132" height="61" fill="#f58c2c"/>
<rect x="-33" y="3597" width="132" height="61" fill="#d94116"/>
<rect x="97" y="3597" width="62" height="61" fill="#ce3914"/>
<rect x="158" y="3597" width="62" height="61" fill="#ec6c22"/>
<rect x="218" y="3597" width="62" height="61" fill="#ec6c22"/>
<rect x="279" y="3597" width="62" height="61" fill="#fdc560"/>
<rect x="340" y="3597" width="62" height="61" fill="#f79730"/>
<rect x="400" y="3597" width="62" height="61" fill="#e9641f"/>
<rect x="461" y="3597" width="62" height="61" fill="#c93613"/>
<rect x="521" y="3597" width="62" height="61" fill="#d94116"/>
<rect x="582" y="3597" width="62" height="61" fill="#f58c2c"/>
<rect x="643" y="3597" width="62" height="61" fill="#f58c2c"/>
<rect x="703" y="3597" width="62" height="61" fill="#df4d19"/>
<rect x="764" y="3597" width="132" height="61" fill="#f79730"/>
<rect x="-33" y="3657" width="132" height="61" fill="#df4d19"/>
<rect x="97" y="3657" width="62" height="61" fill="#ce3914"/>
<rect x="158" y="3657" width="62" height="61" fill="#e9641f"/>
<rect x="218" y="3657" width="62" height="61" fill="#ec6c22"/>
<rect x="279" y="3657" width="62" height="61" fill="#fdc560"/>
<rect x="340" y="3657" width="62" height="61" fill="#f9a237"/>
<rect x="400" y="3657" width="62" height="61" fill="#e9641f"/>
<rect x="461" y="3657" width="62" height="61" fill="#d43d15"/>
<rect x="521" y="3657" width="62" height="61" fill="#ec6c22"/>
<rect x="582" y="3657" width="62" height="61" fill="#f9a237"/>
<rect x="643" y="3657" width="62" height="61" fill="#f38128"/>
<rect x="703" y="3657" width="62" height="61" fill="#e5591c"/>
<rect x="764" y="3657" width="132" height="61" fill="#f9a237"/>
<rect x="-33" y="3717" width="132" height="61" fill="#e5591c"/>
<rect x="97" y="3717" width="62" height="61" fill="#ce3914"/>
<rect x="158" y="3717" width="62" height="61" fill="#e5591c"/>
<rect x="218" y="3717" width="62" height="61" fill="#ec6c22"/>
<rect x="279" y="3717" width="62" height="61" fill="#fcb94e"/>
<rect x="340" y="3717" width="62" height="61" fill="#f9a237"/>
<rect x="400" y="3717" width="62" height="61" fill="#e5591c"/>
<rect x="461" y="3717" width="62" height="61" fill="#d43d15"/>
<rect x="521" y="3717" width="62" height="61" fill="#f07625"/>
<rect x="582" y="3717" width="62" height="61" fill="#f79730"/>
<rect x="643" y="3717" width="62" height="61" fill="#ec6c22"/>
<rect x="703" y="3717" width="62" height="61" fill="#ec6c22"/>
<rect x="764" y="3717" width="132" height="61" fill="#fbad3d"/>
<rect x="-33" y="3777" width="132" height="61" fill="#e9641f"/>
<rect x="97" y="3777" width="62" height="61" fill="#d94116"/>
<rect x="158" y="3777" width="62" height="61" fill="#e5591c"/>
<rect x="218" y="3777" width="62" height="61" fill="#ec6c22"/>
<rect x="279" y="3777" width="62" height="61" fill="#f79730"/>
<rect x="340" y="3777" width="62" height="61" fill="#f58c2c"/>
<rect x="400" y="3777" width="62" height="61" fill="#e9641f"/>
<rect x="461" y="3777" width="62" height="61" fill="#df4d19"/>
<rect x="521" y="3777" width="62" height="61" fill="#f38128"/>
<rect x="582" y="3777" width="62" height="61" fill="#f38128"/>
<rect x="643" y="3777" width="62" height="61" fill="#e5591c"/>
<rect x="703" y="3777" width="62" height="61" fill="#f07625"/>
<rect x="764" y="3777" width="132" height="61" fill="#fcb94e"/>
<rect x="-33" y="3837" width="132" height="61" fill="#f07625"/>
<rect x="97" y="3837" width="62" height="61" fill="#e5591c"/>
<rect x="158" y="3837" width="62" height="61" fill="#e9641f"/>
<rect x="218" y="3837" width="62" height="61" fill="#e9641f"/>
<rect x="279" y="3837" width="62" height="61" fill="#f07625"/>
<rect x="340" y="3837" width="62" height="61" fill="#f38128"/>
<rect x="400" y="3837" width="62" height="61" fill="#f58c2c"/>
<rect x="461" y="3837" width="62" height="61" fill="#f9a237"/>
<rect x="521" y="3837" width="62" height="61" fill="#f38128"/>
<rect x="582" y="3837" width="62" height="61" fill="#e9641f"/>
<rect x="643" y="3837" width="62" height="61" fill="#d94116"/>
<rect x="703" y="3837" width="62" height="61" fill="#f38128"/>
<rect x="764" y="3837" width="132" height="61" fill="#fcb94e"/>
<rect x="-33" y="3896" width="132" height="61" fill="#f07625"/>
<rect x="97" y="3896" width="62" height="61" fill="#df4d19"/>
<rect x="158" y="3896" width="62" height="61" fill="#e5591c"/>
<rect x="218" y="3896" width="62" height="61" fill="#e5591c"/>
<rect x="279" y="3896" width="62" height="61" fill="#e9641f"/>
<rect x="340" y="3896" width="62" height="61" fill="#f07625"/>
<rect x="400" y="3896" width="62" height="61" fill="#f58c2c"/>
<rect x="461" y="3896" width="62" height="61" fill="#fdd17a"/>
<rect x="521" y="3896" width="62" height="61" fill="#f38128"/>
<rect x="582" y="3896" width="62" height="61" fill="#df4d19"/>
<rect x="643" y="3896" width="62" height="61" fill="#ce3914"/>
<rect x="703" y="3896" width="62" height="61" fill="#f07625"/>
<rect x="764" y="3896" width="132" height="61" fill="#fcb94e"/>
<rect x="-33" y="3956" width="132" height="61" fill="#f38128"/>
<rect x="97" y="3956" width="62" height="61" fill="#df4d19"/>
<rect x="158" y="3956" width="62" height="61" fill="#e5591c"/>
<rect x="218" y="3956" width="62" height="61" fill="#df4d19"/>
<rect x="279" y="3956" width="62" height="61" fill="#e9641f"/>
<rect x="340" y="3956" width="62" height="61" fill="#ec6c22"/>
<rect x="400" y="3956" width="62" height="61" fill="#fcb94e"/>
<rect x="461" y="3956" width="62" height="61" fill="#fdc560"/>
<rect x="521" y="3956" width="62" height="61" fill="#f38128"/>
<rect x="582" y="3956" width="62" height="61" fill="#df4d19"/>
<rect x="643" y="3956" width="62" height="61" fill="#c93613"/>
<rect x="703" y="3956" width="62" height="61" fill="#ec6c22"/>
<rect x="764" y="3956" width="132" height="61" fill="#fcb94e"/>
<rect x="-33" y="4016" width="132" height="61" fill="#f58c2c"/>
<rect x="97" y="4016" width="62" height="61" fill="#e5591c"/>
<rect x="158" y="4016" width="62" height="61" fill="#e5591c"/>
<rect x="218" y="4016" width="62" height="61" fill="#df4d19"/>
<rect x="279" y="4016" width="62" height="61" fill="#ec6c22"/>
<rect x="340" y="4016" width="62" height="61" fill="#ec6c22"/>
<rect x="400" y="4016" width="62" height="61" fill="#fdc560"/>
<rect x="461" y="4016" width="62" height="61" fill="#fbad3d"/>
<rect x="521" y="4016" width="62" height="61" fill="#f38128"/>
<rect x="582" y="4016" width="62" height="61" fill="#df4d19"/>
<rect x="643" y="4016" width="62" height="61" fill="#d43d15"/>
<rect x="703" y="4016" width="62" height="61" fill="#f07625"/>
<rect x="764" y="4016" width="132" height="61" fill="#fcb94e"/>
<rect x="-33" y="4076" width="132" height="61" fill="#f79730"/>
<rect x="97" y="4076" width="62" height="61" fill="#ec6c22"/>
<rect x="158" y="4076" width="62" height="61" fill="#e5591c"/>
<rect x="218" y="4076" width="62" height="61" fill="#e5591c"/>
<rect x="279" y="4076" width="62" height="61" fill="#f38128"/>
<rect x="340" y="4076" width="62" height="61" fill="#f07625"/>
<rect x="400" y="4076" width="62" height="61" fill="#fcb94e"/>
<rect x="461" y="4076" width="62" height="61" fill="#f9a237"/>
<rect x="521" y="4076" width="62" height="61" fill="#f07625"/>
<rect x="582" y="4076" width="62" height="61" fill="#df4d19"/>
<rect x="643" y="4076" width="62" height="61" fill="#d94116"/>
<rect x="703" y="4076" width="62" height="61" fill="#f38128"/>
<rect x="764" y="4076" width="132" height="61" fill="#fcb94e"/>
<rect x="-33" y="4136" width="132" height="61" fill="#f9a237"/>
<rect x="97" y="4136" width="62" height="61" fill="#f07625"/>
<rect x="158" y="4136" width="62" height="61" fill="#e5591c"/>
<rect x="218" y="4136" width="62" height="61" fill="#e9641f"/>
<rect x="279" y="4136" width="62" height="61" fill="#f79730"/>
<rect x="340" y="4136" width="62" height="61" fill="#f07625"/>
<rect x="400" y="4136" width="62" height="61" fill="#fbad3d"/>
<rect x="461" y="4136" width="62" height="61" fill="#f79730"/>
<rect x="521" y="4136" width="62" height="61" fill="#f07625"/>
<rect x="582" y="4136" width="62" height="61" fill="#e5591c"/>
<rect x="643" y="4136" width="62" height="61" fill="#df4d19"/>
<rect x="703" y="4136" width="62" height="61" fill="#f58c2c"/>
<rect x="764" y="4136" width="132" height="61" fill="#fbad3d"/>
<rect x="-33" y="4196" width="132" height="131" fill="#f9a237"/>
<rect x="97" y="4196" width="62" height="131" fill="#f38128"/>
<rect x="158" y="4196" width="62" height="131" fill="#e9641f"/>
<rect x="218" y="4196" width="62" height="131" fill="#ec6c22"/>
<rect x="279" y="4196" width="62" height="131" fill="#f9a237"/>
<rect x="340" y="4196" width="62" height="131" fill="#f07625"/>
<rect x="400" y="4196" width="62" height="131" fill="#f9a237"/>
<rect x="461" y="4196" width="62" height="131" fill="#f79730"/>
<rect x="521" y="4196" width="62" height="131" fill="#f38128"/>
<rect x="582" y="4196" width="62" height="131" fill="#e9641f"/>
<rect x="643" y="4196" width="62" height="131" fill="#e5591c"/>
<rect x="703" y="4196" width="62" height="131" fill="#f58c2c"/>
<rect x="764" y="4196" width="132" height="131" fill="#f9a237"/>
</g>
<path d="M50,3507 50,3527 53,3547 52,3567 52,3587 53,3607 51,3627 53,3647 55,3667 54,3687 57,3707 57,3727 55,3747 57,3767 55,3787 56,3807 58,3827 56,3847 57,3866 56,3886 52,3906 52,3926 50,3946 48,3966 49,3986 46,4006 44,4026 43,4046 38,4066 36,4086 36,4106 33,4126 33,4146 31,4166 27,4186 26,4206 23,4226M61,3507 63,3527 63,3547 64,3567 67,3587 65,3607 66,3627 67,3647 64,3667 66,3687 67,3707 67,3727 69,3747 68,3767 67,3787 68,3807 66,3827 66,3847 67,3866 65,3886 66,3906 64,3926 61,3946 61,3966 59,3986 57,4006 58,4026 54,4046 53,4066 51,4086 47,4106 46,4126 44,4146 41,4166 42,4186 39,4206 35,4226M71,3507 72,3527 73,3547 78,3567 79,3587 79,3607 81,3627 80,3647 80,3667 83,3687 83,3707 85,3727 86,3747 83,3767 83,3787 80,3807 78,3827 80,3847 78,3866 77,3886 77,3906 72,3926 70,3946 69,3966 66,3986 68,4006 67,4026 65,4046 65,4066 61,4086 59,4106 60,4126 57,4146 58,4166 58,4186 54,4206 53,4226M89,3507 90,3527 89,3547 91,3567 91,3587 90,3607 93,3627 93,3647 94,3667 96,3687 94,3707 95,3727 96,3747 95,3767 97,3787 97,3807 96,3827 97,3847 94,3866 92,3886 93,3906 90,3926 90,3946 89,3966 85,3986 85,4006 82,4026 79,4046 79,4066 76,4086 74,4106 75,4126 70,4146 69,4166 68,4186 64,4206 64,4226M104,3507 104,3527 107,3547 105,3567 104,3587 105,3607 103,3627 105,3647 107,3667 105,3687 106,3707 105,3727 102,3747 103,3767 102,3787 103,3807 105,3827 103,3847 103,3866 103,3886 99,3906 101,3926 101,3946 100,3966 102,3986 99,4006 96,4026 95,4046 91,4066 90,4086 90,4106 87,4126 86,4146 83,4166 77,4186 76,4206 72,4226M112,3507 114,3527 115,3547 114,3567 117,3587 118,3607 118,3627 120,3647 118,3667 119,3687 121,3707 120,3727 122,3747 123,3767 121,3787 122,3807 121,3827 118,3847 120,3866 118,3886 117,3906 118,3926 113,3946 112,3966 111,3986 107,4006 108,4026 106,4046 103,4066 103,4086 100,4106 97,4126 97,4146 93,4166 93,4186 93,4206 89,4226M128,3507 132,3527 133,3547 133,3567 136,3587 135,3607 134,3627 137,3647 135,3667 136,3687 138,3707 135,3727 136,3747 135,3767 132,3787 134,3807 132,3827 131,3847 133,3866 130,3886 129,3906 128,3926 125,3946 126,3966 126,3986 124,4006 125,4026 122,4046 120,4066 120,4086 117,4106 116,4126 116,4146 112,4166 111,4186 108,4206 103,4226M141,3507 141,3527 145,3547 146,3567 146,3587 148,3607 146,3627 146,3647 147,3667 145,3687 147,3707 147,3727 144,3747 144,3767 142,3787 140,3807 141,3827 139,3847 139,3866 141,3886 137,3906 137,3926 137,3946 134,3966 137,3986 136,4006 135,4026 136,4046 132,4066 130,4086 130,4106 126,4126 126,4146 125,4166 120,4186 119,4206 114,4226M154,3507 154,3527 156,3547 159,3567 157,3587 159,3607 161,3627 160,3647 164,3667 165,3687 164,3707 165,3727 162,3747 161,3767 162,3787 160,3807 161,3827 160,3847 156,3866 156,3886 153,3906 150,3926 152,3946 150,3966 149,3986 149,4006 145,4026 145,4046 144,4066 141,4086 143,4106 142,4126 140,4146 140,4166 136,4186 133,4206 133,4226M169,3507 171,3527 172,3547 169,3567 171,3587 170,3607 169,3627 171,3647 171,3667 170,3687 172,3707 170,3727 170,3747 171,3767 170,3787 173,3807 173,3827 172,3847 173,3866 171,3886 170,3906 171,3926 169,3946 169,3966 169,3986 165,4006 164,4026 161,4046 157,4066 157,4086 154,4106 152,4126 151,4146 146,4166 143,4186 142,4206 137,4226M177,3507 181,3527 181,3547 180,3567 182,3587 180,3607 180,3627 182,3647 180,3667 182,3687 183,3707 180,3727 182,3747 181,3767 179,3787 182,3807 181,3827 181,3847 182,3866 179,3886 179,3906 178,3926 176,3946 177,3966 176,3986 173,4006 174,4026 170,4046 167,4066 167,4086 163,4106 163,4126 161,4146 157,4166 156,4186 152,4206 148,4226M191,3507 192,3527 194,3547 197,3567 196,3587 197,3607 197,3627 195,3647 197,3667 197,3687 196,3707 198,3727 195,3747 193,3767 194,3787 191,3807 191,3827 192,3847 190,3866 191,3886 190,3906 187,3926 188,3946 186,3966 186,3986 187,4006 185,4026 184,4046 183,4066 179,4086 179,4106 178,4126 175,4146 175,4166 171,4186 167,4206 166,4226M202,3507 204,3527 205,3547 203,3567 206,3587 206,3607 206,3627 209,3647 209,3667 209,3687 211,3707 208,3727 209,3747 210,3767 208,3787 210,3807 209,3827 207,3847 207,3866 204,3886 203,3906 204,3926 201,3946 201,3966 200,3986 196,4006 196,4026 194,4046 191,4066 192,4086 190,4106 188,4126 188,4146 183,4166 181,4186 180,4206 177,4226M217,3507 221,3527 221,3547 220,3567 221,3587 219,3607 219,3627 221,3647 220,3667 222,3687 222,3707 219,3727 220,3747 218,3767 217,3787 220,3807 219,3827 220,3847 220,3866 217,3886 217,3906 216,3926 214,3946 217,3966 215,3986 214,4006 213,4026 209,4046 207,4066 206,4086 203,4106 203,4126 201,4146 197,4166 195,4186 190,4206 186,4226M228,3507 230,3527 233,3547 232,3567 234,3587 232,3607 230,3627 232,3647 232,3667 233,3687 236,3707 234,3727 234,3747 233,3767 230,3787 232,3807 233,3827 233,3847 235,3866 232,3886 230,3906 230,3926 227,3946 227,3966 228,3986 225,4006 225,4026 223,4046 218,4066 217,4086 214,4106 212,4126 213,4146 210,4166 207,4186 205,4206 199,4226M244,3507 243,3527 246,3547 247,3567 245,3587 247,3607 246,3627 245,3647 247,3667 245,3687 246,3707 247,3727 245,3747 245,3767 245,3787 243,3807 245,3827 244,3847 243,3866 245,3886 243,3906 242,3926 242,3946 239,3966 240,3986 240,4006 237,4026 237,4046 234,4066 230,4086 230,4106 226,4126 225,4146 224,4166 219,4186 218,4206 215,4226M253,3507 254,3527 255,3547 253,3567 255,3587 256,3607 256,3627 259,3647 259,3667 258,3687 260,3707 258,3727 259,3747 261,3767 260,3787 261,3807 261,3827 258,3847 259,3866 257,3886 255,3906 257,3926 254,3946 253,3966 252,3986 247,4006 246,4026 245,4046 242,4066 243,4086 240,4106 237,4126 236,4146 232,4166 230,4186 230,4206 227,4226M269,3507 272,3527 270,3547 272,3567 274,3587 273,3607 274,3627 274,3647 272,3667 274,3687 274,3707 274,3727 277,3747 275,3767 275,3787 276,3807 273,3827 274,3847 275,3866 273,3886 274,3906 272,3926 270,3946 270,3966 266,3986 265,4006 265,4026 262,4046 261,4066 259,4086 255,4106 254,4126 251,4146 249,4166 249,4186 246,4206 243,4226M283,3507 282,3527 282,3547 284,3567 283,3587 286,3607 289,3627 289,3647 292,3667 291,3687 289,3707 291,3727 289,3747 290,3767 292,3787 290,3807 289,3827 287,3847 283,3866 283,3886 282,3906 280,3926 282,3946 279,3966 276,3986 276,4006 272,4026 272,4046 272,4066 270,4086 272,4106 270,4126 266,4146 265,4166 262,4186 260,4206 261,4226M291,3507 294,3527 297,3547 296,3567 298,3587 299,3607 297,3627 300,3647 300,3667 299,3687 302,3707 299,3727 299,3747 299,3767 296,3787 297,3807 297,3827 294,3847 295,3866 293,3886 291,3906 291,3926 289,3946 288,3966 289,3986 286,4006 287,4026 286,4046 282,4066 283,4086 281,4106 279,4126 279,4146 276,4166 274,4186 272,4206 267,4226M305,3507 308,3527 308,3547 306,3567 309,3587 309,3607 310,3627 314,3647 312,3667 312,3687 312,3707 309,3727 310,3747 311,3767 309,3787 311,3807 309,3827 306,3847 306,3866 303,3886 303,3906 305,3926 303,3946 303,3966 302,3986 298,4006 298,4026 296,4046 295,4066 297,4086 294,4106 292,4126 291,4146 285,4166 284,4186 283,4206 280,4226M321,3507 323,3527 324,3547 322,3567 324,3587 323,3607 323,3627 326,3647 324,3667 325,3687 325,3707 322,3727 324,3747 324,3767 323,3787 325,3807 324,3827 322,3847 323,3866 321,3886 321,3906 322,3926 319,3946 320,3966 319,3986 315,4006 315,4026 312,4046 310,4066 311,4086 307,4106 306,4126 304,4146 299,4166 298,4186 295,4206 292,4226M331,3507 330,3527 333,3547 336,3567 336,3587 339,3607 339,3627 338,3647 341,3667 340,3687 340,3707 343,3727 341,3747 341,3767 341,3787 337,3807 337,3827 336,3847 333,3866 335,3886 332,3906 330,3926 330,3946 326,3966 325,3986 326,4006 323,4026 324,4046 323,4066 320,4086 320,4106 318,4126 316,4146 317,4166 314,4186 313,4206 311,4226M346,3507 346,3527 344,3547 347,3567 347,3587 347,3607 350,3627 348,3647 347,3667 348,3687 345,3707 347,3727 348,3747 347,3767 349,3787 347,3807 345,3827 346,3847 344,3866 345,3886 346,3906 344,3926 344,3946 343,3966 339,3986 340,4006 338,4026 336,4046 337,4066 333,4086 331,4106 329,4126 324,4146 324,4166 322,4186 318,4206 318,4226M361,3507 364,3527 362,3547 363,3567 365,3587 364,3607 367,3627 367,3647 364,3667 365,3687 362,3707 361,3727 363,3747 361,3767 361,3787 361,3807 358,3827 358,3847 357,3866 356,3886 358,3906 358,3926 357,3946 358,3966 355,3986 354,4006 355,4026 352,4046 353,4066 352,4086 349,4106 348,4126 343,4146 339,4166 339,4186 335,4206 333,4226M373,3507 374,3527 372,3547 374,3567 373,3587 372,3607 376,3627 376,3647 377,3667 379,3687 376,3707 376,3727 376,3747 375,3767 378,3787 378,3807 377,3827 378,3847 374,3866 373,3886 373,3906 371,3926 372,3946 372,3966 368,3986 368,4006 364,4026 361,4046 361,4066 359,4086 358,4106 358,4126 354,4146 352,4166 349,4186 345,4206 346,4226M383,3507 387,3527 389,3547 388,3567 390,3587 389,3607 389,3627 392,3647 392,3667 392,3687 394,3707 390,3727 390,3747 390,3767 387,3787 389,3807 389,3827 386,3847 387,3866 384,3886 381,3906 382,3926 380,3946 381,3966 382,3986 379,4006 378,4026 376,4046 373,4066 374,4086 373,4106 372,4126 372,4146 367,4166 365,4186 363,4206 358,4226M396,3507 398,3527 401,3547 400,3567 400,3587 402,3607 401,3627 404,3647 405,3667 404,3687 405,3707 402,3727 400,3747 401,3767 398,3787 399,3807 400,3827 397,3847 397,3866 394,3886 391,3906 393,3926 392,3946 392,3966 394,3986 390,4006 389,4026 388,4046 385,4066 386,4086 386,4106 384,4126 384,4146 380,4166 376,4186 374,4206 370,4226M407,3507 410,3527 410,3547 412,3567 414,3587 412,3607 414,3627 414,3647 413,3667 417,3687 417,3707 417,3727 419,3747 416,3767 416,3787 416,3807 414,3827 416,3847 415,3866 413,3886 413,3906 409,3926 407,3946 407,3966 404,3986 405,4006 404,4026 400,4046 399,4066 397,4086 393,4106 395,4126 393,4146 391,4166 391,4186 387,4206 384,4226M421,3507 424,3527 423,3547 424,3567 428,3587 429,3607 431,3627 433,3647 431,3667 432,3687 432,3707 430,3727 433,3747 432,3767 430,3787 431,3807 427,3827 425,3847 425,3866 422,3886 423,3906 423,3926 419,3946 419,3966 416,3986 414,4006 416,4026 414,4046 414,4066 414,4086 411,4106 410,4126 408,4146 405,4166 406,4186 404,4206 401,4226M435,3507 436,3527 438,3547 437,3567 440,3587 441,3607 439,3627 440,3647 438,3667 437,3687 440,3707 439,3727 440,3747 442,3767 439,3787 439,3807 439,3827 437,3847 439,3866 439,3886 438,3906 439,3926 435,3946 433,3966 433,3986 430,4006 431,4026 430,4046 426,4066 426,4086 422,4106 418,4126 418,4146 415,4166 413,4186 413,4206 408,4226M447,3507 447,3527 452,3547 453,3567 454,3587 457,3607 455,3627 455,3647 457,3667 456,3687 458,3707 460,3727 457,3747 458,3767 455,3787 453,3807 454,3827 452,3847 451,3866 452,3886 448,3906 447,3926 446,3946 442,3966 444,3986 443,4006 441,4026 443,4046 439,4066 437,4086 437,4106 434,4126 434,4146 435,4166 431,4186 430,4206 427,4226M459,3507 462,3527 463,3547 462,3567 464,3587 463,3607 464,3627 467,3647 466,3667 468,3687 468,3707 465,3727 466,3747 465,3767 464,3787 467,3807 465,3827 464,3847 464,3866 460,3886 459,3906 459,3926 457,3946 459,3966 457,3986 454,4006 454,4026 450,4046 449,4066 450,4086 447,4106 447,4126 446,4146 441,4166 440,4186 437,4206 433,4226M474,3507 475,3527 478,3547 478,3567 479,3587 481,3607 477,3627 477,3647 477,3667 475,3687 478,3707 478,3727 477,3747 478,3767 474,3787 473,3807 475,3827 473,3847 476,3866 477,3886 474,3906 475,3926 472,3946 470,3966 472,3986 470,4006 470,4026 471,4046 466,4066 464,4086 461,4106 457,4126 457,4146 455,4166 452,4186 451,4206 445,4226M485,3507 487,3527 488,3547 487,3567 490,3587 490,3607 490,3627 493,3647 491,3667 491,3687 492,3707 489,3727 490,3747 491,3767 489,3787 490,3807 488,3827 486,3847 487,3866 484,3886 484,3906 485,3926 482,3946 483,3966 482,3986 478,4006 479,4026 477,4046 476,4066 477,4086 474,4106 471,4126 471,4146 466,4166 465,4186 463,4206 459,4226M499,3507 500,3527 499,3547 500,3567 503,3587 503,3607 505,3627 506,3647 504,3667 506,3687 505,3707 505,3727 508,3747 507,3767 508,3787 508,3807 504,3827 505,3847 504,3866 502,3886 504,3906 502,3926 499,3946 499,3966 494,3986 493,4006 493,4026 490,4046 491,4066 489,4086 485,4106 485,4126 481,4146 479,4166 480,4186 477,4206 476,4226M510,3507 513,3527 512,3547 513,3567 514,3587 511,3607 512,3627 512,3647 511,3667 514,3687 513,3707 513,3727 515,3747 513,3767 514,3787 515,3807 514,3827 516,3847 517,3866 515,3886 516,3906 513,3926 511,3946 512,3966 509,3986 508,4006 507,4026 503,4046 501,4066 498,4086 494,4106 494,4126 491,4146 489,4166 488,4186 483,4206 481,4226M529,3507 529,3527 531,3547 528,3567 527,3587 528,3607 527,3627 529,3647 530,3667 527,3687 528,3707 526,3727 525,3747 527,3767 526,3787 528,3807 530,3827 527,3847 527,3866 527,3886 525,3906 527,3926 527,3946 526,3966 527,3986 523,4006 520,4026 519,4046 515,4066 515,4086 514,4106 510,4126 509,4146 504,4166 499,4186 498,4206 495,4226M539,3507 539,3527 539,3547 542,3567 541,3587 543,3607 546,3627 545,3647 547,3667 546,3687 544,3707 545,3727 544,3747 543,3767 545,3787 542,3807 541,3827 541,3847 537,3866 538,3886 537,3906 535,3926 537,3946 535,3966 532,3986 533,4006 530,4026 529,4046 530,4066 527,4086 528,4106 526,4126 522,4146 521,4166 518,4186 515,4206 516,4226M549,3507 548,3527 551,3547 551,3567 552,3587 554,3607 552,3627 552,3647 552,3667 550,3687 553,3707 554,3727 553,3747 555,3767 553,3787 552,3807 553,3827 551,3847 553,3866 554,3886 552,3906 552,3926 549,3946 546,3966 547,3986 544,4006 544,4026 544,4046 540,4066 538,4086 535,4106 530,4126 530,4146 529,4166 526,4186 526,4206 521,4226M566,3507 567,3527 565,3547 567,3567 566,3587 565,3607 567,3627 566,3647 567,3667 569,3687 567,3707 568,3727 569,3747 567,3767 570,3787 570,3807 569,3827 572,3847 569,3866 569,3886 569,3906 567,3926 567,3946 567,3966 563,3986 563,4006 560,4026 556,4046 555,4066 552,4086 550,4106 549,4126 544,4146 543,4166 541,4186 536,4206 536,4226M576,3507 578,3527 577,3547 577,3567 579,3587 579,3607 580,3627 582,3647 580,3667 582,3687 582,3707 580,3727 583,3747 582,3767 582,3787 583,3807 581,3827 580,3847 581,3866 578,3886 579,3906 578,3926 575,3946 576,3966 573,3986 570,4006 570,4026 567,4046 566,4066 566,4086 562,4106 561,4126 559,4146 555,4166 555,4186 552,4206 550,4226M589,3507 589,3527 591,3547 594,3567 592,3587 594,3607 594,3627 593,3647 595,3667 595,3687 594,3707 596,3727 593,3747 593,3767 593,3787 590,3807 591,3827 591,3847 589,3866 590,3886 588,3906 586,3926 587,3946 584,3966 584,3986 585,4006 582,4026 582,4046 580,4066 576,4086 577,4106 575,4126 572,4146 572,4166 568,4186 565,4206 564,4226M601,3507 602,3527 603,3547 602,3567 605,3587 605,3607 603,3627 604,3647 602,3667 602,3687 605,3707 605,3727 607,3747 608,3767 605,3787 606,3807 605,3827 605,3847 608,3866 607,3886 607,3906 607,3926 602,3946 601,3966 600,3986 597,4006 598,4026 596,4046 592,4066 591,4086 586,4106 582,4126 582,4146 579,4166 579,4186 578,4206 573,4226M617,3507 616,3527 616,3547 619,3567 618,3587 620,3607 622,3627 619,3647 620,3667 619,3687 618,3707 620,3727 619,3747 619,3767 621,3787 617,3807 617,3827 617,3847 615,3866 617,3886 617,3906 615,3926 616,3946 613,3966 610,3986 611,4006 608,4026 608,4046 608,4066 604,4086 603,4106 600,4126 596,4146 596,4166 593,4186 591,4206 591,4226M632,3507 631,3527 633,3547 633,3567 631,3587 634,3607 634,3627 634,3647 635,3667 632,3687 631,3707 631,3727 629,3747 631,3767 631,3787 629,3807 631,3827 628,3847 627,3866 628,3886 627,3906 628,3926 629,3946 626,3966 627,3986 625,4006 622,4026 623,4046 621,4066 619,4086 619,4106 615,4126 612,4146 610,4166 605,4186 604,4206 602,4226M636,3507 639,3527 639,3547 639,3567 643,3587 642,3607 645,3627 647,3647 645,3667 647,3687 648,3707 647,3727 649,3747 649,3767 648,3787 649,3807 646,3827 644,3847 644,3866 641,3886 641,3906 640,3926 636,3946 637,3966 633,3986 631,4006 631,4026 628,4046 628,4066 628,4086 625,4106 624,4126 623,4146 620,4166 621,4186 619,4206 616,4226M653,3507 653,3527 656,3547 654,3567 654,3587 657,3607 656,3627 659,3647 662,3667 661,3687 662,3707 661,3727 659,3747 662,3767 661,3787 661,3807 663,3827 659,3847 658,3866 656,3886 653,3906 654,3926 653,3946 651,3966 651,3986 647,4006 644,4026 644,4046 640,4066 641,4086 641,4106 638,4126 638,4146 635,4166 631,4186 631,4206 629,4226M662,3507 665,3527 665,3547 665,3567 667,3587 664,3607 665,3627 667,3647 666,3667 669,3687 671,3707 670,3727 672,3747 670,3767 670,3787 672,3807 671,3827 672,3847 673,3866 669,3886 669,3906 667,3926 663,3946 664,3966 662,3986 659,4006 659,4026 654,4046 652,4066 651,4086 647,4106 647,4126 646,4146 643,4166 643,4186 639,4206 636,4226M679,3507 682,3527 683,3547 684,3567 687,3587 684,3607 684,3627 684,3647 681,3667 683,3687 683,3707 682,3727 684,3747 681,3767 679,3787 680,3807 678,3827 680,3847 682,3866 680,3886 681,3906 679,3926 676,3946 678,3966 676,3986 676,4006 677,4026 674,4046 672,4066 670,4086 665,4106 665,4126 663,4146 660,4166 660,4186 655,4206 650,4226M688,3507 692,3527 692,3547 694,3567 694,3587 693,3607 695,3627 696,3647 697,3667 700,3687 698,3707 697,3727 697,3747 694,3767 695,3787 695,3807 693,3827 695,3847 692,3866 689,3886 689,3906 685,3926 685,3946 687,3966 684,3986 685,4006 683,4026 679,4046 680,4066 678,4086 676,4106 678,4126 675,4146 673,4166 672,4186 666,4206 665,4226M703,3507 702,3527 706,3547 707,3567 706,3587 708,3607 707,3627 707,3647 710,3667 709,3687 710,3707 711,3727 708,3747 709,3767 708,3787 705,3807 708,3827 706,3847 705,3866 706,3886 702,3906 701,3926 701,3946 698,3966 699,3986 699,4006 696,4026 696,4046 693,4066 690,4086 691,4106 688,4126 687,4146 687,4166 682,4186 681,4206 678,4226M714,3507 715,3527 714,3547 718,3567 719,3587 719,3607 723,3627 722,3647 722,3667 725,3687 723,3707 725,3727 726,3747 724,3767 725,3787 724,3807 721,3827 722,3847 719,3866 718,3886 719,3906 715,3926 714,3946 713,3966 709,3986 709,4006 707,4026 705,4046 706,4066 703,4086 702,4106 702,4126 698,4146 698,4166 698,4186 694,4206 694,4226M731,3507 734,3527 733,3547 733,3567 736,3587 735,3607 736,3627 737,3647 735,3667 736,3687 735,3707 733,3727 735,3747 735,3767 734,3787 735,3807 732,3827 732,3847 732,3866 730,3886 731,3906 731,3926 729,3946 730,3966 728,3986 725,4006 726,4026 723,4046 722,4066 722,4086 718,4106 717,4126 715,4146 710,4166 710,4186 707,4206 704,4226M737,3507 740,3527 742,3547 742,3567 745,3587 744,3607 744,3627 747,3647 747,3667 749,3687 752,3707 750,3727 751,3747 751,3767 748,3787 750,3807 749,3827 747,3847 749,3866 745,3886 743,3906 742,3926 738,3946 738,3966 737,3986 734,4006 734,4026 731,4046 728,4066 728,4086 725,4106 725,4126 726,4146 723,4166 723,4186 721,4206 716,4226M759,3507 759,3527 761,3547 759,3567 760,3587 762,3607 762,3627 764,3647 765,3667 762,3687 763,3707 761,3727 759,3747 762,3767 760,3787 761,3807 761,3827 757,3847 757,3866 756,3886 754,3906 757,3926 756,3946 755,3966 755,3986 751,4006 750,4026 750,4046 747,4066 748,4086 747,4106 743,4126 742,4146 738,4166 734,4186 734,4206 730,4226M767,3507 768,3527 771,3547 770,3567 771,3587 771,3607 769,3627 771,3647 771,3667 771,3687 775,3707 773,3727 773,3747 774,3767 772,3787 773,3807 774,3827 772,3847 774,3866 773,3886 770,3906 770,3926 767,3946 766,3966 767,3986 763,4006 763,4026 761,4046 756,4066 755,4086 753,4106 750,4126 751,4146 748,4166 745,4186 745,4206 740,4226M780,3507 784,3527 783,3547 784,3567 786,3587 786,3607 789,3627 791,3647 790,3667 792,3687 790,3707 788,3727 790,3747 788,3767 788,3787 789,3807 785,3827 784,3847 783,3866 779,3886 780,3906 779,3926 777,3946 778,3966 775,3986 774,4006 774,4026 771,4046 772,4066 772,4086 770,4106 770,4126 768,4146 764,4166 764,4186 760,4206 759,4226M796,3507 796,3527 799,3547 798,3567 799,3587 801,3607 798,3627 799,3647 799,3667 796,3687 798,3707 797,3727 796,3747 798,3767 795,3787 795,3807 796,3827 793,3847 795,3866 795,3886 793,3906 795,3926 793,3946 791,3966 792,3986 790,4006 789,4026 790,4046 786,4066 785,4086 783,4106 779,4126 778,4146 775,4166 771,4186 771,4206 766,4226M807,3507 809,3527 807,3547 807,3567 810,3587 809,3607 811,3627 812,3647 810,3667 811,3687 811,3707 810,3727 814,3747 814,3767 814,3787 815,3807 813,3827 812,3847 813,3866 811,3886 812,3906 812,3926 808,3946 808,3966 805,3986 802,4006 802,4026 799,4046 798,4066 797,4086 792,4106 791,4126 788,4146 784,4166 785,4186 783,4206 781,4226M821,3507 820,3527 824,3547 825,3567 826,3587 830,3607 828,3627 827,3647 827,3667 824,3687 825,3707 826,3727 824,3747 826,3767 823,3787 820,3807 820,3827 818,3847 818,3866 820,3886 818,3906 819,3926 818,3946 814,3966 815,3986 814,4006 814,4026 816,4046 814,4066 812,4086 811,4106 806,4126 805,4146 804,4166 800,4186 800,4206 796,4226M833,3507 832,3527 834,3547 831,3567 830,3587 832,3607 831,3627 833,3647 835,3667 833,3687 835,3707 834,3727 832,3747 835,3767 835,3787 836,3807 839,3827 836,3847 836,3866 835,3886 832,3906 833,3926 834,3946 831,3966 831,3986 827,4006 823,4026 822,4046 819,4066 818,4086 818,4106 814,4126 812,4146 809,4166 804,4186 804,4206 802,4226M847,3507 848,3527 850,3547 847,3567 848,3587 848,3607 847,3627 849,3647 848,3667 846,3687 848,3707 845,3727 846,3747 847,3767 846,3787 848,3807 848,3827 846,3847 848,3866 846,3886 846,3906 848,3926 846,3946 846,3966 846,3986 842,4006 841,4026 839,4046 836,4066 836,4086 833,4106 829,4126 828,4146 823,4166 820,4186 819,4206 814,4226M861,3507 861,3527 862,3547 864,3567 862,3587 865,3607 866,3627 865,3647 868,3667 866,3687 864,3707 865,3727 862,3747 862,3767 864,3787 861,3807 861,3827 860,3847 857,3866 858,3886 856,3906 855,3926 857,3946 855,3966 854,3986 854,4006 851,4026 851,4046 851,4066 848,4086 849,4106 847,4126 843,4146 843,4166 838,4186 836,4206 835,4226M868,3507 871,3527 871,3547 870,3567 872,3587 871,3607 872,3627 875,3647 874,3667 875,3687 876,3707 874,3727 875,3747 875,3767 874,3787 877,3807 875,3827 874,3847 874,3866 871,3886 870,3906 870,3926 868,3946 869,3966 867,3986 863,4006 863,4026 859,4046 857,4066 858,4086 855,4106 854,4126 853,4146 848,4166 847,4186 845,4206 842,4226M884,3507 883,3527 886,3547 886,3567 886,3587 889,3607 887,3627 887,3647 887,3667 884,3687 886,3707 886,3727 885,3747 887,3767 885,3787 883,3807 884,3827 882,3847 883,3866 884,3886 882,3906 883,3926 882,3946 879,3966 880,3986 878,4006 877,4026 878,4046 875,4066 873,4086 871,4106 866,4126 865,4146 863,4166 860,4186 860,4206 856,4226M898,3507 900,3527 901,3547 899,3567 901,3587 901,3607 901,3627 904,3647 902,3667 901,3687 901,3707 898,3727 898,3747 899,3767 897,3787 899,3807 898,3827 896,3847 897,3866 895,3886 894,3906 896,3926 895,3946 895,3966 895,3986 891,4006 891,4026 890,4046 887,4066 889,4086 886,4106 883,4126 882,4146 876,4166 874,4186 872,4206 868,4226M908,3507 908,3527 910,3547 912,3567 910,3587 911,3607 911,3627 910,3647 914,3667 915,3687 916,3707 918,3727 916,3747 916,3767 917,3787 915,3807 917,3827 918,3847 915,3866 916,3886 913,3906 909,3926 909,3946 906,3966 906,3986 906,4006 902,4026 900,4046 898,4066 893,4086 894,4106 892,4126 891,4146 891,4166 888,4186 885,4206 884,4226" fill="none" stroke="#a82808" stroke-width="3.8" opacity="0.55" stroke-linejoin="round" filter="url(#bl1)"/>
<path d="M56,3507 56,3527 59,3547 58,3567 58,3587 59,3607 57,3627 59,3647 61,3667 61,3687 63,3707 63,3727 61,3747 63,3767 62,3787 62,3807 65,3827 63,3847 63,3866 62,3886 58,3906 58,3926 57,3946 54,3966 56,3986 53,4006 50,4026 49,4046 44,4066 43,4086 42,4106 39,4126 40,4146 37,4166 33,4186 33,4206 29,4226M67,3507 70,3527 69,3547 70,3567 73,3587 72,3607 72,3627 73,3647 71,3667 73,3687 74,3707 73,3727 76,3747 74,3767 73,3787 74,3807 72,3827 72,3847 74,3866 71,3886 72,3906 71,3926 67,3946 68,3966 65,3986 63,4006 64,4026 61,4046 59,4066 58,4086 53,4106 52,4126 51,4146 47,4166 48,4186 45,4206 42,4226M77,3507 79,3527 79,3547 84,3567 85,3587 85,3607 88,3627 86,3647 87,3667 89,3687 89,3707 92,3727 92,3747 89,3767 89,3787 86,3807 84,3827 86,3847 84,3866 83,3886 83,3906 78,3926 76,3946 75,3966 72,3986 74,4006 73,4026 71,4046 71,4066 67,4086 65,4106 66,4126 64,4146 65,4166 65,4186 61,4206 59,4226M95,3507 97,3527 95,3547 97,3567 97,3587 96,3607 100,3627 99,3647 100,3667 103,3687 101,3707 102,3727 103,3747 101,3767 104,3787 104,3807 102,3827 103,3847 100,3866 99,3886 99,3906 96,3926 96,3946 96,3966 92,3986 91,4006 88,4026 85,4046 85,4066 83,4086 81,4106 81,4126 77,4146 75,4166 74,4186 70,4206 71,4226M110,3507 111,3527 114,3547 112,3567 111,3587 112,3607 110,3627 112,3647 113,3667 112,3687 113,3707 111,3727 108,3747 110,3767 109,3787 109,3807 112,3827 110,3847 110,3866 109,3886 106,3906 107,3926 107,3946 106,3966 108,3986 105,4006 102,4026 102,4046 97,4066 97,4086 97,4106 93,4126 93,4146 89,4166 84,4186 82,4206 78,4226M119,3507 120,3527 121,3547 120,3567 124,3587 124,3607 124,3627 126,3647 125,3667 125,3687 127,3707 126,3727 128,3747 130,3767 127,3787 129,3807 127,3827 125,3847 126,3866 124,3886 124,3906 124,3926 120,3946 119,3966 117,3986 113,4006 114,4026 112,4046 110,4066 110,4086 106,4106 103,4126 103,4146 100,4166 100,4186 99,4206 95,4226M134,3507 138,3527 140,3547 140,3567 142,3587 141,3607 141,3627 143,3647 142,3667 143,3687 144,3707 142,3727 143,3747 141,3767 139,3787 140,3807 139,3827 138,3847 139,3866 136,3886 135,3906 135,3926 132,3946 133,3966 132,3986 130,4006 131,4026 129,4046 126,4066 127,4086 123,4106 122,4126 122,4146 118,4166 117,4186 115,4206 110,4226M147,3507 147,3527 151,3547 152,3567 152,3587 155,3607 152,3627 152,3647 154,3667 152,3687 153,3707 153,3727 150,3747 151,3767 148,3787 146,3807 148,3827 146,3847 146,3866 147,3886 144,3906 144,3926 143,3946 141,3966 143,3986 142,4006 141,4026 142,4046 139,4066 137,4086 136,4106 133,4126 132,4146 131,4166 127,4186 125,4206 121,4226M160,3507 161,3527 162,3547 165,3567 164,3587 166,3607 167,3627 167,3647 170,3667 171,3687 170,3707 171,3727 169,3747 168,3767 169,3787 166,3807 167,3827 167,3847 163,3866 162,3886 160,3906 157,3926 158,3946 156,3966 155,3986 156,4006 152,4026 151,4046 150,4066 148,4086 149,4106 148,4126 146,4146 146,4166 142,4186 140,4206 139,4226M176,3507 177,3527 178,3547 176,3567 177,3587 176,3607 175,3627 178,3647 177,3667 177,3687 178,3707 176,3727 177,3747 178,3767 176,3787 179,3807 180,3827 178,3847 180,3866 178,3886 176,3906 178,3926 175,3946 176,3966 175,3986 171,4006 170,4026 168,4046 164,4066 164,4086 161,4106 158,4126 157,4146 152,4166 150,4186 148,4206 144,4226M184,3507 187,3527 187,3547 186,3567 188,3587 186,3607 186,3627 188,3647 187,3667 189,3687 189,3707 187,3727 188,3747 187,3767 186,3787 188,3807 187,3827 187,3847 188,3866 185,3886 185,3906 185,3926 182,3946 184,3966 182,3986 180,4006 180,4026 176,4046 174,4066 173,4086 170,4106 169,4126 168,4146 163,4166 162,4186 159,4206 155,4226M198,3507 198,3527 200,3547 203,3567 202,3587 203,3607 204,3627 201,3647 203,3667 203,3687 202,3707 204,3727 202,3747 200,3767 200,3787 197,3807 198,3827 199,3847 196,3866 197,3886 196,3906 193,3926 194,3946 192,3966 192,3986 194,4006 191,4026 191,4046 190,4066 185,4086 185,4106 184,4126 181,4146 181,4166 178,4186 174,4206 172,4226M208,3507 210,3527 212,3547 210,3567 212,3587 212,3607 212,3627 216,3647 216,3667 216,3687 217,3707 215,3727 215,3747 216,3767 214,3787 217,3807 216,3827 213,3847 214,3866 211,3886 209,3906 210,3926 207,3946 207,3966 207,3986 203,4006 202,4026 200,4046 197,4066 198,4086 196,4106 194,4126 194,4146 190,4166 188,4186 187,4206 183,4226M223,3507 227,3527 227,3547 227,3567 228,3587 225,3607 225,3627 227,3647 226,3667 228,3687 228,3707 226,3727 226,3747 224,3767 224,3787 226,3807 225,3827 226,3847 227,3866 223,3886 223,3906 222,3926 221,3946 223,3966 222,3986 220,4006 220,4026 215,4046 213,4066 212,4086 209,4106 209,4126 208,4146 203,4166 201,4186 197,4206 193,4226M234,3507 237,3527 239,3547 238,3567 240,3587 239,3607 236,3627 239,3647 238,3667 239,3687 242,3707 240,3727 240,3747 240,3767 237,3787 239,3807 239,3827 239,3847 241,3866 239,3886 236,3906 236,3926 233,3946 233,3966 234,3986 232,4006 232,4026 229,4046 224,4066 224,4086 220,4106 219,4126 220,4146 216,4166 214,4186 211,4206 206,4226M250,3507 249,3527 252,3547 253,3567 252,3587 254,3607 252,3627 251,3647 253,3667 252,3687 252,3707 254,3727 251,3747 252,3767 251,3787 249,3807 251,3827 251,3847 250,3866 252,3886 249,3906 248,3926 249,3946 246,3966 246,3986 246,4006 243,4026 243,4046 240,4066 237,4086 237,4106 233,4126 231,4146 230,4166 226,4186 224,4206 221,4226M260,3507 261,3527 262,3547 259,3567 261,3587 263,3607 262,3627 265,3647 265,3667 264,3687 266,3707 264,3727 265,3747 267,3767 266,3787 268,3807 267,3827 264,3847 265,3866 263,3886 261,3906 263,3926 260,3946 259,3966 258,3986 254,4006 253,4026 251,4046 248,4066 249,4086 247,4106 243,4126 243,4146 238,4166 237,4186 237,4206 233,4226M276,3507 278,3527 277,3547 278,3567 280,3587 279,3607 280,3627 281,3647 279,3667 281,3687 281,3707 280,3727 283,3747 282,3767 282,3787 282,3807 280,3827 281,3847 281,3866 279,3886 281,3906 279,3926 276,3946 276,3966 273,3986 272,4006 272,4026 268,4046 268,4066 266,4086 261,4106 261,4126 258,4146 255,4166 256,4186 252,4206 250,4226M289,3507 289,3527 289,3547 291,3567 290,3587 293,3607 296,3627 296,3647 298,3667 298,3687 296,3707 297,3727 296,3747 296,3767 298,3787 296,3807 295,3827 294,3847 289,3866 289,3886 288,3906 287,3926 288,3946 285,3966 283,3986 282,4006 278,4026 278,4046 279,4066 277,4086 278,4106 276,4126 272,4146 272,4166 268,4186 267,4206 268,4226M298,3507 300,3527 303,3547 302,3567 305,3587 305,3607 304,3627 306,3647 306,3667 306,3687 308,3707 306,3727 305,3747 306,3767 302,3787 303,3807 303,3827 301,3847 302,3866 300,3886 297,3906 298,3926 295,3946 295,3966 296,3986 293,4006 293,4026 292,4046 289,4066 289,4086 287,4106 285,4126 286,4146 282,4166 280,4186 279,4206 273,4226M311,3507 314,3527 314,3547 313,3567 315,3587 316,3607 317,3627 320,3647 319,3667 319,3687 319,3707 315,3727 317,3747 317,3767 316,3787 318,3807 315,3827 313,3847 313,3866 310,3886 310,3906 311,3926 309,3946 310,3966 308,3986 304,4006 304,4026 302,4046 301,4066 303,4086 300,4106 299,4126 297,4146 292,4166 291,4186 289,4206 286,4226M327,3507 330,3527 330,3547 328,3567 331,3587 330,3607 330,3627 332,3647 331,3667 331,3687 332,3707 329,3727 330,3747 330,3767 329,3787 332,3807 330,3827 329,3847 330,3866 327,3886 327,3906 328,3926 326,3946 327,3966 325,3986 322,4006 322,4026 319,4046 317,4066 317,4086 314,4106 312,4126 311,4146 306,4166 304,4186 302,4206 298,4226M337,3507 336,3527 339,3547 342,3567 342,3587 345,3607 346,3627 345,3647 347,3667 346,3687 347,3707 349,3727 347,3747 347,3767 347,3787 343,3807 344,3827 342,3847 340,3866 341,3886 338,3906 336,3926 336,3946 332,3966 332,3986 332,4006 329,4026 330,4046 329,4066 326,4086 327,4106 324,4126 323,4146 324,4166 320,4186 319,4206 318,4226M352,3507 352,3527 351,3547 354,3567 354,3587 354,3607 356,3627 354,3647 354,3667 354,3687 352,3707 354,3727 354,3747 353,3767 355,3787 353,3807 351,3827 353,3847 351,3866 351,3886 353,3906 350,3926 351,3946 349,3966 346,3986 346,4006 344,4026 343,4046 343,4066 340,4086 337,4106 336,4126 331,4146 330,4166 328,4186 325,4206 324,4226M368,3507 370,3527 368,3547 370,3567 372,3587 371,3607 373,3627 373,3647 370,3667 371,3687 368,3707 367,3727 369,3747 367,3767 367,3787 368,3807 364,3827 364,3847 364,3866 362,3886 365,3906 364,3926 364,3946 365,3966 361,3986 360,4006 361,4026 359,4046 360,4066 359,4086 355,4106 354,4126 350,4146 346,4166 345,4186 341,4206 339,4226M379,3507 381,3527 379,3547 380,3567 379,3587 379,3607 382,3627 382,3647 383,3667 385,3687 382,3707 383,3727 383,3747 381,3767 384,3787 385,3807 383,3827 384,3847 381,3866 379,3886 380,3906 377,3926 378,3946 378,3966 375,3986 374,4006 371,4026 367,4046 368,4066 365,4086 365,4106 365,4126 360,4146 358,4166 356,4186 351,4206 352,4226M390,3507 393,3527 396,3547 394,3567 396,3587 396,3607 395,3627 399,3647 398,3667 399,3687 400,3707 397,3727 396,3747 396,3767 394,3787 395,3807 395,3827 393,3847 393,3866 390,3886 388,3906 389,3926 386,3946 387,3966 388,3986 385,4006 385,4026 383,4046 380,4066 381,4086 379,4106 378,4126 378,4146 374,4166 371,4186 369,4206 364,4226M403,3507 405,3527 408,3547 406,3567 407,3587 408,3607 407,3627 410,3647 411,3667 410,3687 411,3707 408,3727 406,3747 407,3767 405,3787 406,3807 407,3827 403,3847 403,3866 401,3886 398,3906 399,3926 398,3946 398,3966 400,3986 397,4006 395,4026 395,4046 391,4066 393,4086 393,4106 390,4126 390,4146 386,4166 382,4186 381,4206 376,4226M413,3507 416,3527 416,3547 419,3567 421,3587 419,3607 420,3627 420,3647 420,3667 423,3687 423,3707 424,3727 425,3747 422,3767 422,3787 423,3807 420,3827 422,3847 422,3866 419,3886 419,3906 416,3926 413,3946 414,3966 411,3986 411,4006 411,4026 407,4046 406,4066 403,4086 400,4106 401,4126 399,4146 398,4166 398,4186 393,4206 391,4226M427,3507 430,3527 430,3547 431,3567 435,3587 435,3607 437,3627 439,3647 437,3667 438,3687 438,3707 437,3727 439,3747 438,3767 437,3787 437,3807 433,3827 432,3847 431,3866 429,3886 430,3906 429,3926 426,3946 426,3966 423,3986 420,4006 422,4026 420,4046 420,4066 421,4086 417,4106 416,4126 415,4146 411,4166 412,4186 410,4206 407,4226M441,3507 442,3527 444,3547 443,3567 446,3587 447,3607 445,3627 446,3647 445,3667 444,3687 446,3707 446,3727 447,3747 448,3767 445,3787 446,3807 445,3827 443,3847 446,3866 445,3886 444,3906 445,3926 441,3946 439,3966 439,3986 436,4006 437,4026 436,4046 433,4066 432,4086 428,4106 424,4126 424,4146 421,4166 420,4186 419,4206 414,4226M454,3507 454,3527 458,3547 460,3567 460,3587 463,3607 462,3627 462,3647 464,3667 463,3687 465,3707 466,3727 463,3747 464,3767 462,3787 459,3807 460,3827 458,3847 458,3866 458,3886 454,3906 453,3926 452,3946 449,3966 450,3986 449,4006 448,4026 449,4046 446,4066 444,4086 444,4106 440,4126 441,4146 441,4166 437,4186 437,4206 433,4226M465,3507 469,3527 469,3547 468,3567 470,3587 469,3607 470,3627 473,3647 472,3667 474,3687 474,3707 471,3727 473,3747 472,3767 471,3787 473,3807 471,3827 470,3847 470,3866 466,3886 466,3906 466,3926 463,3946 465,3966 463,3986 460,4006 460,4026 457,4046 455,4066 456,4086 453,4106 453,4126 452,4146 447,4166 446,4186 443,4206 440,4226M481,3507 481,3527 485,3547 485,3567 486,3587 487,3607 484,3627 484,3647 483,3667 482,3687 484,3707 484,3727 483,3747 484,3767 481,3787 480,3807 481,3827 480,3847 482,3866 483,3886 480,3906 481,3926 479,3946 477,3966 478,3986 477,4006 477,4026 477,4046 472,4066 470,4086 468,4106 463,4126 464,4146 462,4166 458,4186 457,4206 452,4226M491,3507 494,3527 495,3547 493,3567 496,3587 497,3607 497,3627 500,3647 498,3667 498,3687 498,3707 496,3727 497,3747 497,3767 495,3787 497,3807 495,3827 492,3847 493,3866 491,3886 490,3906 492,3926 489,3946 489,3966 488,3986 485,4006 485,4026 484,4046 482,4066 483,4086 480,4106 478,4126 477,4146 472,4166 471,4186 470,4206 466,4226M505,3507 507,3527 505,3547 507,3567 509,3587 509,3607 512,3627 512,3647 510,3667 512,3687 511,3707 512,3727 515,3747 514,3767 514,3787 515,3807 511,3827 511,3847 510,3866 509,3886 510,3906 508,3926 506,3946 505,3966 501,3986 499,4006 499,4026 497,4046 497,4066 496,4086 492,4106 491,4126 488,4146 485,4166 486,4186 483,4206 482,4226M517,3507 519,3527 518,3547 520,3567 520,3587 518,3607 519,3627 518,3647 517,3667 520,3687 520,3707 520,3727 522,3747 519,3767 520,3787 521,3807 520,3827 523,3847 523,3866 521,3886 522,3906 519,3926 517,3946 518,3966 515,3986 515,4006 514,4026 509,4046 508,4066 504,4086 500,4106 500,4126 497,4146 495,4166 494,4186 490,4206 487,4226M535,3507 535,3527 537,3547 534,3567 534,3587 535,3607 533,3627 535,3647 536,3667 534,3687 535,3707 533,3727 531,3747 534,3767 533,3787 534,3807 536,3827 534,3847 534,3866 533,3886 531,3906 534,3926 533,3946 532,3966 533,3986 529,4006 526,4026 526,4046 522,4066 522,4086 521,4106 516,4126 515,4146 510,4166 506,4186 505,4206 501,4226M546,3507 546,3527 546,3547 549,3567 548,3587 550,3607 552,3627 551,3647 553,3667 552,3687 550,3707 552,3727 550,3747 549,3767 551,3787 549,3807 548,3827 547,3847 544,3866 544,3886 544,3906 542,3926 543,3946 541,3966 539,3986 539,4006 536,4026 536,4046 536,4066 534,4086 534,4106 532,4126 528,4146 528,4166 525,4186 522,4206 522,4226M555,3507 555,3527 558,3547 557,3567 559,3587 561,3607 558,3627 558,3647 558,3667 556,3687 559,3707 560,3727 560,3747 562,3767 559,3787 558,3807 559,3827 557,3847 559,3866 560,3886 558,3906 559,3926 556,3946 553,3966 553,3986 551,4006 550,4026 551,4046 546,4066 544,4086 541,4106 537,4126 537,4146 535,4166 532,4186 533,4206 528,4226M573,3507 574,3527 572,3547 573,3567 572,3587 571,3607 573,3627 572,3647 573,3667 575,3687 573,3707 574,3727 575,3747 574,3767 576,3787 577,3807 576,3827 578,3847 576,3866 575,3886 576,3906 573,3926 573,3946 573,3966 569,3986 569,4006 566,4026 562,4046 562,4066 558,4086 556,4106 555,4126 551,4146 549,4166 547,4186 543,4206 543,4226M582,3507 585,3527 584,3547 583,3567 586,3587 585,3607 586,3627 588,3647 587,3667 588,3687 588,3707 586,3727 589,3747 588,3767 588,3787 590,3807 587,3827 587,3847 587,3866 584,3886 585,3906 585,3926 582,3946 582,3966 579,3986 577,4006 577,4026 573,4046 572,4066 572,4086 568,4106 568,4126 565,4146 561,4166 561,4186 559,4206 556,4226M596,3507 595,3527 597,3547 600,3567 599,3587 600,3607 601,3627 599,3647 602,3667 601,3687 600,3707 602,3727 600,3747 599,3767 599,3787 597,3807 598,3827 598,3847 595,3866 596,3886 594,3906 592,3926 593,3946 591,3966 591,3986 591,4006 588,4026 588,4046 587,4066 583,4086 583,4106 581,4126 578,4146 579,4166 574,4186 572,4206 570,4226M607,3507 608,3527 610,3547 609,3567 612,3587 612,3607 610,3627 611,3647 608,3667 609,3687 612,3707 611,3727 613,3747 614,3767 611,3787 613,3807 612,3827 611,3847 614,3866 614,3886 613,3906 613,3926 609,3946 607,3966 606,3986 603,4006 604,4026 603,4046 598,4066 597,4086 592,4106 589,4126 589,4146 586,4166 585,4186 584,4206 579,4226M624,3507 622,3527 622,3547 625,3567 625,3587 627,3607 628,3627 626,3647 627,3667 626,3687 624,3707 627,3727 626,3747 626,3767 627,3787 624,3807 623,3827 624,3847 621,3866 623,3886 623,3906 621,3926 622,3946 619,3966 617,3986 617,4006 615,4026 615,4046 615,4066 611,4086 610,4106 607,4126 603,4146 603,4166 600,4186 597,4206 597,4226M639,3507 637,3527 639,3547 639,3567 638,3587 641,3607 640,3627 640,3647 642,3667 638,3687 638,3707 638,3727 635,3747 637,3767 637,3787 636,3807 637,3827 635,3847 633,3866 635,3886 633,3906 634,3926 636,3946 633,3966 633,3986 631,4006 628,4026 629,4046 627,4066 626,4086 626,4106 621,4126 618,4146 616,4166 611,4186 610,4206 608,4226M643,3507 645,3527 645,3547 645,3567 649,3587 649,3607 651,3627 653,3647 652,3667 654,3687 654,3707 653,3727 656,3747 655,3767 654,3787 655,3807 652,3827 651,3847 651,3866 647,3886 648,3906 646,3926 643,3946 643,3966 640,3986 637,4006 638,4026 635,4046 634,4066 635,4086 631,4106 631,4126 629,4146 626,4166 627,4186 625,4206 623,4226M660,3507 660,3527 662,3547 661,3567 660,3587 663,3607 663,3627 666,3647 668,3667 667,3687 668,3707 667,3727 666,3747 668,3767 668,3787 668,3807 669,3827 666,3847 664,3866 663,3886 659,3906 660,3926 659,3946 657,3966 657,3986 654,4006 650,4026 650,4046 647,4066 647,4086 648,4106 645,4126 644,4146 642,4166 637,4186 638,4206 635,4226M668,3507 671,3527 671,3547 671,3567 673,3587 671,3607 671,3627 673,3647 672,3667 676,3687 677,3707 676,3727 678,3747 677,3767 676,3787 679,3807 677,3827 678,3847 679,3866 676,3886 675,3906 673,3926 670,3946 671,3966 668,3986 666,4006 666,4026 661,4046 658,4066 657,4086 653,4106 653,4126 652,4146 649,4166 649,4186 646,4206 642,4226M685,3507 689,3527 689,3547 690,3567 693,3587 691,3607 690,3627 690,3647 687,3667 689,3687 690,3707 689,3727 690,3747 688,3767 686,3787 687,3807 685,3827 686,3847 688,3866 686,3886 687,3906 686,3926 683,3946 684,3966 683,3986 682,4006 684,4026 680,4046 678,4066 677,4086 672,4106 671,4126 670,4146 666,4166 666,4186 661,4206 657,4226M695,3507 698,3527 698,3547 700,3567 701,3587 699,3607 702,3627 702,3647 703,3667 706,3687 704,3707 704,3727 704,3747 700,3767 701,3787 701,3807 699,3827 701,3847 698,3866 695,3886 695,3906 692,3926 692,3946 693,3966 691,3986 691,4006 690,4026 686,4046 686,4066 684,4086 683,4106 685,4126 682,4146 680,4166 678,4186 673,4206 671,4226M709,3507 709,3527 712,3547 714,3567 713,3587 715,3607 714,3627 713,3647 716,3667 715,3687 717,3707 718,3727 715,3747 715,3767 714,3787 712,3807 714,3827 713,3847 711,3866 712,3886 708,3906 707,3926 707,3946 704,3966 706,3986 705,4006 702,4026 702,4046 699,4066 697,4086 697,4106 694,4126 694,4146 693,4166 689,4186 687,4206 684,4226M720,3507 722,3527 721,3547 724,3567 725,3587 726,3607 729,3627 728,3647 729,3667 731,3687 729,3707 731,3727 732,3747 730,3767 732,3787 730,3807 728,3827 728,3847 726,3866 724,3886 725,3906 721,3926 720,3946 719,3966 715,3986 715,4006 714,4026 712,4046 713,4066 710,4086 708,4106 708,4126 705,4146 704,4166 704,4186 701,4206 701,4226M738,3507 740,3527 740,3547 739,3567 742,3587 741,3607 742,3627 744,3647 741,3667 742,3687 742,3707 740,3727 742,3747 741,3767 740,3787 742,3807 739,3827 738,3847 739,3866 736,3886 738,3906 738,3926 735,3946 736,3966 734,3986 732,4006 732,4026 729,4046 729,4066 729,4086 725,4106 723,4126 721,4146 716,4166 716,4186 713,4206 710,4226M743,3507 746,3527 749,3547 748,3567 751,3587 751,3607 750,3627 753,3647 753,3667 755,3687 758,3707 756,3727 758,3747 757,3767 754,3787 756,3807 755,3827 754,3847 755,3866 751,3886 749,3906 748,3926 744,3946 744,3966 743,3986 740,4006 741,4026 738,4046 735,4066 735,4086 732,4106 731,4126 732,4146 729,4166 729,4186 727,4206 723,4226M765,3507 766,3527 768,3547 766,3567 767,3587 769,3607 768,3627 771,3647 771,3667 769,3687 769,3707 767,3727 766,3747 768,3767 766,3787 767,3807 767,3827 764,3847 764,3866 763,3886 761,3906 763,3926 762,3946 761,3966 762,3986 758,4006 756,4026 756,4046 754,4066 755,4086 754,4106 750,4126 749,4146 744,4166 741,4186 741,4206 737,4226M773,3507 774,3527 777,3547 776,3567 777,3587 778,3607 775,3627 777,3647 778,3667 778,3687 781,3707 780,3727 779,3747 781,3767 778,3787 779,3807 781,3827 779,3847 781,3866 779,3886 776,3906 777,3926 774,3946 772,3966 773,3986 770,4006 769,4026 767,4046 763,4066 762,4086 760,4106 757,4126 758,4146 754,4166 752,4186 751,4206 746,4226M786,3507 790,3527 789,3547 790,3567 793,3587 792,3607 795,3627 798,3647 796,3667 798,3687 797,3707 795,3727 796,3747 794,3767 794,3787 795,3807 792,3827 791,3847 789,3866 785,3886 786,3906 785,3926 784,3946 785,3966 782,3986 780,4006 780,4026 777,4046 778,4066 779,4086 776,4106 777,4126 774,4146 770,4166 770,4186 767,4206 765,4226M802,3507 802,3527 805,3547 804,3567 805,3587 807,3607 805,3627 806,3647 805,3667 803,3687 805,3707 804,3727 803,3747 804,3767 802,3787 801,3807 802,3827 800,3847 801,3866 802,3886 800,3906 801,3926 800,3946 798,3966 799,3986 796,4006 796,4026 796,4046 792,4066 792,4086 790,4106 785,4126 784,4146 781,4166 778,4186 777,4206 773,4226M814,3507 815,3527 814,3547 814,3567 816,3587 816,3607 817,3627 819,3647 816,3667 818,3687 818,3707 817,3727 820,3747 820,3767 820,3787 822,3807 819,3827 819,3847 819,3866 817,3886 819,3906 818,3926 815,3946 815,3966 811,3986 808,4006 808,4026 805,4046 804,4066 804,4086 799,4106 797,4126 795,4146 791,4166 791,4186 789,4206 787,4226M828,3507 827,3527 830,3547 831,3567 832,3587 836,3607 834,3627 834,3647 834,3667 830,3687 832,3707 832,3727 831,3747 832,3767 830,3787 826,3807 827,3827 824,3847 824,3866 826,3886 824,3906 825,3926 824,3946 821,3966 822,3986 821,4006 820,4026 823,4046 820,4066 818,4086 817,4106 812,4126 811,4146 810,4166 807,4186 807,4206 803,4226M839,3507 838,3527 840,3547 838,3567 836,3587 838,3607 837,3627 839,3647 842,3667 840,3687 841,3707 840,3727 839,3747 841,3767 842,3787 843,3807 845,3827 843,3847 842,3866 842,3886 839,3906 840,3926 840,3946 838,3966 838,3986 834,4006 830,4026 829,4046 825,4066 824,4086 824,4106 820,4126 819,4146 815,4166 810,4186 810,4206 808,4226M854,3507 855,3527 856,3547 853,3567 855,3587 854,3607 853,3627 855,3647 854,3667 853,3687 854,3707 851,3727 852,3747 853,3767 852,3787 854,3807 854,3827 852,3847 854,3866 853,3886 852,3906 854,3926 852,3946 852,3966 852,3986 848,4006 847,4026 846,4046 842,4066 842,4086 839,4106 835,4126 834,4146 829,4166 826,4186 825,4206 820,4226M867,3507 867,3527 868,3547 870,3567 869,3587 871,3607 873,3627 872,3647 874,3667 873,3687 871,3707 871,3727 869,3747 869,3767 870,3787 867,3807 868,3827 867,3847 863,3866 864,3886 863,3906 861,3926 863,3946 861,3966 861,3986 861,4006 857,4026 857,4046 857,4066 855,4086 856,4106 853,4126 850,4146 849,4166 845,4186 842,4206 841,4226M875,3507 878,3527 878,3547 876,3567 878,3587 877,3607 878,3627 881,3647 880,3667 882,3687 883,3707 880,3727 881,3747 881,3767 880,3787 883,3807 882,3827 881,3847 881,3866 877,3886 877,3906 877,3926 874,3946 875,3966 873,3986 870,4006 869,4026 866,4046 864,4066 864,4086 861,4106 861,4126 860,4146 855,4166 854,4186 851,4206 848,4226M891,3507 889,3527 892,3547 892,3567 893,3587 896,3607 894,3627 894,3647 894,3667 891,3687 892,3707 893,3727 891,3747 893,3767 892,3787 890,3807 891,3827 888,3847 889,3866 891,3886 889,3906 890,3926 889,3946 885,3966 886,3986 884,4006 883,4026 884,4046 881,4066 879,4086 878,4106 873,4126 872,4146 870,4166 866,4186 866,4206 862,4226M905,3507 907,3527 908,3547 906,3567 907,3587 908,3607 907,3627 910,3647 909,3667 907,3687 908,3707 904,3727 905,3747 906,3767 904,3787 906,3807 905,3827 902,3847 903,3866 901,3886 900,3906 903,3926 901,3946 902,3966 902,3986 898,4006 898,4026 896,4046 894,4066 895,4086 892,4106 890,4126 888,4146 883,4166 880,4186 879,4206 874,4226M915,3507 914,3527 916,3547 919,3567 917,3587 918,3607 918,3627 917,3647 920,3667 921,3687 922,3707 925,3727 922,3747 922,3767 923,3787 921,3807 923,3827 924,3847 922,3866 922,3886 919,3906 916,3926 916,3946 913,3966 912,3986 913,4006 908,4026 907,4046 904,4066 900,4086 900,4106 899,4126 897,4146 898,4166 894,4186 891,4206 890,4226" fill="none" stroke="#ffc860" stroke-width="3.8" opacity="0.4" stroke-linejoin="round" filter="url(#bl1)"/>
<rect x="67" y="3507" width="727" height="719" filter="url(#grain)" opacity="0.5"/>
</g>
<rect x="68" y="3508" width="725" height="717" fill="none" stroke="#7a3a14" stroke-width="2.5" opacity="0.85"/>
<text x="272" y="3753" font-size="40" fill="#4a2420" textLength="246" lengthAdjust="spacingAndGlyphs">scan profile d</text>
<path d="M247,3770H540" stroke="#4c2272" stroke-width="4.5"/>
<path d="M630,4189H775.5M630,4179v20M775.5,4179v20" stroke="#4a0f0c" stroke-width="3.2" fill="none" opacity="0.9"/>
<text x="697" y="4170" font-size="21" text-anchor="middle" fill="#4a0f0c" font-family='"DejaVu Sans Mono","Liberation Mono",monospace' opacity="0.85" font-style="italic" xml:space="preserve">1  µm</text>
<linearGradient id="cb3507" x1="0" y1="0" x2="0" y2="1"><stop offset="0.000" stop-color="#ffffff"/><stop offset="0.050" stop-color="#ffffff"/><stop offset="0.110" stop-color="#fdf3df"/><stop offset="0.185" stop-color="#fce2ae"/><stop offset="0.260" stop-color="#f9c566"/><stop offset="0.333" stop-color="#f6a844"/><stop offset="0.407" stop-color="#f3943a"/><stop offset="0.480" stop-color="#ee7e30"/><stop offset="0.556" stop-color="#e5642a"/><stop offset="0.630" stop-color="#d4431c"/><stop offset="0.704" stop-color="#ae2e14"/><stop offset="0.778" stop-color="#82200f"/><stop offset="0.852" stop-color="#57150b"/><stop offset="0.926" stop-color="#2c0a06"/><stop offset="1.000" stop-color="#000000"/></linearGradient>
<rect x="800" y="3507.5" width="22" height="718.0" fill="url(#cb3507)"/>
<rect x="794" y="3507.5" width="6" height="718.0" fill="#b9aca2"/>
<rect x="822" y="3507.5" width="6" height="718.0" fill="#a9a7a6"/>
<rect x="797" y="3505.5" width="40" height="6" fill="#999a9b"/>
<path d="M827,4225.5h10M827,4170.1h10M827,4114.7h10M827,4059.3h10M827,4003.9h10M827,3948.5h10M827,3893.1h10M827,3837.7h10M827,3782.3h10M827,3726.9h10M827,3671.5h10M827,3616.1h10M827,3560.7h10" stroke="#555" stroke-width="4.5" fill="none"/>
<text x="837.4" y="4245.0" font-size="52" text-anchor="start" fill="#141414"  stroke="#fff" stroke-width="0.45">0.0</text>
<text x="842.0" y="4137.3" font-size="52" text-anchor="start" fill="#141414"  stroke="#fff" stroke-width="0.45">0.2</text>
<text x="843.6" y="4025.1" font-size="52" text-anchor="start" fill="#141414"  stroke="#fff" stroke-width="0.45">0.4</text>
<text x="843.6" y="3917.3" font-size="52" text-anchor="start" fill="#141414"  stroke="#fff" stroke-width="0.45">0.6</text>
<text x="845.0" y="3805.4" font-size="52" text-anchor="start" fill="#141414"  stroke="#fff" stroke-width="0.45">0.8</text>
<text x="845.0" y="3690.4" font-size="52" text-anchor="start" fill="#141414"  stroke="#fff" stroke-width="0.45">1.0</text>
<text x="845.0" y="3582.2" font-size="52" text-anchor="start" fill="#141414"  stroke="#fff" stroke-width="0.45">1.2</text>
<text x="845.0" y="3513.5" font-size="52" text-anchor="start" fill="#141414" textLength="165" lengthAdjust="spacing" stroke="#fff" stroke-width="0.45">1.3 nm</text>
<path d="M915,3531.5H986" stroke="#c8c8c8" stroke-width="1.6" stroke-dasharray="5 5"/>
<text transform="translate(960.4,3886.6) rotate(-90)" font-size="48.5" text-anchor="middle" fill="#262626" y="18">Height, nm</text>
<rect x="1126" y="3507" width="985.5" height="720.5" fill="#fff" stroke="#141414" stroke-width="5"/>
<path d="M1372.4,4227.5v-19M1618.8,4227.5v-19M1865.1,4227.5v-19M1249.2,4227.5v-11M1495.6,4227.5v-11M1741.9,4227.5v-11M1988.3,4227.5v-11M1126,4147.4h19M1126,4067.4h19M1126,3987.3h19M1126,3907.3h19M1126,3827.2h19M1126,3747.2h19M1126,3667.1h19M1126,3587.1h19M1126,4187.5h11M1126,4107.4h11M1126,4027.4h11M1126,3947.3h11M1126,3867.2h11M1126,3787.2h11M1126,3707.1h11M1126,3627.1h11M1126,3547.0h11" stroke="#141414" stroke-width="4.2" fill="none"/>
<text x="1123.3" y="4304.0" font-size="52" text-anchor="middle" fill="#141414"  stroke="#fff" stroke-width="0.45">0.0</text>
<text x="1379.0" y="4300.0" font-size="52" text-anchor="middle" fill="#141414"  stroke="#fff" stroke-width="0.45">0.5</text>
<text x="1622.8" y="4300.0" font-size="52" text-anchor="middle" fill="#141414"  stroke="#fff" stroke-width="0.45">1.0</text>
<text x="1871.6" y="4305.0" font-size="52" text-anchor="middle" fill="#141414"  stroke="#fff" stroke-width="0.45">1.5</text>
<text x="2123.5" y="4300.0" font-size="52" text-anchor="middle" fill="#141414"  stroke="#fff" stroke-width="0.45">2.0</text>
<text x="1104.0" y="4244.5" font-size="52" text-anchor="end" fill="#141414"  stroke="#fff" stroke-width="0.45">0.3</text>
<text x="1103.0" y="4164.0" font-size="52" text-anchor="end" fill="#141414"  stroke="#fff" stroke-width="0.45">0.4</text>
<text x="1104.0" y="4086.0" font-size="52" text-anchor="end" fill="#141414"  stroke="#fff" stroke-width="0.45">0.5</text>
<text x="1106.0" y="4007.5" font-size="52" text-anchor="end" fill="#141414"  stroke="#fff" stroke-width="0.45">0.6</text>
<text x="1106.0" y="3923.7" font-size="52" text-anchor="end" fill="#141414"  stroke="#fff" stroke-width="0.45">0.7</text>
<text x="1112.0" y="3847.5" font-size="52" text-anchor="end" fill="#141414"  stroke="#fff" stroke-width="0.45">0.8</text>
<text x="1110.7" y="3766.4" font-size="52" text-anchor="end" fill="#141414"  stroke="#fff" stroke-width="0.45">0.9</text>
<text x="1109.0" y="3683.8" font-size="52" text-anchor="end" fill="#141414"  stroke="#fff" stroke-width="0.45">1.0</text>
<text x="1112.0" y="3610.3" font-size="52" text-anchor="end" fill="#141414"  stroke="#fff" stroke-width="0.45">1.1</text>
<text x="1110.0" y="3533.3" font-size="52" text-anchor="end" fill="#141414"  stroke="#fff" stroke-width="0.45">1.2</text>
<clipPath id="cp3507"><rect x="1126" y="3507" width="985.5" height="720.5"/></clipPath>
<polyline clip-path="url(#cp3507)" points="1128.0,3830.8 1132.5,3908.5 1136.9,4022.1 1144.4,4023.6 1150.4,3983.2 1155.5,3938.4 1159.4,3938.4 1163.2,3959.3 1168.3,3808.3 1174.3,3848.7 1181.8,3908.5 1187.8,3936.9 1193.7,3762.0 1199.7,3762.0 1205.7,3709.7 1211.7,3818.8 1220.6,3893.5 1229.6,3953.3 1235.6,4034.0 1242.2,4068.4 1249.0,4052.0 1255.0,3968.3 1259.5,3803.9 1267.6,3763.5 1274.4,3836.7 1278.9,3814.3 1286.4,3824.8 1292.4,3777.0 1298.4,3669.3 1304.3,3569.2 1310.3,3684.3 1316.3,3768.0 1321.7,3791.9 1328.8,3778.5 1332.7,3908.5 1334.8,4004.1 1341.7,4035.5 1347.7,4002.6 1353.7,4028.0 1359.6,4113.2 1367.1,4087.8 1373.1,3938.4 1379.1,3841.2 1385.0,3893.5 1391.0,3930.9 1397.0,3914.5 1403.0,3832.3 1409.0,3950.3 1416.4,3986.2 1421.8,4028.0 1426.9,3881.6 1434.4,3869.6 1440.3,3889.0 1447.2,3884.6 1453.8,3923.4 1459.8,4037.0 1465.8,4080.4 1471.0,3914.5 1476.9,3893.5 1482.9,3871.1 1489.5,3927.9 1495.5,3880.1 1500.9,3968.3 1506.8,4052.0 1514.3,4050.5 1520.3,4084.8 1527.2,4102.8 1532.2,3998.2 1536.1,3878.6 1539.1,3779.9 1544.2,3908.5 1551.1,3941.4 1557.7,3899.5 1564.2,3892.0 1571.1,3989.2 1581.6,4043.0 1589.0,4138.6 1596.5,4057.9 1607.0,3935.4 1613.8,3917.4 1618.9,4028.0 1625.8,4159.6 1631.8,4167.0 1638.4,4132.7 1644.3,4077.4 1650.3,4083.3 1656.3,4028.0 1663.2,3987.7 1669.7,4057.9 1675.7,4129.7 1683.2,4087.8 1689.2,3968.3 1693.7,3863.6 1699.6,3833.8 1706.5,3826.3 1713.1,3878.6 1719.1,3995.2 1725.0,3929.4 1731.0,3917.4 1738.5,3959.3 1744.5,3908.5 1749.9,3850.2 1756.4,3866.6 1762.4,3938.4 1769.9,4028.0 1775.3,4168.5 1780.3,4192.4 1786.3,4174.5 1792.3,4147.6 1799.2,4170.0 1804.3,4057.9 1811.0,3947.3 1816.9,3965.3 1822.9,4005.6 1830.4,3992.2 1836.4,3932.4 1842.4,3706.7 1846.8,3750.1 1855.2,3777.0 1861.8,3878.6 1867.8,3956.3 1873.1,4017.6 1882.7,3893.5 1891.7,3771.0 1897.7,3766.5 1904.5,3736.6 1911.1,3851.7 1916.2,3865.1 1923.1,3836.7 1926.0,3938.4 1929.0,4034.0 1935.0,4046.0 1940.1,4060.9 1947.0,4025.1 1953.0,4132.7 1958.9,4060.9 1964.9,4069.9 1971.8,4211.9 1978.4,4117.7 1981.3,3938.4 1985.8,3759.0 1990.3,3660.4 1997.8,3729.1 2008.2,3753.0 2014.8,3892.0 2021.7,3902.5 2027.7,3788.9 2035.2,3691.8 2040.5,3703.7 2045.6,3797.9 2052.5,3772.5 2059.1,3848.7 2066.5,3908.5 2071.0,4026.5 2077.0,3965.3 2083.6,3981.7 2089.0,3866.6 2096.4,3865.1 2102.4,3850.2 2109.9,3845.7" fill="none" stroke="#0c0c0c" stroke-width="5" stroke-linejoin="round" stroke-linecap="round"/>
<text x="1544.6" y="3580.0" font-size="40" text-anchor="start" fill="#3c3c3c" textLength="148" lengthAdjust="spacingAndGlyphs">profile d</text>
<text x="1598.6" y="4362.6" font-size="50" text-anchor="middle" fill="#262626" >Distance, µm</text>
<text x="1021.8" y="4398.0" font-size="86" text-anchor="middle" fill="#1c1c1c" >(d)</text>
</svg>
</body></html>
